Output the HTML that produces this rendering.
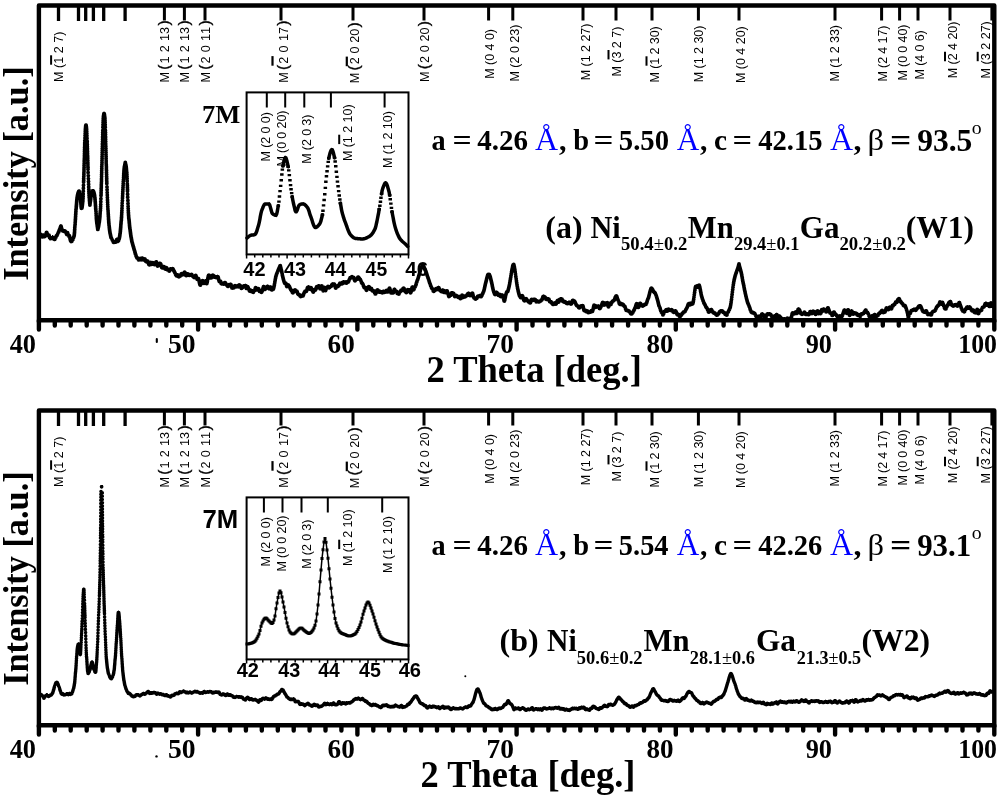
<!DOCTYPE html>
<html><head><meta charset="utf-8"><title>XRD</title>
<style>html,body{margin:0;padding:0;background:#fff}svg{display:block;will-change:transform}svg{font-family:"Liberation Sans",sans-serif;fill:#000}.s{font-family:"Liberation Serif",serif;font-weight:bold}.sr{font-family:"Liberation Serif",serif;font-weight:normal}.b{font-family:"Liberation Sans",sans-serif;font-weight:bold}.bp{font-size:15.5px;stroke:#000;stroke-width:.35}.bl{fill:#0000fa}</style></head><body>
<svg width="1000" height="799" viewBox="0 0 1000 799">
<rect width="1000" height="799" fill="#fff"/>
<defs>
<g id="frame">
<path d="M54.8,320.3V325.5M70.7,320.3V325.5M86.7,320.3V325.5M102.6,320.3V325.5M118.5,320.3V325.5M134.4,320.3V325.5M150.4,320.3V325.5M166.3,320.3V325.5M182.2,320.3V325.5M214.1,320.3V325.5M230.0,320.3V325.5M245.9,320.3V325.5M261.8,320.3V325.5M277.8,320.3V325.5M293.7,320.3V325.5M309.6,320.3V325.5M325.5,320.3V325.5M341.4,320.3V325.5M373.3,320.3V325.5M389.2,320.3V325.5M405.1,320.3V325.5M421.1,320.3V325.5M437.0,320.3V325.5M452.9,320.3V325.5M468.8,320.3V325.5M484.8,320.3V325.5M500.7,320.3V325.5M532.5,320.3V325.5M548.4,320.3V325.5M564.4,320.3V325.5M580.3,320.3V325.5M596.2,320.3V325.5M612.1,320.3V325.5M628.1,320.3V325.5M644.0,320.3V325.5M659.9,320.3V325.5M691.8,320.3V325.5M707.7,320.3V325.5M723.6,320.3V325.5M739.5,320.3V325.5M755.5,320.3V325.5M771.4,320.3V325.5M787.3,320.3V325.5M803.2,320.3V325.5M819.1,320.3V325.5M851.0,320.3V325.5M866.9,320.3V325.5M882.8,320.3V325.5M898.8,320.3V325.5M914.7,320.3V325.5M930.6,320.3V325.5M946.5,320.3V325.5M962.5,320.3V325.5M978.4,320.3V325.5M38.9,320.3V329.5M198.1,320.3V329.5M357.4,320.3V329.5M516.6,320.3V329.5M675.8,320.3V329.5M835.1,320.3V329.5M994.3,320.3V329.5" stroke="#000" stroke-width="4.4" stroke-linecap="round" fill="none"/>
<path d="M38.9,322.3V5.55H994.3V322.3M38.9,320.3H994.3" stroke="#000" stroke-width="4.4" fill="none" stroke-linejoin="round"/>
<path d="M58.5,5.55V21M78.5,5.55V21M85.7,5.55V21M93.4,5.55V21M103.7,5.55V21M125.1,5.55V21" stroke="#000" stroke-width="3.3" fill="none"/>
<path d="M164.4,5.55V20.6M184.4,5.55V20.6M205.0,5.55V20.6M281.0,5.55V20.6M353.0,5.55V20.6M424.0,5.55V20.6M488.6,5.55V20.6M512.8,5.55V20.6M583.0,5.55V20.6M616.0,5.55V20.6M652.0,5.55V20.6M698.4,5.55V20.6M739.0,5.55V20.6M835.0,5.55V20.6M881.6,5.55V20.6M899.6,5.55V20.6M918.0,5.55V20.6M950.0,5.55V20.6M991.9,5.55V20.6" stroke="#000" stroke-width="3.0" fill="none"/>
<text transform="translate(63.4,82.0) rotate(-90)" textLength="50.4" lengthAdjust="spacing" font-size="12.5">M (1 2 7)</text><path d="M51.1,64.7v-9.4" stroke="#000" stroke-width="2.0"/>
<text transform="translate(168.9,81.6) rotate(-90)" x="-0.9 11.8 18.1 29.4 40.7 47.7 56.0" font-size="12.6">M<tspan class="bp">(</tspan>1213<tspan class="bp">)</tspan></text>
<text transform="translate(189.3,81.6) rotate(-90)" x="-0.9 11.8 18.1 29.4 40.7 47.7 56.0" font-size="12.6">M<tspan class="bp">(</tspan>1213<tspan class="bp">)</tspan></text>
<text transform="translate(209.7,81.6) rotate(-90)" x="-0.9 11.8 18.1 29.4 40.7 47.7 56.0" font-size="12.6">M<tspan class="bp">(</tspan>2011<tspan class="bp">)</tspan></text>
<text transform="translate(287.8,81.8) rotate(-90)" x="-0.9 11.8 18.1 29.4 40.7 47.7 56.0" font-size="12.6">M<tspan class="bp">(</tspan>2017<tspan class="bp">)</tspan></text><path d="M272.5,65.7v-9.6" stroke="#000" stroke-width="2.2"/>
<text transform="translate(359.4,82.3) rotate(-90)" x="-0.9 11.8 18.1 28.8 39.6 46.6 54.9" font-size="12.6">M<tspan class="bp">(</tspan>2020<tspan class="bp">)</tspan></text><path d="M346.8,66.2v-9.6" stroke="#000" stroke-width="2.2"/>
<text transform="translate(428.5,81.0) rotate(-90)" x="-0.9 11.8 18.1 28.8 39.5 46.5 54.8" font-size="12.6">M<tspan class="bp">(</tspan>2020<tspan class="bp">)</tspan></text>
<text transform="translate(494.4,78.8) rotate(-90)" textLength="49.8" lengthAdjust="spacing" font-size="12.5">M (0 4 0)</text>
<text transform="translate(519.2,81.6) rotate(-90)" textLength="57.0" lengthAdjust="spacing" font-size="12.5">M (2 0 23)</text>
<text transform="translate(589.5,80.2) rotate(-90)" textLength="56.6" lengthAdjust="spacing" font-size="12.5">M (1 2 27)</text>
<text transform="translate(620.8,76.6) rotate(-90)" textLength="50.0" lengthAdjust="spacing" font-size="12.5">M (3 2 7)</text><path d="M608.5,59.4v-9.4" stroke="#000" stroke-width="2.0"/>
<text transform="translate(658.8,82.6) rotate(-90)" textLength="56.4" lengthAdjust="spacing" font-size="12.5">M (1 2 30)</text><path d="M646.5,65.7v-9.4" stroke="#000" stroke-width="2.0"/>
<text transform="translate(703.3,82.2) rotate(-90)" textLength="56.6" lengthAdjust="spacing" font-size="12.5">M (1 2 30)</text>
<text transform="translate(744.7,83.0) rotate(-90)" textLength="56.8" lengthAdjust="spacing" font-size="12.5">M (0 4 20)</text>
<text transform="translate(839.2,81.6) rotate(-90)" textLength="56.6" lengthAdjust="spacing" font-size="12.5">M (1 2 33)</text>
<text transform="translate(886.8,81.6) rotate(-90)" textLength="56.0" lengthAdjust="spacing" font-size="12.5">M (2 4 17)</text>
<text transform="translate(907.0,80.6) rotate(-90)" textLength="56.0" lengthAdjust="spacing" font-size="12.5">M (0 0 40)</text>
<text transform="translate(923.7,79.6) rotate(-90)" textLength="49.4" lengthAdjust="spacing" font-size="12.5">M (4 0 6)</text>
<text transform="translate(957.3,78.2) rotate(-90)" textLength="56.6" lengthAdjust="spacing" font-size="12.5">M (2 4 20)</text><path d="M945.0,61.2v-9.4" stroke="#000" stroke-width="2.0"/>
<text transform="translate(990.0,78.4) rotate(-90)" textLength="57.2" lengthAdjust="spacing" font-size="12.5">M (3 2 27)</text><path d="M977.7,61.2v-9.4" stroke="#000" stroke-width="2.0"/>
</g>
<g id="nums">
<text class="s" font-size="26.6" transform="translate(9.67,353.00) scale(0.9893,1)">40</text>
<text class="s" font-size="26.6" transform="translate(167.99,353.00) scale(1.0392,1)">50</text>
<text class="s" font-size="26.6" transform="translate(327.55,353.00) scale(1.0214,1)">60</text>
<text class="s" font-size="26.6" transform="translate(486.62,353.00) scale(1.0302,1)">70</text>
<text class="s" font-size="26.6" transform="translate(646.42,353.00) scale(1.0187,1)">80</text>
<text class="s" font-size="26.6" transform="translate(805.68,353.00) scale(0.9891,1)">90</text>
<text class="s" font-size="26.6" transform="translate(958.23,353.00) scale(0.9708,1)">100</text>
</g>
<g id="xt"><text class="s" font-size="38" transform="translate(426.45,381.60) scale(0.9612,1)">2 Theta [deg.]</text></g>
<text id="yt" class="s" font-size="35.5" transform="translate(27.6,280.82) rotate(-90) scale(0.9668,1)">Intensity [a.u.]</text>
<g id="inset">
<rect x="246.6" y="92.4" width="161.9" height="162" fill="#fff" stroke="#000" stroke-width="2"/>
<path d="M246.6,254.4v4.2M254.7,254.4v3.0M262.8,254.4v3.0M270.9,254.4v3.0M279.0,254.4v3.0M287.1,254.4v4.2M295.2,254.4v3.0M303.3,254.4v3.0M311.4,254.4v3.0M319.5,254.4v3.0M327.6,254.4v4.2M335.6,254.4v3.0M343.7,254.4v3.0M351.8,254.4v3.0M359.9,254.4v3.0M368.0,254.4v4.2M376.1,254.4v3.0M384.2,254.4v3.0M392.3,254.4v3.0M400.4,254.4v3.0M408.5,254.4v4.2" stroke="#000" stroke-width="1.5" fill="none"/>
<text transform="translate(270.2,161.6) rotate(-90)" textLength="49.5" lengthAdjust="spacing" font-size="12.5">M (2 0 0)</text>
<text transform="translate(286.0,166.6) rotate(-90)" textLength="56.0" lengthAdjust="spacing" font-size="12.5">M (0 0 20)</text>
<text transform="translate(310.7,163.8) rotate(-90)" textLength="49.2" lengthAdjust="spacing" font-size="12.5">M (2 0 3)</text>
<text transform="translate(351.5,161.1) rotate(-90)" textLength="56.7" lengthAdjust="spacing" font-size="12.5">M (1 2 10)</text><path d="M339.2,144.1v-9.4" stroke="#000" stroke-width="2.0"/>
<text transform="translate(391.5,168.1) rotate(-90)" textLength="57.0" lengthAdjust="spacing" font-size="12.5">M (1 2 10)</text>
</g>
</defs>
<use href="#frame" y="0.0"/>
<use href="#nums" y="0.0"/>
<use href="#xt"/>
<use href="#yt" y="0.0"/>
<use href="#inset" y="0.0"/>
<path d="M266.8,92.4v15.2M285.2,92.4v15.2M304.3,92.4v15.2M330.9,92.4v15.2M384.6,92.4v15.2" stroke="#000" stroke-width="2.0" fill="none"/>
<use href="#frame" y="405.0"/>
<use href="#nums" y="405.0"/>
<text class="s" font-size="38" transform="translate(420.55,787.30) scale(0.9593,1)">2 Theta [deg.]</text>
<use href="#yt" y="405.0"/>
<use href="#inset" y="405.0"/>
<path d="M263.9,497.4v15.2M282.5,497.4v15.2M301.5,497.4v15.2M327.8,497.4v15.2M382.2,497.4v15.2" stroke="#000" stroke-width="2.0" fill="none"/>
<text class="b" font-size="20.3" transform="translate(243.30,275.80) scale(0.9852,1)">42</text>
<text class="b" font-size="20.3" transform="translate(284.10,275.80) scale(0.9759,1)">43</text>
<text class="b" font-size="20.3" transform="translate(324.71,275.80) scale(0.9491,1)">44</text>
<text class="b" font-size="20.3" transform="translate(365.61,275.80) scale(0.9552,1)">45</text>
<text class="b" font-size="20.3" transform="translate(405.29,275.80) scale(1.0131,1)">46</text>
<text class="b" font-size="19.6" transform="translate(236.70,677.40) scale(1.0156,1)">42</text>
<text class="b" font-size="19.6" transform="translate(278.30,677.40) scale(1.0108,1)">43</text>
<text class="b" font-size="19.6" transform="translate(318.31,677.40) scale(0.9830,1)">44</text>
<text class="b" font-size="19.6" x="359.00" y="677.40">45</text>
<text class="b" font-size="19.6" transform="translate(398.70,677.40) scale(1.0252,1)">46</text>
<text class="s" font-size="26.2" transform="translate(201.98,122.80) scale(1.0122,1)">7M</text>
<text class="b" font-size="25.0" transform="translate(202.41,527.50) scale(1.0301,1)">7M</text>
<text class="s" font-size="29" transform="translate(431.58,150.40) scale(0.9754,1)">a</text>
<text class="s" font-size="29" transform="translate(452.61,150.40) scale(1.1643,1)">=</text>
<text class="s" font-size="29" x="477.14" y="150.40">4.26</text>
<text class="sr" font-size="32" x="534.98" y="150.40" fill="#0000ff">Å</text>
<text class="s" font-size="29" transform="translate(559.02,150.40) scale(1.0345,1)">,</text>
<text class="s" font-size="29" transform="translate(573.14,150.40) scale(0.9813,1)">b</text>
<text class="s" font-size="29" transform="translate(593.55,150.40) scale(1.2088,1)">=</text>
<text class="s" font-size="29" transform="translate(618.85,150.40) scale(0.9896,1)">5.50</text>
<text class="sr" font-size="32" transform="translate(676.69,150.40) scale(0.9752,1)" fill="#0000ff">Å</text>
<text class="s" font-size="29" transform="translate(700.03,150.40) scale(1.0172,1)">,</text>
<text class="s" font-size="29" transform="translate(713.97,150.40) scale(1.0121,1)">c</text>
<text class="s" font-size="29" transform="translate(732.58,150.40) scale(1.1865,1)">=</text>
<text class="s" font-size="29" transform="translate(758.14,150.40) scale(0.9875,1)">42.15</text>
<text class="sr" font-size="32" x="829.98" y="150.40" fill="#0000ff">Å</text>
<text class="s" font-size="29" transform="translate(853.40,150.40) scale(1.1034,1)">,</text>
<text class="sr" font-size="30.5" transform="translate(867.58,150.40) scale(1.0671,1)">β</text>
<text class="s" font-size="31.5" transform="translate(889.93,150.80) scale(1.1879,1)">=</text>
<text class="s" font-size="31.5" x="917.13" y="150.80">93.5</text>
<text class="sr" font-size="18.5" transform="translate(971.66,133.50) scale(1.0684,1)">o</text>
<text class="s" font-size="29" transform="translate(431.58,555.40) scale(0.9754,1)">a</text>
<text class="s" font-size="29" transform="translate(452.61,555.40) scale(1.1643,1)">=</text>
<text class="s" font-size="29" x="477.14" y="555.40">4.26</text>
<text class="sr" font-size="32" x="534.98" y="555.40" fill="#0000ff">Å</text>
<text class="s" font-size="29" transform="translate(559.02,555.40) scale(1.0345,1)">,</text>
<text class="s" font-size="29" transform="translate(573.14,555.40) scale(0.9813,1)">b</text>
<text class="s" font-size="29" transform="translate(593.55,555.40) scale(1.2088,1)">=</text>
<text class="s" font-size="29" transform="translate(618.87,555.40) scale(0.9779,1)">5.54</text>
<text class="sr" font-size="32" transform="translate(676.69,555.40) scale(0.9752,1)" fill="#0000ff">Å</text>
<text class="s" font-size="29" transform="translate(700.03,555.40) scale(1.0172,1)">,</text>
<text class="s" font-size="29" transform="translate(713.97,555.40) scale(1.0121,1)">c</text>
<text class="s" font-size="29" transform="translate(732.58,555.40) scale(1.1865,1)">=</text>
<text class="s" font-size="29" transform="translate(758.14,555.40) scale(0.9841,1)">42.26</text>
<text class="sr" font-size="32" x="829.98" y="555.40" fill="#0000ff">Å</text>
<text class="s" font-size="29" transform="translate(853.40,555.40) scale(1.1034,1)">,</text>
<text class="sr" font-size="30.5" transform="translate(867.58,555.40) scale(1.0671,1)">β</text>
<text class="s" font-size="31.5" transform="translate(889.93,555.80) scale(1.1879,1)">=</text>
<text class="s" font-size="31.5" transform="translate(917.15,555.80) scale(0.9809,1)">93.1</text>
<text class="sr" font-size="18.5" transform="translate(971.66,538.50) scale(1.0684,1)">o</text>
<text class="s" font-size="31.5" transform="translate(545.36,237.70) scale(1.0135,1)">(a)</text>
<text class="s" font-size="31.5" transform="translate(590.39,237.70) scale(0.9606,1)">Ni</text>
<text class="s" font-size="18.4" transform="translate(620.95,250.20) scale(1.0160,1)">50.4<tspan class="sr">±</tspan>0.2</text>
<text class="s" font-size="31.5" transform="translate(687.76,237.70) scale(0.9713,1)">Mn</text>
<text class="s" font-size="18.4" transform="translate(734.02,250.20) scale(1.0024,1)">29.4<tspan class="sr">±</tspan>0.1</text>
<text class="s" font-size="31.5" transform="translate(799.85,237.70) scale(0.9871,1)">Ga</text>
<text class="s" font-size="18.4" transform="translate(839.40,250.20) scale(1.0199,1)">20.2<tspan class="sr">±</tspan>0.2</text>
<text class="s" font-size="31.5" x="905.68" y="237.70">(W1)</text>
<text class="s" font-size="31.5" transform="translate(499.56,651.40) scale(1.0153,1)">(b)</text>
<text class="s" font-size="31.5" transform="translate(547.01,651.40) scale(0.9409,1)">Ni</text>
<text class="s" font-size="18.4" transform="translate(576.86,663.90) scale(1.0066,1)">50.6<tspan class="sr">±</tspan>0.2</text>
<text class="s" font-size="31.5" transform="translate(643.56,651.40) scale(0.9756,1)">Mn</text>
<text class="s" font-size="18.4" transform="translate(689.82,663.90) scale(0.9990,1)">28.1<tspan class="sr">±</tspan>0.6</text>
<text class="s" font-size="31.5" transform="translate(755.93,651.40) scale(0.9949,1)">Ga</text>
<text class="s" font-size="18.4" transform="translate(796.73,663.90) scale(0.9871,1)">21.3<tspan class="sr">±</tspan>0.5</text>
<text class="s" font-size="31.5" transform="translate(861.57,651.40) scale(1.0055,1)">(W2)</text>
<path d="M40.3,234.5h0M40.4,234.6h0M40.5,234.6h0M40.6,234.6h0M40.7,234.5h0M40.8,234.5h0M41.0,234.6h0M41.1,234.6h0M41.2,234.7h0M41.3,234.9h0M41.4,235.2h0M41.5,235.5h0M41.6,235.8h0M41.7,236.1h0M41.8,236.4h0M41.9,236.7h0M42.1,236.8h0M42.2,236.9h0M42.3,236.9h0M42.4,236.8h0M42.5,236.7h0M42.6,236.5h0M42.7,236.3h0M42.8,236.0h0M42.9,235.8h0M43.0,235.7h0M43.2,235.6h0M43.3,235.5h0M43.4,235.5h0M43.5,235.5h0M43.6,235.6h0M43.7,235.8h0M43.8,236.0h0M43.9,236.1h0M44.0,236.3h0M44.1,236.4h0M44.3,236.5h0M44.4,236.6h0M44.5,236.6h0M44.6,236.6h0M44.7,236.5h0M44.8,236.5h0M44.9,236.4h0M45.0,236.3h0M45.1,236.1h0M45.2,236.0h0M45.4,235.8h0M45.5,235.6h0M45.6,235.3h0M45.7,235.0h0M45.8,234.7h0M45.9,234.3h0M46.0,233.9h0M46.1,233.6h0M46.2,233.2h0M46.3,232.9h0M46.5,232.7h0M46.6,232.5h0M46.7,232.6h0M46.8,232.7h0M46.9,232.9h0M47.0,233.1h0M47.1,233.4h0M47.2,233.6h0M47.3,233.9h0M47.4,234.2h0M47.6,234.5h0M47.7,234.7h0M47.8,235.0h0M47.9,235.2h0M48.0,235.4h0M48.1,235.5h0M48.2,235.5h0M48.3,235.5h0M48.4,235.4h0M48.5,235.3h0M48.7,235.2h0M48.8,235.2h0M48.9,235.2h0M49.0,235.3h0M49.1,235.5h0M49.2,235.8h0M49.3,236.1h0M49.4,236.5h0M49.5,237.0h0M49.6,237.4h0M49.8,237.7h0M49.9,238.1h0M50.0,238.3h0M50.1,238.5h0M50.2,238.6h0M50.3,238.6h0M50.4,238.5h0M50.5,238.4h0M50.6,238.4h0M50.7,238.3h0M50.9,238.2h0M51.0,238.2h0M51.1,238.2h0M51.2,238.1h0M51.3,238.1h0M51.4,238.1h0M51.5,238.2h0M51.6,238.1h0M51.7,238.1h0M51.8,238.1h0M52.0,238.1h0M52.1,238.0h0M52.2,238.0h0M52.3,237.9h0M52.4,237.8h0M52.5,237.7h0M52.6,237.6h0M52.7,237.6h0M52.8,237.6h0M52.9,237.6h0M53.1,237.7h0M53.2,237.9h0M53.3,238.1h0M53.4,238.3h0M53.5,238.5h0M53.6,238.7h0M53.7,238.8h0M53.8,238.9h0M53.9,239.0h0M54.0,239.1h0M54.2,239.2h0M54.3,239.3h0M54.4,239.3h0M54.5,239.3h0M54.6,239.3h0M54.7,239.3h0M54.8,239.3h0M54.9,239.2h0M55.0,239.1h0M55.1,239.0h0M55.3,238.8h0M55.4,238.6h0M55.5,238.3h0M55.6,238.1h0M55.7,237.8h0M55.8,237.5h0M55.9,237.1h0M56.0,236.9h0M56.1,236.6h0M56.2,236.3h0M56.4,236.1h0M56.5,236.0h0M56.6,235.8h0M56.7,235.7h0M56.8,235.6h0M56.9,235.6h0M57.0,235.5h0M57.1,235.4h0M57.2,235.2h0M57.3,235.0h0M57.5,234.8h0M57.6,234.6h0M57.7,234.3h0M57.8,234.1h0M57.9,233.8h0M58.0,233.6h0M58.1,233.3h0M58.2,233.1h0M58.3,232.8h0M58.4,232.5h0M58.6,232.2h0M58.7,231.9h0M58.8,231.6h0M58.9,231.3h0M59.0,231.1h0M59.1,230.8h0M59.2,230.6h0M59.3,230.3h0M59.4,230.1h0M59.5,229.8h0M59.7,229.5h0M59.8,229.2h0M59.9,229.0h0M60.0,228.6h0M60.1,228.3h0M60.2,228.0h0M60.3,227.6h0M60.4,227.3h0M60.5,226.9h0M60.6,226.6h0M60.8,226.3h0M60.9,226.1h0M61.0,226.1h0M61.1,226.4h0M61.2,226.8h0M61.3,227.2h0M61.4,227.7h0M61.5,228.1h0M61.6,228.5h0M61.7,228.8h0M61.9,229.2h0M62.0,229.5h0M62.1,229.8h0M62.2,230.0h0M62.3,230.3h0M62.4,230.5h0M62.5,230.6h0M62.6,230.8h0M62.7,230.9h0M62.8,230.9h0M63.0,230.9h0M63.1,230.8h0M63.2,230.8h0M63.3,230.8h0M63.4,230.8h0M63.5,230.9h0M63.6,231.0h0M63.7,231.1h0M63.8,231.2h0M63.9,231.3h0M64.1,231.4h0M64.2,231.4h0M64.3,231.3h0M64.4,231.3h0M64.5,231.2h0M64.6,231.1h0M64.7,231.0h0M64.8,231.0h0M64.9,231.1h0M65.0,231.2h0M65.2,231.4h0M65.3,231.6h0M65.4,231.8h0M65.5,232.1h0M65.6,232.3h0M65.7,232.6h0M65.8,232.8h0M65.9,233.1h0M66.0,233.3h0M66.1,233.6h0M66.3,233.8h0M66.4,234.0h0M66.5,234.2h0M66.6,234.3h0M66.7,234.4h0M66.8,234.4h0M66.9,234.3h0M67.0,234.0h0M67.1,233.7h0M67.2,233.3h0M67.4,232.9h0M67.5,232.8h0M67.6,233.0h0M67.7,233.3h0M67.8,233.6h0M67.9,234.1h0M68.0,234.5h0M68.1,234.9h0M68.2,235.3h0M68.3,235.6h0M68.5,235.8h0M68.6,236.0h0M68.7,236.0h0M68.8,236.1h0M68.9,236.0h0M69.0,235.9h0M69.1,235.8h0M69.2,235.7h0M69.3,235.8h0M69.4,236.1h0M69.6,236.5h0M69.7,236.9h0M69.8,237.3h0M69.9,237.8h0M70.0,238.2h0M70.1,238.7h0M70.2,239.2h0M70.3,239.7h0M70.4,240.1h0M70.5,240.5h0M70.7,240.9h0M70.8,241.2h0M70.9,241.4h0M71.0,241.5h0M71.1,241.4h0M71.2,241.3h0M71.3,241.3h0M71.4,241.3h0M71.5,241.3h0M71.6,241.3h0M71.8,241.3h0M71.9,241.3h0M72.0,241.2h0M72.1,241.1h0M72.2,240.9h0M72.3,240.7h0M72.4,240.5h0M72.5,240.3h0M72.6,240.0h0M72.7,239.7h0M72.9,239.4h0M73.0,239.1h0M73.1,238.8h0M73.2,238.5h0M73.3,238.2h0M73.4,238.0h0M73.5,237.7h0M73.6,237.4h0M73.7,237.1h0M73.8,236.7h0M74.0,236.3h0M74.1,235.9h0M74.2,235.5h0M74.3,234.7h0M74.4,233.6h0M74.5,232.4h0M74.6,231.0h0M74.7,229.4h0M74.8,227.8h0M74.9,226.1h0M75.1,224.4h0M75.2,222.7h0M75.3,221.1h0M75.4,219.5h0M75.5,218.0h0M75.6,216.3h0M75.7,214.6h0M75.8,212.9h0M75.9,211.2h0M76.0,209.5h0M76.2,208.0h0M76.3,206.6h0M76.4,205.4h0M76.5,204.2h0M76.6,203.0h0M76.7,201.8h0M76.8,200.7h0M76.9,199.6h0M77.0,198.6h0M77.1,197.7h0M77.3,196.8h0M77.4,196.1h0M77.5,195.4h0M77.6,194.9h0M77.7,194.5h0M77.8,194.1h0M77.9,193.7h0M78.0,193.3h0M78.1,192.9h0M78.2,192.6h0M78.4,192.3h0M78.5,192.0h0M78.6,191.8h0M78.7,191.6h0M78.8,191.5h0M78.9,191.5h0M79.0,191.3h0M79.1,191.2h0M79.2,191.4h0M79.3,191.7h0M79.5,192.2h0M79.6,192.7h0M79.7,193.4h0M79.8,194.1h0M79.9,194.8h0M80.0,195.5h0M80.1,196.2h0M80.2,197.0h0M80.3,197.7h0M80.4,198.6h0M80.6,199.7h0M80.7,200.9h0M80.8,202.2h0M80.9,203.5h0M81.0,204.7h0M81.1,205.9h0M81.2,206.9h0M81.3,207.8h0M81.4,208.2h0M81.5,207.3h0M81.7,206.8h0M81.8,208.0h0M81.9,208.0h0M82.0,207.6h0M82.1,207.0h0M82.2,206.3h0M82.3,205.5h0M82.4,204.8h0M82.5,203.8h0M82.6,202.7h0M82.8,201.4h0M82.9,200.0h0M83.0,198.3h0M83.1,196.4h0M83.2,194.0h0M83.3,191.2h0M83.4,188.2h0M83.5,185.2h0M83.6,181.9h0M83.7,180.2h0M83.7,178.4h0M83.8,176.6h0M83.9,174.7h0M83.9,172.9h0M84.0,171.0h0M84.0,169.1h0M84.1,167.2h0M84.1,165.2h0M84.2,163.2h0M84.2,161.1h0M84.3,159.1h0M84.4,157.1h0M84.4,155.1h0M84.5,153.2h0M84.5,151.3h0M84.6,149.5h0M84.6,147.7h0M84.7,145.9h0M84.7,144.1h0M84.8,142.5h0M84.8,140.8h0M85.0,137.9h0M85.1,135.5h0M85.2,133.3h0M85.3,131.3h0M85.4,129.7h0M85.5,128.4h0M85.6,127.3h0M85.7,126.3h0M85.8,125.5h0M85.9,125.2h0M86.1,125.3h0M86.2,125.6h0M86.3,126.4h0M86.4,127.5h0M86.5,128.6h0M86.6,129.8h0M86.7,131.5h0M86.8,133.5h0M86.9,135.7h0M87.0,138.2h0M87.2,141.2h0M87.2,142.9h0M87.3,144.6h0M87.3,146.4h0M87.4,148.2h0M87.4,149.9h0M87.5,151.7h0M87.5,153.4h0M87.6,155.2h0M87.7,157.0h0M87.7,158.8h0M87.8,160.6h0M87.8,162.4h0M87.9,164.1h0M87.9,165.9h0M88.0,167.5h0M88.0,169.2h0M88.1,172.4h0M88.3,175.6h0M88.4,178.6h0M88.5,181.5h0M88.6,184.2h0M88.7,186.9h0M88.8,189.5h0M88.9,191.7h0M89.0,193.6h0M89.1,195.4h0M89.2,197.2h0M89.4,198.9h0M89.5,200.5h0M89.6,201.8h0M89.7,202.9h0M89.8,203.7h0M89.9,205.1h0M90.0,203.9h0M90.1,203.2h0M90.2,202.5h0M90.3,201.7h0M90.5,200.8h0M90.6,199.8h0M90.7,198.8h0M90.8,197.8h0M90.9,196.8h0M91.0,196.0h0M91.1,195.4h0M91.2,195.0h0M91.3,194.6h0M91.4,194.1h0M91.6,193.7h0M91.7,193.3h0M91.8,192.9h0M91.9,192.5h0M92.0,192.2h0M92.1,191.9h0M92.2,191.6h0M92.3,191.3h0M92.4,191.0h0M92.5,190.9h0M92.7,190.9h0M92.8,190.9h0M92.9,190.9h0M93.0,191.0h0M93.1,191.0h0M93.2,191.1h0M93.3,191.2h0M93.4,191.3h0M93.5,191.5h0M93.6,191.8h0M93.8,192.1h0M93.9,192.4h0M94.0,192.8h0M94.1,193.2h0M94.2,193.6h0M94.3,194.0h0M94.4,194.4h0M94.5,195.1h0M94.6,195.8h0M94.7,196.7h0M94.9,197.8h0M95.0,198.9h0M95.1,200.1h0M95.2,201.4h0M95.3,202.7h0M95.4,204.1h0M95.5,205.4h0M95.6,206.7h0M95.7,208.2h0M95.8,209.8h0M96.0,211.6h0M96.1,213.5h0M96.2,215.3h0M96.3,216.9h0M96.4,218.4h0M96.5,219.5h0M96.6,220.6h0M96.7,221.6h0M96.8,222.6h0M96.9,223.5h0M97.1,224.5h0M97.2,225.3h0M97.3,226.1h0M97.4,226.8h0M97.5,227.3h0M97.6,227.9h0M97.7,228.7h0M97.8,229.4h0M97.9,228.9h0M98.0,228.4h0M98.2,227.9h0M98.3,227.5h0M98.4,227.0h0M98.5,226.5h0M98.6,226.0h0M98.7,225.4h0M98.8,224.8h0M98.9,224.1h0M99.0,223.4h0M99.1,222.7h0M99.3,221.9h0M99.4,221.1h0M99.5,220.3h0M99.6,219.5h0M99.7,218.6h0M99.8,217.6h0M99.9,216.5h0M100.0,215.1h0M100.1,213.7h0M100.2,212.1h0M100.4,210.4h0M100.5,208.6h0M100.6,206.7h0M100.7,204.5h0M100.8,201.8h0M100.9,198.8h0M101.0,195.6h0M101.1,193.9h0M101.1,192.2h0M101.2,190.5h0M101.2,188.7h0M101.3,186.9h0M101.3,185.0h0M101.4,183.0h0M101.5,181.0h0M101.5,178.9h0M101.6,176.8h0M101.6,174.8h0M101.7,172.7h0M101.7,170.7h0M101.8,168.7h0M101.8,166.7h0M101.9,164.7h0M102.0,162.7h0M102.0,160.7h0M102.1,158.7h0M102.1,156.7h0M102.2,154.6h0M102.2,152.6h0M102.3,150.5h0M102.3,148.5h0M102.4,146.2h0M102.4,143.9h0M102.5,141.6h0M102.6,139.2h0M102.6,136.9h0M102.7,134.6h0M102.7,132.6h0M102.8,130.5h0M102.9,127.3h0M103.0,124.7h0M103.1,122.3h0M103.2,120.3h0M103.3,118.5h0M103.4,117.1h0M103.5,116.1h0M103.7,115.2h0M103.8,114.4h0M103.9,113.8h0M104.0,113.7h0M104.1,115.5h0M104.2,113.8h0M104.3,113.9h0M104.4,114.5h0M104.5,115.3h0M104.6,116.2h0M104.8,117.2h0M104.9,118.5h0M105.0,120.3h0M105.1,122.3h0M105.2,124.7h0M105.3,127.3h0M105.4,130.5h0M105.5,132.6h0M105.5,134.6h0M105.6,136.9h0M105.6,139.2h0M105.7,141.6h0M105.7,143.9h0M105.8,146.2h0M105.9,148.5h0M105.9,150.5h0M106.0,152.6h0M106.0,154.7h0M106.1,156.8h0M106.1,158.8h0M106.2,160.9h0M106.2,162.9h0M106.3,164.9h0M106.4,166.9h0M106.4,168.9h0M106.5,170.8h0M106.5,172.7h0M106.6,174.6h0M106.6,176.4h0M106.7,178.3h0M106.7,180.1h0M106.8,181.9h0M106.8,183.6h0M107.0,186.9h0M107.1,189.8h0M107.2,192.6h0M107.3,195.1h0M107.4,197.5h0M107.5,199.9h0M107.6,202.2h0M107.7,204.6h0M107.8,206.8h0M107.9,209.0h0M108.1,211.0h0M108.2,213.0h0M108.3,214.7h0M108.4,216.3h0M108.5,217.9h0M108.6,219.4h0M108.7,220.9h0M108.8,222.3h0M108.9,223.6h0M109.0,224.9h0M109.2,226.1h0M109.3,227.2h0M109.4,228.2h0M109.5,229.2h0M109.6,230.0h0M109.7,230.7h0M109.8,231.4h0M109.9,232.1h0M110.0,232.8h0M110.1,233.4h0M110.3,234.0h0M110.4,234.6h0M110.5,235.1h0M110.6,235.6h0M110.7,236.1h0M110.8,236.6h0M110.9,237.0h0M111.0,237.4h0M111.1,237.7h0M111.2,238.0h0M111.4,238.3h0M111.5,238.5h0M111.6,238.8h0M111.7,239.0h0M111.8,239.2h0M111.9,239.5h0M112.0,239.7h0M112.1,239.9h0M112.2,240.1h0M112.3,240.3h0M112.5,240.6h0M112.6,240.8h0M112.7,241.1h0M112.8,241.3h0M112.9,241.5h0M113.0,241.7h0M113.1,241.9h0M113.2,242.1h0M113.3,242.2h0M113.4,242.3h0M113.6,242.3h0M113.7,242.3h0M113.8,242.4h0M113.9,242.3h0M114.0,242.3h0M114.1,242.2h0M114.2,242.1h0M114.3,242.1h0M114.4,242.0h0M114.5,241.9h0M114.7,241.9h0M114.8,241.9h0M114.9,241.9h0M115.0,241.9h0M115.1,241.9h0M115.2,242.0h0M115.3,242.1h0M115.4,242.1h0M115.5,242.1h0M115.6,242.1h0M115.8,242.1h0M115.9,242.0h0M116.0,241.8h0M116.1,241.6h0M116.2,241.3h0M116.3,241.0h0M116.4,240.6h0M116.5,240.2h0M116.6,239.9h0M116.7,239.7h0M116.9,239.6h0M117.0,239.6h0M117.1,239.8h0M117.2,240.0h0M117.3,240.3h0M117.4,240.6h0M117.5,240.9h0M117.6,241.1h0M117.7,241.2h0M117.8,241.3h0M118.0,241.3h0M118.1,241.3h0M118.2,241.2h0M118.3,241.1h0M118.4,240.9h0M118.5,240.7h0M118.6,240.4h0M118.7,240.1h0M118.8,239.8h0M118.9,239.5h0M119.1,239.1h0M119.2,238.7h0M119.3,238.3h0M119.4,237.8h0M119.5,237.3h0M119.6,236.8h0M119.7,236.2h0M119.8,235.5h0M119.9,234.7h0M120.0,233.8h0M120.2,232.9h0M120.3,231.8h0M120.4,230.7h0M120.5,229.6h0M120.6,228.4h0M120.7,227.2h0M120.8,225.9h0M120.9,224.6h0M121.0,223.3h0M121.1,222.0h0M121.3,220.6h0M121.4,219.1h0M121.5,217.5h0M121.6,215.9h0M121.7,214.1h0M121.8,212.3h0M121.9,210.4h0M122.0,208.2h0M122.1,205.7h0M122.2,203.1h0M122.4,200.6h0M122.5,198.1h0M122.6,195.9h0M122.7,193.8h0M122.8,191.7h0M122.9,189.7h0M123.0,187.7h0M123.1,185.7h0M123.2,183.7h0M123.3,181.5h0M123.5,179.4h0M123.6,177.2h0M123.7,175.2h0M123.8,173.5h0M123.9,172.0h0M124.0,170.8h0M124.1,169.6h0M124.2,168.6h0M124.3,167.6h0M124.4,166.8h0M124.6,166.1h0M124.7,165.6h0M124.8,165.0h0M124.9,164.5h0M125.0,164.0h0M125.1,163.5h0M125.2,162.9h0M125.3,162.4h0M125.4,163.2h0M125.5,163.8h0M125.7,164.2h0M125.8,164.8h0M125.9,165.3h0M126.0,165.9h0M126.1,166.5h0M126.2,167.3h0M126.3,168.1h0M126.4,169.1h0M126.5,170.2h0M126.6,171.4h0M126.8,172.8h0M126.9,174.4h0M127.0,176.4h0M127.1,178.6h0M127.2,181.0h0M127.3,184.0h0M127.4,185.7h0M127.4,187.5h0M127.5,189.2h0M127.5,191.0h0M127.6,194.2h0M127.7,197.3h0M127.9,200.4h0M128.0,203.4h0M128.1,206.2h0M128.2,208.6h0M128.3,210.7h0M128.4,212.5h0M128.5,214.1h0M128.6,215.6h0M128.7,216.9h0M128.8,218.2h0M129.0,219.4h0M129.1,220.6h0M129.2,221.7h0M129.3,222.8h0M129.4,223.8h0M129.5,224.9h0M129.6,225.9h0M129.7,226.9h0M129.8,227.8h0M129.9,228.7h0M130.1,229.7h0M130.2,230.5h0M130.3,231.4h0M130.4,232.2h0M130.5,233.0h0M130.6,233.8h0M130.7,234.6h0M130.8,235.3h0M130.9,236.0h0M131.0,236.7h0M131.2,237.4h0M131.3,238.0h0M131.4,238.7h0M131.5,239.3h0M131.6,239.8h0M131.7,240.4h0M131.8,240.9h0M131.9,241.4h0M132.0,241.9h0M132.1,242.3h0M132.3,242.8h0M132.4,243.2h0M132.5,243.6h0M132.6,243.9h0M132.7,244.3h0M132.8,244.7h0M132.9,245.1h0M133.0,245.5h0M133.1,245.8h0M133.2,246.2h0M133.4,246.6h0M133.5,247.0h0M133.6,247.4h0M133.7,247.8h0M133.8,248.2h0M133.9,248.5h0M134.0,248.9h0M134.1,249.3h0M134.2,249.6h0M134.3,250.0h0M134.5,250.4h0M134.6,250.8h0M134.7,251.1h0M134.8,251.5h0M134.9,251.9h0M135.0,252.3h0M135.1,252.7h0M135.2,253.1h0M135.3,253.5h0M135.4,253.9h0M135.6,254.2h0M135.7,254.6h0M135.8,255.0h0M135.9,255.3h0M136.0,255.7h0M136.3,256.6h0M136.6,257.3h0M136.9,257.8h0M137.2,257.9h0M137.5,258.0h0M137.8,258.4h0M138.1,259.0h0M138.4,259.5h0M138.7,259.9h0M139.0,259.8h0M139.3,259.5h0M139.6,259.1h0M139.9,258.7h0M140.2,258.5h0M140.5,258.8h0M140.8,259.5h0M141.1,259.8h0M141.4,259.5h0M141.7,258.7h0M142.0,258.2h0M142.3,258.3h0M142.6,258.9h0M142.9,259.5h0M143.2,259.8h0M143.5,259.7h0M143.8,259.4h0M144.1,259.2h0M144.4,259.1h0M144.7,258.9h0M145.0,259.2h0M145.3,260.0h0M145.6,260.9h0M145.9,261.4h0M146.2,261.6h0M146.5,261.7h0M146.8,261.7h0M147.1,261.6h0M147.4,261.3h0M147.7,261.3h0M148.0,261.9h0M148.3,262.8h0M148.6,263.8h0M148.9,264.4h0M149.2,264.8h0M149.5,264.8h0M149.8,264.4h0M150.1,263.5h0M150.4,262.7h0M150.7,262.5h0M151.0,263.0h0M151.3,263.7h0M151.6,264.2h0M151.9,264.0h0M152.2,263.5h0M152.5,263.0h0M152.8,262.8h0M153.1,263.0h0M153.4,263.4h0M153.7,264.0h0M154.0,264.4h0M154.3,264.6h0M154.6,264.5h0M154.9,264.2h0M155.2,263.6h0M155.5,263.0h0M155.8,262.4h0M156.1,261.9h0M156.4,262.0h0M156.7,262.8h0M157.0,264.3h0M157.3,265.6h0M157.6,266.1h0M157.9,265.9h0M158.2,265.2h0M158.5,264.6h0M158.8,264.1h0M159.1,263.8h0M159.4,263.6h0M159.7,263.5h0M160.0,263.5h0M160.3,263.6h0M160.6,263.9h0M160.9,264.5h0M161.2,265.4h0M161.5,266.5h0M161.8,267.4h0M162.1,267.8h0M162.4,267.9h0M162.7,267.7h0M163.0,267.3h0M163.3,266.9h0M163.6,266.6h0M163.9,266.6h0M164.2,266.9h0M164.5,267.4h0M164.8,268.1h0M165.1,268.7h0M165.4,269.0h0M165.7,268.8h0M166.0,268.2h0M166.3,267.8h0M166.6,267.9h0M166.9,268.5h0M167.2,269.2h0M167.5,269.8h0M167.8,269.9h0M168.1,269.8h0M168.4,269.9h0M168.7,270.3h0M169.0,270.7h0M169.3,271.0h0M169.6,270.7h0M169.9,270.0h0M170.2,269.3h0M170.5,268.9h0M170.8,268.9h0M171.1,269.1h0M171.4,269.2h0M171.7,269.2h0M172.0,269.1h0M172.3,268.9h0M172.6,268.8h0M172.9,269.0h0M173.2,269.5h0M173.5,270.2h0M173.8,270.8h0M174.1,271.3h0M174.4,271.8h0M174.7,272.4h0M175.0,273.0h0M175.3,273.7h0M175.6,274.4h0M175.9,275.0h0M176.2,275.5h0M176.5,275.7h0M176.8,275.6h0M177.1,275.3h0M177.4,275.0h0M177.7,274.9h0M178.0,275.1h0M178.3,275.8h0M178.6,276.5h0M178.9,276.8h0M179.2,276.6h0M179.5,276.3h0M179.8,276.1h0M180.1,276.0h0M180.4,275.8h0M180.7,275.2h0M181.0,274.5h0M181.3,273.9h0M181.6,273.8h0M181.9,274.3h0M182.2,274.7h0M182.5,274.7h0M182.8,274.4h0M183.1,274.2h0M183.4,273.9h0M183.7,273.6h0M184.0,273.1h0M184.3,272.5h0M184.6,272.2h0M184.9,272.5h0M185.2,273.3h0M185.5,274.4h0M185.8,275.2h0M186.1,275.6h0M186.4,275.5h0M186.7,275.1h0M187.0,274.6h0M187.3,274.2h0M187.6,274.0h0M187.9,274.0h0M188.2,274.2h0M188.5,274.6h0M188.8,275.0h0M189.1,275.3h0M189.4,275.3h0M189.7,275.1h0M190.0,274.9h0M190.3,274.9h0M190.6,274.9h0M190.9,274.8h0M191.2,274.7h0M191.5,274.5h0M191.8,274.8h0M192.1,275.4h0M192.4,275.9h0M192.7,276.2h0M193.0,276.2h0M193.3,276.4h0M193.6,276.9h0M193.9,277.4h0M194.2,277.5h0M194.5,277.1h0M194.8,276.5h0M195.1,276.0h0M195.4,275.6h0M195.7,275.5h0M196.0,275.9h0M196.3,276.8h0M196.6,278.0h0M196.9,278.8h0M197.2,279.2h0M197.5,279.0h0M197.8,278.7h0M198.1,278.5h0M198.4,278.7h0M198.7,279.3h0M199.0,280.5h0M199.3,282.0h0M199.6,283.5h0M199.9,284.5h0M200.2,285.0h0M200.5,285.0h0M200.8,284.2h0M201.1,282.9h0M201.4,281.8h0M201.7,281.1h0M202.0,280.9h0M202.3,280.9h0M202.6,280.8h0M202.9,280.9h0M203.2,281.5h0M203.5,282.5h0M203.8,283.3h0M204.1,283.3h0M204.4,282.5h0M204.7,281.7h0M205.0,281.3h0M205.3,281.2h0M205.6,281.3h0M205.9,281.8h0M206.2,282.7h0M206.5,283.5h0M206.8,283.5h0M207.1,282.5h0M207.4,281.0h0M207.7,279.2h0M208.0,277.4h0M208.3,276.1h0M208.6,275.4h0M208.9,275.3h0M209.2,275.4h0M209.5,275.7h0M209.8,276.2h0M210.1,276.7h0M210.4,277.2h0M210.7,277.6h0M211.0,277.9h0M211.3,277.7h0M211.6,277.1h0M211.9,276.4h0M212.2,275.8h0M212.5,275.4h0M212.8,275.3h0M213.1,275.5h0M213.4,276.2h0M213.7,276.9h0M214.0,277.1h0M214.3,276.9h0M214.6,276.7h0M214.9,276.7h0M215.2,276.8h0M215.5,277.0h0M215.8,277.3h0M216.1,277.5h0M216.4,277.4h0M216.7,277.1h0M217.0,276.9h0M217.3,276.8h0M217.6,276.8h0M217.9,276.9h0M218.2,277.3h0M218.5,278.4h0M218.8,279.9h0M219.1,281.1h0M219.4,281.6h0M219.7,281.4h0M220.0,281.2h0M220.3,281.1h0M220.6,281.5h0M220.9,282.4h0M221.2,283.4h0M221.5,283.8h0M221.8,283.7h0M222.1,283.3h0M222.4,283.2h0M222.7,283.4h0M223.0,283.5h0M223.3,283.8h0M223.6,284.0h0M223.9,284.0h0M224.2,283.7h0M224.5,283.2h0M224.8,282.8h0M225.1,282.7h0M225.4,282.9h0M225.7,283.5h0M226.0,284.1h0M226.3,284.6h0M226.6,284.9h0M226.9,285.2h0M227.2,285.6h0M227.5,286.0h0M227.8,286.3h0M228.1,286.4h0M228.4,285.9h0M228.7,285.2h0M229.0,284.8h0M229.3,285.0h0M229.6,285.3h0M229.9,285.2h0M230.2,284.7h0M230.5,284.4h0M230.8,284.4h0M231.1,284.9h0M231.4,285.9h0M231.7,287.0h0M232.0,287.9h0M232.3,288.0h0M232.6,287.6h0M232.9,287.2h0M233.2,287.1h0M233.5,287.4h0M233.8,287.7h0M234.1,287.3h0M234.4,286.6h0M234.7,286.0h0M235.0,285.7h0M235.3,285.9h0M235.6,286.2h0M235.9,286.6h0M236.2,286.7h0M236.5,286.5h0M236.8,286.2h0M237.1,285.9h0M237.4,285.9h0M237.7,286.2h0M238.0,286.6h0M238.3,286.7h0M238.6,286.3h0M238.9,285.5h0M239.2,285.0h0M239.5,285.1h0M239.8,285.5h0M240.1,285.7h0M240.4,285.9h0M240.7,286.5h0M241.0,287.5h0M241.3,288.2h0M241.6,288.3h0M241.9,288.1h0M242.2,287.8h0M242.5,287.5h0M242.8,287.1h0M243.1,286.6h0M243.4,286.3h0M243.7,286.2h0M244.0,286.2h0M244.3,286.2h0M244.6,286.1h0M244.9,285.9h0M245.2,285.6h0M245.5,285.7h0M245.8,286.6h0M246.1,287.8h0M246.4,288.4h0M246.7,288.0h0M247.0,287.3h0M247.3,286.8h0M247.6,286.8h0M247.9,287.1h0M248.2,287.6h0M248.5,288.4h0M248.8,289.2h0M249.1,290.1h0M249.4,290.7h0M249.7,291.0h0M250.0,290.9h0M250.3,290.5h0M250.6,290.2h0M250.9,290.5h0M251.2,291.0h0M251.5,291.5h0M251.8,291.4h0M252.1,291.0h0M252.4,291.0h0M252.7,291.5h0M253.0,292.1h0M253.3,292.2h0M253.6,291.7h0M253.9,291.1h0M254.2,290.8h0M254.5,290.6h0M254.8,290.1h0M255.1,289.0h0M255.4,288.0h0M255.7,287.7h0M256.0,288.0h0M256.3,288.8h0M256.6,289.4h0M256.9,289.7h0M257.2,289.7h0M257.5,289.6h0M257.8,289.4h0M258.1,289.1h0M258.4,288.8h0M258.7,289.0h0M259.0,289.8h0M259.3,290.8h0M259.6,291.4h0M259.9,291.3h0M260.2,291.1h0M260.5,290.9h0M260.8,291.1h0M261.1,291.7h0M261.4,292.2h0M261.7,292.1h0M262.0,291.5h0M262.3,290.7h0M262.6,289.7h0M262.9,288.7h0M263.2,287.6h0M263.5,286.8h0M263.8,286.7h0M264.1,287.4h0M264.4,288.4h0M264.7,289.1h0M265.0,289.4h0M265.3,289.0h0M265.6,288.4h0M265.9,288.0h0M266.2,287.8h0M266.5,287.6h0M266.8,287.2h0M267.1,286.7h0M267.4,286.4h0M267.7,286.4h0M268.0,286.7h0M268.3,287.3h0M268.6,288.0h0M268.9,288.5h0M269.2,288.7h0M269.5,288.5h0M269.8,288.1h0M270.1,287.6h0M270.4,287.3h0M270.7,287.2h0M271.0,287.7h0M271.3,288.7h0M271.6,289.6h0M271.9,289.9h0M272.2,289.6h0M272.5,289.1h0M272.8,289.0h0M273.1,289.1h0M273.4,289.0h0M273.7,288.1h0M274.0,286.8h0M274.3,285.3h0M274.6,283.6h0M274.9,281.8h0M275.2,279.9h0M275.5,278.2h0M275.8,276.8h0M276.1,275.7h0M276.4,274.7h0M276.7,274.0h0M277.0,273.3h0M277.3,272.6h0M277.6,271.7h0M277.9,270.9h0M278.2,270.1h0M278.5,269.4h0M278.8,268.7h0M279.1,268.1h0M279.4,267.4h0M279.7,266.7h0M280.0,265.9h0M280.3,265.7h0M280.6,266.9h0M280.9,268.1h0M281.2,269.4h0M281.5,270.5h0M281.8,271.9h0M282.1,273.6h0M282.4,275.2h0M282.7,276.5h0M283.0,277.7h0M283.3,278.9h0M283.6,280.1h0M283.9,281.1h0M284.2,282.0h0M284.5,282.7h0M284.8,283.2h0M285.1,283.3h0M285.4,283.2h0M285.7,283.3h0M286.0,283.8h0M286.3,284.8h0M286.6,286.0h0M286.9,286.5h0M287.2,286.3h0M287.5,285.7h0M287.8,285.1h0M288.1,285.0h0M288.4,285.3h0M288.7,285.7h0M289.0,286.1h0M289.3,286.5h0M289.6,287.0h0M289.9,287.7h0M290.2,288.5h0M290.5,289.2h0M290.8,289.6h0M291.1,290.0h0M291.4,290.4h0M291.7,291.0h0M292.0,291.6h0M292.3,292.2h0M292.6,292.6h0M292.9,292.7h0M293.2,292.5h0M293.5,291.9h0M293.8,291.3h0M294.1,290.7h0M294.4,290.4h0M294.7,290.1h0M295.0,290.0h0M295.3,290.3h0M295.6,290.8h0M295.9,291.4h0M296.2,291.6h0M296.5,291.4h0M296.8,291.3h0M297.1,291.6h0M297.4,292.4h0M297.7,293.4h0M298.0,294.1h0M298.3,294.4h0M298.6,294.4h0M298.9,294.5h0M299.2,294.8h0M299.5,295.1h0M299.8,295.4h0M300.1,295.9h0M300.4,296.4h0M300.7,296.6h0M301.0,296.4h0M301.3,296.0h0M301.6,295.6h0M301.9,295.4h0M302.2,295.4h0M302.5,295.6h0M302.8,295.9h0M303.1,295.8h0M303.4,295.0h0M303.7,294.0h0M304.0,293.3h0M304.3,292.8h0M304.6,292.3h0M304.9,291.7h0M305.2,291.2h0M305.5,291.1h0M305.8,291.3h0M306.1,291.4h0M306.4,291.2h0M306.7,290.5h0M307.0,289.4h0M307.3,288.3h0M307.6,287.6h0M307.9,287.4h0M308.2,287.3h0M308.5,287.2h0M308.8,287.3h0M309.1,287.8h0M309.4,288.6h0M309.7,289.1h0M310.0,289.1h0M310.3,288.6h0M310.6,288.0h0M310.9,287.7h0M311.2,287.9h0M311.5,288.6h0M311.8,289.6h0M312.1,290.3h0M312.4,290.7h0M312.7,291.1h0M313.0,291.7h0M313.3,292.1h0M313.6,291.6h0M313.9,290.7h0M314.2,289.8h0M314.5,289.6h0M314.8,289.7h0M315.1,289.9h0M315.4,290.0h0M315.7,289.6h0M316.0,288.8h0M316.3,287.8h0M316.6,287.0h0M316.9,286.8h0M317.2,287.1h0M317.5,287.5h0M317.8,287.5h0M318.1,287.0h0M318.4,286.4h0M318.7,285.9h0M319.0,285.9h0M319.3,286.4h0M319.6,287.3h0M319.9,288.3h0M320.2,288.7h0M320.5,288.6h0M320.8,287.9h0M321.1,286.9h0M321.4,286.2h0M321.7,286.0h0M322.0,286.3h0M322.3,287.1h0M322.6,288.4h0M322.9,289.9h0M323.2,290.8h0M323.5,290.5h0M323.8,289.2h0M324.1,287.9h0M324.4,287.4h0M324.7,287.9h0M325.0,289.1h0M325.3,290.2h0M325.6,290.5h0M325.9,289.7h0M326.2,288.5h0M326.5,287.7h0M326.8,287.6h0M327.1,287.6h0M327.4,287.4h0M327.7,286.9h0M328.0,286.5h0M328.3,286.7h0M328.6,287.2h0M328.9,287.8h0M329.2,287.8h0M329.5,287.4h0M329.8,287.0h0M330.1,286.7h0M330.4,286.6h0M330.7,286.5h0M331.0,286.4h0M331.3,286.1h0M331.6,285.5h0M331.9,285.0h0M332.2,284.5h0M332.5,284.2h0M332.8,284.2h0M333.1,284.3h0M333.4,284.4h0M333.7,284.4h0M334.0,284.3h0M334.3,284.3h0M334.6,284.7h0M334.9,285.5h0M335.2,286.8h0M335.5,287.8h0M335.8,288.0h0M336.1,287.3h0M336.4,286.7h0M336.7,286.5h0M337.0,286.7h0M337.3,286.8h0M337.6,286.4h0M337.9,285.9h0M338.2,285.5h0M338.5,285.6h0M338.8,285.7h0M339.1,285.3h0M339.4,284.4h0M339.7,283.6h0M340.0,283.3h0M340.3,283.4h0M340.6,283.7h0M340.9,283.6h0M341.2,283.3h0M341.5,283.4h0M341.8,283.7h0M342.1,283.8h0M342.4,283.5h0M342.7,282.8h0M343.0,282.3h0M343.3,282.1h0M343.6,282.0h0M343.9,282.0h0M344.2,282.1h0M344.5,282.5h0M344.8,282.7h0M345.1,282.6h0M345.4,282.2h0M345.7,282.2h0M346.0,282.7h0M346.3,283.1h0M346.6,283.0h0M346.9,282.5h0M347.2,282.0h0M347.5,281.7h0M347.8,281.8h0M348.1,282.0h0M348.4,281.8h0M348.7,281.2h0M349.0,280.5h0M349.3,279.8h0M349.6,279.2h0M349.9,278.4h0M350.2,277.8h0M350.5,277.6h0M350.8,277.7h0M351.1,277.7h0M351.4,277.4h0M351.7,277.0h0M352.0,276.8h0M352.3,277.1h0M352.6,277.6h0M352.9,277.8h0M353.2,277.6h0M353.5,277.4h0M353.8,277.7h0M354.1,278.6h0M354.4,279.8h0M354.7,280.5h0M355.0,280.8h0M355.3,280.6h0M355.6,280.1h0M355.9,279.7h0M356.2,279.4h0M356.5,279.3h0M356.8,279.3h0M357.1,279.1h0M357.4,278.6h0M357.7,277.8h0M358.0,277.1h0M358.3,277.1h0M358.6,277.5h0M358.9,278.0h0M359.2,278.5h0M359.5,278.8h0M359.8,279.1h0M360.1,279.4h0M360.4,279.8h0M360.7,280.4h0M361.0,281.2h0M361.3,282.0h0M361.6,282.7h0M361.9,283.1h0M362.2,283.3h0M362.5,283.6h0M362.8,284.1h0M363.1,284.8h0M363.4,285.7h0M363.7,286.5h0M364.0,287.2h0M364.3,287.6h0M364.6,287.8h0M364.9,287.6h0M365.2,287.4h0M365.5,287.6h0M365.8,288.3h0M366.1,289.4h0M366.4,290.2h0M366.7,290.1h0M367.0,289.3h0M367.3,288.2h0M367.6,287.8h0M367.9,287.7h0M368.2,287.5h0M368.5,286.9h0M368.8,286.6h0M369.1,286.9h0M369.4,287.5h0M369.7,288.2h0M370.0,288.8h0M370.3,289.3h0M370.6,289.2h0M370.9,288.8h0M371.2,288.5h0M371.5,288.7h0M371.8,289.5h0M372.1,290.3h0M372.4,290.7h0M372.7,290.7h0M373.0,290.7h0M373.3,290.7h0M373.6,290.9h0M373.9,291.1h0M374.2,291.7h0M374.5,292.4h0M374.8,293.1h0M375.1,293.7h0M375.4,293.9h0M375.7,293.8h0M376.0,293.0h0M376.3,292.0h0M376.6,291.1h0M376.9,290.5h0M377.2,290.2h0M377.5,290.0h0M377.8,290.2h0M378.1,290.6h0M378.4,291.2h0M378.7,291.7h0M379.0,292.1h0M379.3,292.0h0M379.6,291.9h0M379.9,291.8h0M380.2,291.7h0M380.5,291.8h0M380.8,292.0h0M381.1,292.3h0M381.4,292.4h0M381.7,292.5h0M382.0,292.6h0M382.3,292.7h0M382.6,292.5h0M382.9,292.0h0M383.2,291.5h0M383.5,291.4h0M383.8,291.7h0M384.1,292.0h0M384.4,292.2h0M384.7,292.1h0M385.0,292.1h0M385.3,292.1h0M385.6,291.9h0M385.9,291.5h0M386.2,290.8h0M386.5,290.4h0M386.8,290.6h0M387.1,291.1h0M387.4,291.7h0M387.7,291.9h0M388.0,291.6h0M388.3,291.2h0M388.6,290.5h0M388.9,289.6h0M389.2,288.8h0M389.5,288.3h0M389.8,288.6h0M390.1,289.6h0M390.4,290.9h0M390.7,292.0h0M391.0,292.7h0M391.3,292.9h0M391.6,292.7h0M391.9,292.3h0M392.2,292.1h0M392.5,292.3h0M392.8,292.7h0M393.1,292.9h0M393.4,292.4h0M393.7,291.3h0M394.0,290.1h0M394.3,289.5h0M394.6,289.5h0M394.9,290.1h0M395.2,290.7h0M395.5,291.1h0M395.8,291.2h0M396.1,291.2h0M396.4,291.4h0M396.7,292.0h0M397.0,292.7h0M397.3,293.4h0M397.6,293.6h0M397.9,293.5h0M398.2,293.5h0M398.5,293.9h0M398.8,294.1h0M399.1,293.7h0M399.4,292.9h0M399.7,292.2h0M400.0,291.8h0M400.3,291.6h0M400.6,291.2h0M400.9,290.7h0M401.2,290.2h0M401.5,290.1h0M401.8,290.3h0M402.1,290.4h0M402.4,290.1h0M402.7,289.4h0M403.0,288.8h0M403.3,288.4h0M403.6,288.3h0M403.9,288.4h0M404.2,289.0h0M404.5,289.9h0M404.8,290.8h0M405.1,291.3h0M405.4,291.5h0M405.7,291.7h0M406.0,292.2h0M406.3,292.5h0M406.6,292.3h0M406.9,291.6h0M407.2,290.6h0M407.5,289.9h0M407.8,289.7h0M408.1,289.9h0M408.4,290.2h0M408.7,290.3h0M409.0,290.0h0M409.3,289.9h0M409.6,290.3h0M409.9,291.3h0M410.2,292.3h0M410.5,292.8h0M410.8,292.6h0M411.1,291.8h0M411.4,290.5h0M411.7,289.0h0M412.0,287.8h0M412.3,287.2h0M412.6,287.3h0M412.9,288.2h0M413.2,289.2h0M413.5,289.8h0M413.8,289.6h0M414.1,288.9h0M414.4,288.1h0M414.7,287.5h0M415.0,286.9h0M415.3,286.4h0M415.6,285.8h0M415.9,284.9h0M416.2,283.9h0M416.5,282.8h0M416.8,281.9h0M417.1,281.0h0M417.4,280.3h0M417.7,279.5h0M418.0,278.6h0M418.3,277.6h0M418.6,276.5h0M418.9,275.5h0M419.2,274.5h0M419.5,273.4h0M419.8,272.4h0M420.1,271.4h0M420.4,270.3h0M420.7,269.3h0M421.0,268.5h0M421.3,267.9h0M421.6,267.4h0M421.9,266.9h0M422.2,266.2h0M422.5,265.5h0M422.8,265.0h0M423.1,265.2h0M423.4,266.1h0M423.7,266.8h0M424.0,267.3h0M424.3,267.8h0M424.6,268.5h0M424.9,269.4h0M425.2,270.3h0M425.5,271.0h0M425.8,271.6h0M426.1,272.2h0M426.4,272.9h0M426.7,273.8h0M427.0,274.7h0M427.3,275.7h0M427.6,276.6h0M427.9,277.5h0M428.2,278.3h0M428.5,279.2h0M428.8,280.1h0M429.1,281.0h0M429.4,282.0h0M429.7,282.9h0M430.0,283.7h0M430.3,284.5h0M430.6,285.4h0M430.9,286.2h0M431.2,287.0h0M431.5,287.6h0M431.8,288.2h0M432.1,288.6h0M432.4,288.9h0M432.7,289.3h0M433.0,290.1h0M433.3,290.9h0M433.6,291.3h0M433.9,291.2h0M434.2,290.8h0M434.5,290.4h0M434.8,290.4h0M435.1,290.3h0M435.4,289.9h0M435.7,289.3h0M436.0,288.8h0M436.3,289.0h0M436.6,289.5h0M436.9,289.6h0M437.2,289.3h0M437.5,288.8h0M437.8,288.3h0M438.1,287.9h0M438.4,287.6h0M438.7,287.7h0M439.0,288.1h0M439.3,288.9h0M439.6,289.7h0M439.9,290.3h0M440.2,290.6h0M440.5,290.8h0M440.8,291.0h0M441.1,291.3h0M441.4,291.6h0M441.7,291.5h0M442.0,291.1h0M442.3,290.5h0M442.6,290.1h0M442.9,290.2h0M443.2,290.9h0M443.5,291.8h0M443.8,292.2h0M444.1,291.9h0M444.4,291.1h0M444.7,290.9h0M445.0,291.3h0M445.3,292.0h0M445.6,292.5h0M445.9,292.6h0M446.2,292.3h0M446.5,291.6h0M446.8,291.0h0M447.1,291.0h0M447.4,291.6h0M447.7,292.5h0M448.0,293.4h0M448.3,294.5h0M448.6,295.7h0M448.9,296.5h0M449.2,296.4h0M449.5,295.7h0M449.8,294.9h0M450.1,294.8h0M450.4,295.1h0M450.7,295.2h0M451.0,294.6h0M451.3,293.6h0M451.6,292.9h0M451.9,292.9h0M452.2,293.1h0M452.5,293.3h0M452.8,293.3h0M453.1,293.3h0M453.4,293.4h0M453.7,293.7h0M454.0,294.5h0M454.3,295.5h0M454.6,296.3h0M454.9,296.6h0M455.2,296.4h0M455.5,296.0h0M455.8,295.6h0M456.1,295.4h0M456.4,295.6h0M456.7,295.9h0M457.0,296.1h0M457.3,296.2h0M457.6,296.4h0M457.9,296.8h0M458.2,297.3h0M458.5,297.4h0M458.8,297.0h0M459.1,296.6h0M459.4,296.6h0M459.7,297.2h0M460.0,298.0h0M460.3,298.5h0M460.6,298.6h0M460.9,298.4h0M461.2,297.9h0M461.5,296.8h0M461.8,295.7h0M462.1,295.3h0M462.4,295.8h0M462.7,296.7h0M463.0,297.2h0M463.3,297.2h0M463.6,297.1h0M463.9,296.8h0M464.2,296.5h0M464.5,296.4h0M464.8,296.5h0M465.1,296.7h0M465.4,296.6h0M465.7,296.3h0M466.0,296.1h0M466.3,295.9h0M466.6,295.8h0M466.9,295.4h0M467.2,294.8h0M467.5,294.2h0M467.8,293.9h0M468.1,293.7h0M468.4,293.5h0M468.7,293.4h0M469.0,293.7h0M469.3,294.3h0M469.6,295.1h0M469.9,295.6h0M470.2,295.5h0M470.5,295.1h0M470.8,294.7h0M471.1,294.5h0M471.4,294.5h0M471.7,294.2h0M472.0,293.7h0M472.3,293.2h0M472.6,293.4h0M472.9,294.5h0M473.2,295.9h0M473.5,296.9h0M473.8,297.5h0M474.1,297.9h0M474.4,298.1h0M474.7,298.2h0M475.0,298.5h0M475.3,298.9h0M475.6,299.0h0M475.9,298.6h0M476.2,298.1h0M476.5,298.2h0M476.8,298.2h0M477.1,297.8h0M477.4,297.1h0M477.7,296.5h0M478.0,296.3h0M478.3,296.4h0M478.6,296.5h0M478.9,296.5h0M479.2,296.4h0M479.5,296.0h0M479.8,295.8h0M480.1,295.8h0M480.4,296.1h0M480.7,296.5h0M481.0,296.6h0M481.3,296.5h0M481.6,296.1h0M481.9,295.4h0M482.2,294.7h0M482.5,294.0h0M482.8,293.5h0M483.1,292.8h0M483.4,292.1h0M483.7,291.2h0M484.0,290.3h0M484.3,289.1h0M484.6,287.8h0M484.9,286.3h0M485.2,284.9h0M485.5,283.6h0M485.8,282.4h0M486.1,281.3h0M486.4,280.1h0M486.7,278.8h0M487.0,277.6h0M487.3,276.4h0M487.6,275.5h0M487.9,274.9h0M488.2,274.5h0M488.5,274.6h0M488.8,274.9h0M489.1,274.5h0M489.4,274.8h0M489.7,275.4h0M490.0,276.1h0M490.3,277.0h0M490.6,278.2h0M490.9,279.5h0M491.2,280.7h0M491.5,282.0h0M491.8,283.3h0M492.1,284.7h0M492.4,286.2h0M492.7,287.7h0M493.0,289.1h0M493.3,290.3h0M493.6,291.3h0M493.9,292.2h0M494.2,293.0h0M494.5,293.7h0M494.8,294.3h0M495.1,294.6h0M495.4,294.3h0M495.7,293.6h0M496.0,292.9h0M496.3,292.4h0M496.6,292.4h0M496.9,292.7h0M497.2,293.1h0M497.5,293.6h0M497.8,294.2h0M498.1,294.8h0M498.4,295.2h0M498.7,295.3h0M499.0,295.0h0M499.3,294.7h0M499.6,294.5h0M499.9,294.9h0M500.2,295.6h0M500.5,296.3h0M500.8,296.6h0M501.1,296.3h0M501.4,295.8h0M501.7,295.3h0M502.0,295.1h0M502.3,295.3h0M502.6,296.0h0M502.9,296.9h0M503.2,297.7h0M503.5,298.5h0M503.8,299.6h0M504.1,300.7h0M504.4,301.0h0M504.7,300.3h0M505.0,298.8h0M505.3,297.2h0M505.6,295.7h0M505.9,294.4h0M506.2,293.4h0M506.5,292.6h0M506.8,292.1h0M507.1,291.8h0M507.4,291.8h0M507.7,291.4h0M508.0,290.7h0M508.3,289.6h0M508.6,288.5h0M508.9,287.2h0M509.2,285.9h0M509.5,284.5h0M509.8,282.8h0M510.1,281.0h0M510.4,279.3h0M510.7,277.5h0M511.0,275.5h0M511.3,273.6h0M511.6,271.8h0M511.9,270.1h0M512.2,268.6h0M512.5,267.1h0M512.8,265.7h0M513.1,265.0h0M513.4,265.1h0M513.7,264.4h0M514.0,265.3h0M514.3,266.7h0M514.6,268.3h0M514.9,269.9h0M515.2,271.9h0M515.5,274.1h0M515.8,276.5h0M516.1,278.6h0M516.4,280.7h0M516.7,282.8h0M517.0,284.8h0M517.3,286.6h0M517.6,288.2h0M517.9,289.6h0M518.2,291.0h0M518.5,292.2h0M518.8,293.4h0M519.1,294.5h0M519.4,295.5h0M519.7,296.1h0M520.0,296.6h0M520.3,297.1h0M520.6,297.6h0M520.9,297.6h0M521.2,297.2h0M521.5,296.6h0M521.8,296.0h0M522.1,295.8h0M522.4,295.9h0M522.7,296.4h0M523.0,297.3h0M523.3,298.5h0M523.6,299.5h0M523.9,300.2h0M524.2,300.6h0M524.5,300.7h0M524.8,300.4h0M525.1,300.0h0M525.4,299.5h0M525.7,299.1h0M526.0,298.8h0M526.3,298.9h0M526.6,299.3h0M526.9,299.9h0M527.2,300.4h0M527.5,300.7h0M527.8,300.8h0M528.1,301.1h0M528.4,301.6h0M528.7,301.9h0M529.0,301.9h0M529.3,301.8h0M529.6,302.1h0M529.9,302.7h0M530.2,302.9h0M530.5,302.4h0M530.8,301.5h0M531.1,300.5h0M531.4,299.7h0M531.7,299.4h0M532.0,299.7h0M532.3,300.2h0M532.6,300.4h0M532.9,300.3h0M533.2,300.1h0M533.5,299.7h0M533.8,299.4h0M534.1,299.5h0M534.4,299.8h0M534.7,299.9h0M535.0,299.7h0M535.3,299.8h0M535.6,300.4h0M535.9,301.3h0M536.2,301.7h0M536.5,301.5h0M536.8,301.2h0M537.1,301.0h0M537.4,301.2h0M537.7,301.5h0M538.0,301.8h0M538.3,301.8h0M538.6,301.9h0M538.9,301.9h0M539.2,301.8h0M539.5,301.6h0M539.8,301.2h0M540.1,301.1h0M540.4,301.0h0M540.7,300.9h0M541.0,300.6h0M541.3,300.3h0M541.6,300.0h0M541.9,299.8h0M542.2,299.2h0M542.5,298.3h0M542.8,297.3h0M543.1,296.6h0M543.4,296.4h0M543.7,296.4h0M544.0,296.6h0M544.3,296.8h0M544.6,297.0h0M544.9,297.3h0M545.2,297.6h0M545.5,298.2h0M545.8,298.9h0M546.1,299.2h0M546.4,298.9h0M546.7,298.6h0M547.0,298.6h0M547.3,299.1h0M547.6,299.6h0M547.9,299.6h0M548.2,299.4h0M548.5,299.2h0M548.8,299.2h0M549.1,299.8h0M549.4,300.6h0M549.7,301.5h0M550.0,301.8h0M550.3,301.7h0M550.6,301.6h0M550.9,301.7h0M551.2,302.1h0M551.5,302.6h0M551.8,303.0h0M552.1,303.4h0M552.4,303.8h0M552.7,304.2h0M553.0,304.4h0M553.3,304.4h0M553.6,304.0h0M553.9,303.6h0M554.2,303.4h0M554.5,303.1h0M554.8,302.9h0M555.1,303.2h0M555.4,303.7h0M555.7,304.1h0M556.0,304.1h0M556.3,303.5h0M556.6,302.6h0M556.9,301.8h0M557.2,301.2h0M557.5,300.7h0M557.8,300.5h0M558.1,300.9h0M558.4,301.6h0M558.7,302.1h0M559.0,301.6h0M559.3,300.6h0M559.6,299.7h0M559.9,299.4h0M560.2,299.3h0M560.5,299.2h0M560.8,299.2h0M561.1,299.3h0M561.4,299.2h0M561.7,299.1h0M562.0,299.2h0M562.3,299.9h0M562.6,300.9h0M562.9,301.4h0M563.2,301.4h0M563.5,301.3h0M563.8,301.6h0M564.1,302.0h0M564.4,302.1h0M564.7,301.9h0M565.0,301.7h0M565.3,302.0h0M565.6,302.4h0M565.9,302.8h0M566.2,303.0h0M566.5,303.2h0M566.8,303.4h0M567.1,303.6h0M567.4,303.6h0M567.7,303.4h0M568.0,303.0h0M568.3,302.8h0M568.6,302.7h0M568.9,302.6h0M569.2,302.6h0M569.5,302.5h0M569.8,302.5h0M570.1,302.8h0M570.4,303.4h0M570.7,303.8h0M571.0,304.0h0M571.3,303.9h0M571.6,303.4h0M571.9,302.6h0M572.2,301.5h0M572.5,300.7h0M572.8,300.4h0M573.1,300.5h0M573.4,300.6h0M573.7,300.7h0M574.0,300.9h0M574.3,301.1h0M574.6,301.4h0M574.9,301.9h0M575.2,302.5h0M575.5,303.2h0M575.8,304.0h0M576.1,304.6h0M576.4,305.0h0M576.7,305.4h0M577.0,305.6h0M577.3,305.9h0M577.6,306.0h0M577.9,306.2h0M578.2,306.6h0M578.5,307.2h0M578.8,307.6h0M579.1,307.7h0M579.4,307.7h0M579.7,307.5h0M580.0,307.0h0M580.3,306.5h0M580.6,306.1h0M580.9,306.1h0M581.2,306.2h0M581.5,306.4h0M581.8,306.5h0M582.1,306.4h0M582.4,306.1h0M582.7,305.8h0M583.0,306.1h0M583.3,307.3h0M583.6,308.8h0M583.9,310.0h0M584.2,310.5h0M584.5,310.4h0M584.8,310.1h0M585.1,310.1h0M585.4,310.5h0M585.7,311.1h0M586.0,311.5h0M586.3,311.6h0M586.6,311.4h0M586.9,311.1h0M587.2,311.0h0M587.5,311.3h0M587.8,312.0h0M588.1,312.5h0M588.4,312.6h0M588.7,312.4h0M589.0,312.3h0M589.3,312.3h0M589.6,312.2h0M589.9,312.1h0M590.2,312.1h0M590.5,312.1h0M590.8,311.9h0M591.1,311.4h0M591.4,310.8h0M591.7,310.7h0M592.0,311.1h0M592.3,311.4h0M592.6,311.1h0M592.9,310.1h0M593.2,308.7h0M593.5,307.2h0M593.8,305.9h0M594.1,305.2h0M594.4,305.5h0M594.7,306.4h0M595.0,307.1h0M595.3,307.4h0M595.6,307.2h0M595.9,306.7h0M596.2,306.2h0M596.5,306.1h0M596.8,306.4h0M597.1,306.7h0M597.4,306.9h0M597.7,306.9h0M598.0,306.7h0M598.3,306.3h0M598.6,306.1h0M598.9,306.6h0M599.2,307.6h0M599.5,308.4h0M599.8,308.5h0M600.1,308.2h0M600.4,307.7h0M600.7,307.2h0M601.0,306.6h0M601.3,306.1h0M601.6,305.3h0M601.9,304.3h0M602.2,303.4h0M602.5,302.8h0M602.8,302.5h0M603.1,302.8h0M603.4,303.7h0M603.7,304.7h0M604.0,305.1h0M604.3,304.7h0M604.6,303.8h0M604.9,303.3h0M605.2,303.3h0M605.5,303.7h0M605.8,304.2h0M606.1,304.6h0M606.4,304.6h0M606.7,304.0h0M607.0,303.2h0M607.3,302.7h0M607.6,303.1h0M607.9,304.6h0M608.2,306.2h0M608.5,306.8h0M608.8,306.3h0M609.1,305.1h0M609.4,304.0h0M609.7,303.4h0M610.0,303.4h0M610.3,304.0h0M610.6,304.6h0M610.9,304.4h0M611.2,303.8h0M611.5,303.1h0M611.8,302.5h0M612.1,302.0h0M612.4,301.6h0M612.7,301.2h0M613.0,301.0h0M613.3,300.9h0M613.6,300.7h0M613.9,300.4h0M614.2,300.1h0M614.5,299.6h0M614.8,298.8h0M615.1,297.8h0M615.4,297.1h0M615.7,296.7h0M616.0,296.3h0M616.3,295.9h0M616.6,296.1h0M616.9,296.8h0M617.2,297.7h0M617.5,298.6h0M617.8,299.4h0M618.1,300.2h0M618.4,300.9h0M618.7,301.6h0M619.0,302.4h0M619.3,303.4h0M619.6,304.1h0M619.9,304.2h0M620.2,303.8h0M620.5,303.5h0M620.8,303.5h0M621.1,303.9h0M621.4,304.3h0M621.7,304.5h0M622.0,304.5h0M622.3,304.3h0M622.6,304.2h0M622.9,304.4h0M623.2,304.8h0M623.5,305.2h0M623.8,305.6h0M624.1,306.0h0M624.4,306.2h0M624.7,306.4h0M625.0,306.8h0M625.3,307.7h0M625.6,308.9h0M625.9,309.8h0M626.2,310.2h0M626.5,310.3h0M626.8,310.3h0M627.1,310.3h0M627.4,310.4h0M627.7,310.6h0M628.0,310.8h0M628.3,310.9h0M628.6,310.9h0M628.9,311.0h0M629.2,311.4h0M629.5,311.9h0M629.8,312.3h0M630.1,312.6h0M630.4,313.1h0M630.7,313.5h0M631.0,313.8h0M631.3,313.9h0M631.6,313.9h0M631.9,313.8h0M632.2,313.4h0M632.5,312.9h0M632.8,312.4h0M633.1,311.9h0M633.4,311.3h0M633.7,310.7h0M634.0,310.2h0M634.3,309.7h0M634.6,309.0h0M634.9,308.3h0M635.2,307.6h0M635.5,306.9h0M635.8,305.8h0M636.1,304.7h0M636.4,304.1h0M636.7,303.8h0M637.0,304.0h0M637.3,304.8h0M637.6,305.9h0M637.9,306.9h0M638.2,307.4h0M638.5,307.3h0M638.8,306.7h0M639.1,305.7h0M639.4,304.7h0M639.7,303.9h0M640.0,303.5h0M640.3,303.5h0M640.6,303.8h0M640.9,304.2h0M641.2,304.6h0M641.5,305.1h0M641.8,305.5h0M642.1,305.8h0M642.4,305.9h0M642.7,306.0h0M643.0,305.8h0M643.3,305.5h0M643.6,305.2h0M643.9,305.2h0M644.2,305.1h0M644.5,304.8h0M644.8,304.5h0M645.1,304.3h0M645.4,304.3h0M645.7,304.3h0M646.0,304.2h0M646.3,303.7h0M646.6,302.9h0M646.9,302.0h0M647.2,301.0h0M647.5,300.1h0M647.8,299.3h0M648.1,298.7h0M648.4,297.9h0M648.7,297.0h0M649.0,295.8h0M649.3,294.6h0M649.6,293.3h0M649.9,292.1h0M650.2,291.0h0M650.5,290.0h0M650.8,289.1h0M651.1,288.4h0M651.4,288.1h0M651.7,288.5h0M652.0,289.0h0M652.3,289.3h0M652.6,289.7h0M652.9,290.3h0M653.2,291.0h0M653.5,291.5h0M653.8,291.8h0M654.1,292.1h0M654.4,292.4h0M654.7,292.7h0M655.0,293.0h0M655.3,293.5h0M655.6,294.2h0M655.9,294.9h0M656.2,295.6h0M656.5,296.5h0M656.8,297.4h0M657.1,298.4h0M657.4,299.5h0M657.7,300.6h0M658.0,301.8h0M658.3,303.0h0M658.6,304.2h0M658.9,305.4h0M659.2,306.3h0M659.5,307.0h0M659.8,307.6h0M660.1,308.3h0M660.4,309.4h0M660.7,310.4h0M661.0,311.2h0M661.3,311.9h0M661.6,312.4h0M661.9,312.8h0M662.2,313.3h0M662.5,314.0h0M662.8,314.7h0M663.1,314.8h0M663.4,314.3h0M663.7,313.4h0M664.0,312.5h0M664.3,311.9h0M664.6,311.5h0M664.9,311.3h0M665.2,311.2h0M665.5,311.0h0M665.8,310.5h0M666.1,310.0h0M666.4,309.8h0M666.7,310.2h0M667.0,310.7h0M667.3,311.0h0M667.6,310.8h0M667.9,310.1h0M668.2,309.4h0M668.5,309.3h0M668.8,309.7h0M669.1,310.1h0M669.4,310.1h0M669.7,310.0h0M670.0,310.1h0M670.3,310.2h0M670.6,310.4h0M670.9,310.3h0M671.2,310.0h0M671.5,309.8h0M671.8,309.9h0M672.1,310.3h0M672.4,310.8h0M672.7,311.3h0M673.0,311.7h0M673.3,311.9h0M673.6,312.2h0M673.9,312.3h0M674.2,312.2h0M674.5,311.9h0M674.8,311.4h0M675.1,311.0h0M675.4,310.9h0M675.7,311.2h0M676.0,311.6h0M676.3,312.2h0M676.6,313.0h0M676.9,313.9h0M677.2,314.6h0M677.5,314.8h0M677.8,314.6h0M678.1,314.4h0M678.4,314.4h0M678.7,314.7h0M679.0,315.2h0M679.3,315.9h0M679.6,316.7h0M679.9,317.1h0M680.2,316.7h0M680.5,316.0h0M680.8,315.4h0M681.1,315.1h0M681.4,314.9h0M681.7,314.6h0M682.0,314.0h0M682.3,313.5h0M682.6,313.3h0M682.9,313.1h0M683.2,312.8h0M683.5,312.3h0M683.8,312.0h0M684.1,312.0h0M684.4,311.9h0M684.7,311.8h0M685.0,311.4h0M685.3,310.9h0M685.6,310.2h0M685.9,309.6h0M686.2,309.1h0M686.5,308.7h0M686.8,308.1h0M687.1,307.5h0M687.4,306.7h0M687.7,305.7h0M688.0,304.9h0M688.3,304.3h0M688.6,304.0h0M688.9,303.8h0M689.2,303.8h0M689.5,304.2h0M689.8,304.7h0M690.1,304.8h0M690.4,304.3h0M690.7,303.6h0M691.0,303.3h0M691.3,303.5h0M691.6,303.9h0M691.9,304.1h0M692.2,304.1h0M692.5,303.9h0M692.8,303.4h0M693.1,302.4h0M693.4,300.9h0M693.7,299.2h0M694.0,297.1h0M694.3,294.8h0M694.6,292.5h0M694.9,290.2h0M695.2,288.3h0M695.5,286.9h0M695.8,286.5h0M696.1,287.4h0M696.4,287.0h0M696.7,286.4h0M697.0,285.9h0M697.3,285.9h0M697.6,286.4h0M697.9,286.9h0M698.2,287.0h0M698.5,286.7h0M698.8,286.0h0M699.1,285.2h0M699.4,285.7h0M699.7,286.7h0M700.0,288.1h0M700.3,289.6h0M700.6,291.2h0M700.9,292.8h0M701.2,294.4h0M701.5,295.7h0M701.8,296.8h0M702.1,297.7h0M702.4,298.7h0M702.7,299.6h0M703.0,300.5h0M703.3,301.3h0M703.6,302.1h0M703.9,302.9h0M704.2,303.5h0M704.5,304.0h0M704.8,304.5h0M705.1,305.1h0M705.4,305.8h0M705.7,306.5h0M706.0,307.1h0M706.3,307.4h0M706.6,307.8h0M706.9,308.2h0M707.2,308.7h0M707.5,309.4h0M707.8,310.2h0M708.1,311.1h0M708.4,311.8h0M708.7,312.1h0M709.0,312.0h0M709.3,311.5h0M709.6,310.8h0M709.9,310.2h0M710.2,310.0h0M710.5,310.0h0M710.8,309.9h0M711.1,309.8h0M711.4,309.8h0M711.7,310.1h0M712.0,310.8h0M712.3,311.5h0M712.6,311.9h0M712.9,311.9h0M713.2,312.1h0M713.5,312.6h0M713.8,313.0h0M714.1,313.1h0M714.4,312.9h0M714.7,313.0h0M715.0,313.4h0M715.3,313.7h0M715.6,314.1h0M715.9,314.4h0M716.2,314.8h0M716.5,315.0h0M716.8,315.1h0M717.1,315.0h0M717.4,314.9h0M717.7,314.6h0M718.0,314.2h0M718.3,313.9h0M718.6,313.6h0M718.9,313.2h0M719.2,312.6h0M719.5,312.1h0M719.8,311.7h0M720.1,311.5h0M720.4,311.2h0M720.7,311.1h0M721.0,311.3h0M721.3,311.4h0M721.6,311.3h0M721.9,311.2h0M722.2,311.1h0M722.5,311.2h0M722.8,311.6h0M723.1,312.1h0M723.4,312.4h0M723.7,312.5h0M724.0,312.5h0M724.3,312.7h0M724.6,313.2h0M724.9,313.8h0M725.2,314.2h0M725.5,314.2h0M725.8,314.3h0M726.1,314.5h0M726.4,314.9h0M726.7,315.1h0M727.0,314.7h0M727.3,313.8h0M727.6,313.0h0M727.9,312.4h0M728.2,311.9h0M728.5,311.4h0M728.8,310.8h0M729.1,310.1h0M729.4,309.4h0M729.7,308.6h0M730.0,307.9h0M730.3,306.9h0M730.6,305.5h0M730.9,303.7h0M731.2,301.7h0M731.5,299.5h0M731.8,297.0h0M732.1,294.5h0M732.4,292.0h0M732.7,289.6h0M733.0,287.2h0M733.3,285.0h0M733.6,283.0h0M733.9,281.3h0M734.2,279.8h0M734.5,278.4h0M734.8,277.2h0M735.1,276.1h0M735.4,275.1h0M735.7,274.2h0M736.0,273.3h0M736.3,272.5h0M736.6,271.6h0M736.9,270.7h0M737.2,269.9h0M737.5,269.1h0M737.8,268.2h0M738.1,267.2h0M738.4,266.2h0M738.7,264.9h0M739.0,264.0h0M739.3,265.3h0M739.6,266.6h0M739.9,267.6h0M740.2,268.7h0M740.5,269.8h0M740.8,271.0h0M741.1,272.0h0M741.4,273.3h0M741.7,274.7h0M742.0,276.4h0M742.3,278.1h0M742.6,279.9h0M742.9,281.5h0M743.2,282.9h0M743.5,284.3h0M743.8,285.8h0M744.1,287.4h0M744.4,288.9h0M744.7,290.4h0M745.0,291.8h0M745.3,293.2h0M745.6,294.6h0M745.9,295.9h0M746.2,297.1h0M746.5,298.4h0M746.8,299.6h0M747.1,300.7h0M747.4,301.8h0M747.7,302.8h0M748.0,303.5h0M748.3,304.2h0M748.6,304.9h0M748.9,305.7h0M749.2,306.5h0M749.5,307.2h0M749.8,308.0h0M750.1,308.9h0M750.4,309.9h0M750.7,310.7h0M751.0,311.5h0M751.3,312.0h0M751.6,312.3h0M751.9,312.5h0M752.2,312.6h0M752.5,312.7h0M752.8,312.7h0M753.1,312.7h0M753.4,312.8h0M753.7,312.9h0M754.0,313.1h0M754.3,313.2h0M754.6,313.4h0M754.9,313.9h0M755.2,314.6h0M755.5,315.2h0M755.8,315.7h0M756.1,316.2h0M756.4,316.6h0M756.7,316.7h0M757.0,316.6h0M757.3,316.5h0M757.6,316.9h0M757.9,317.4h0M758.2,317.5h0M758.5,317.1h0M758.8,316.5h0M759.1,316.2h0M759.4,316.4h0M759.7,316.9h0M760.0,317.4h0M760.3,317.5h0M760.6,317.2h0M760.9,316.6h0M761.2,315.8h0M761.5,314.9h0M761.8,314.2h0M762.1,314.1h0M762.4,314.2h0M762.7,314.4h0M763.0,314.6h0M763.3,314.9h0M763.6,315.2h0M763.9,315.7h0M764.2,316.4h0M764.5,317.2h0M764.8,317.8h0M765.1,318.1h0M765.4,318.1h0M765.7,317.8h0M766.0,317.0h0M766.3,316.1h0M766.6,315.2h0M766.9,314.6h0M767.2,314.1h0M767.5,313.9h0M767.8,314.0h0M768.1,314.3h0M768.4,314.4h0M768.7,314.3h0M769.0,314.0h0M769.3,313.9h0M769.6,314.0h0M769.9,314.1h0M770.2,314.2h0M770.5,314.4h0M770.8,314.8h0M771.1,315.3h0M771.4,315.9h0M771.7,316.5h0M772.0,317.1h0M772.3,317.6h0M772.6,318.0h0M772.9,318.4h0M773.2,318.4h0M773.5,317.8h0M773.8,316.8h0M774.1,316.2h0M774.4,316.3h0M774.7,317.0h0M775.0,317.9h0M775.3,318.2h0M775.6,317.8h0M775.9,316.7h0M776.2,315.4h0M776.5,314.7h0M776.8,314.8h0M777.1,315.3h0M777.4,315.8h0M777.7,316.4h0M778.0,317.0h0M778.3,317.4h0M778.6,317.3h0M778.9,316.7h0M779.2,316.2h0M779.5,316.2h0M779.8,316.6h0M780.1,317.0h0M780.4,317.4h0M780.7,318.0h0M781.0,318.8h0M781.3,319.5h0M781.6,319.6h0M781.9,319.3h0M782.2,318.9h0M782.5,318.8h0M782.8,319.2h0M783.1,319.6h0M783.4,319.7h0M783.7,319.5h0M784.0,319.2h0M784.3,319.0h0M784.6,319.0h0M784.9,319.3h0M785.2,319.6h0M785.5,319.6h0M785.8,319.4h0M786.1,319.3h0M786.4,319.2h0M786.7,318.8h0M787.0,318.4h0M787.3,318.2h0M787.6,318.5h0M787.9,319.1h0M788.2,319.7h0M788.5,320.1h0M788.8,320.2h0M789.1,319.7h0M789.4,319.0h0M789.7,318.4h0M790.0,318.2h0M790.3,318.3h0M790.6,318.7h0M790.9,318.7h0M791.2,318.3h0M791.5,317.1h0M791.8,315.4h0M792.1,314.0h0M792.4,313.2h0M792.7,313.0h0M793.0,313.2h0M793.3,313.5h0M793.6,313.8h0M793.9,313.9h0M794.2,313.8h0M794.5,313.5h0M794.8,313.3h0M795.1,312.8h0M795.4,312.3h0M795.7,312.1h0M796.0,312.4h0M796.3,312.9h0M796.6,313.4h0M796.9,313.4h0M797.2,312.9h0M797.5,311.9h0M797.8,310.6h0M798.1,309.5h0M798.4,309.1h0M798.7,309.2h0M799.0,309.6h0M799.3,309.9h0M799.6,310.2h0M799.9,310.9h0M800.2,312.0h0M800.5,312.9h0M800.8,313.4h0M801.1,313.7h0M801.4,313.9h0M801.7,314.1h0M802.0,314.2h0M802.3,314.1h0M802.6,313.8h0M802.9,313.5h0M803.2,313.4h0M803.5,313.4h0M803.8,313.2h0M804.1,312.7h0M804.4,312.3h0M804.7,312.4h0M805.0,313.2h0M805.3,314.0h0M805.6,314.3h0M805.9,314.2h0M806.2,314.1h0M806.5,314.2h0M806.8,314.3h0M807.1,314.2h0M807.4,314.1h0M807.7,314.0h0M808.0,314.2h0M808.3,314.5h0M808.6,314.6h0M808.9,314.5h0M809.2,314.1h0M809.5,313.4h0M809.8,312.4h0M810.1,311.8h0M810.4,311.7h0M810.7,312.1h0M811.0,312.6h0M811.3,313.1h0M811.6,313.4h0M811.9,313.5h0M812.2,312.9h0M812.5,312.1h0M812.8,311.5h0M813.1,311.3h0M813.4,311.4h0M813.7,311.5h0M814.0,311.7h0M814.3,312.2h0M814.6,312.7h0M814.9,313.1h0M815.2,313.7h0M815.5,314.2h0M815.8,314.2h0M816.1,313.7h0M816.4,312.8h0M816.7,312.0h0M817.0,311.4h0M817.3,311.1h0M817.6,311.0h0M817.9,311.6h0M818.2,312.7h0M818.5,313.6h0M818.8,313.5h0M819.1,312.7h0M819.4,312.1h0M819.7,312.2h0M820.0,312.8h0M820.3,313.5h0M820.6,313.6h0M820.9,312.9h0M821.2,311.5h0M821.5,310.2h0M821.8,309.7h0M822.1,310.0h0M822.4,310.7h0M822.7,311.0h0M823.0,310.5h0M823.3,309.6h0M823.6,309.1h0M823.9,309.3h0M824.2,309.7h0M824.5,310.0h0M824.8,310.1h0M825.1,310.2h0M825.4,310.5h0M825.7,311.1h0M826.0,311.7h0M826.3,311.8h0M826.6,311.4h0M826.9,310.5h0M827.2,309.5h0M827.5,308.5h0M827.8,308.0h0M828.1,308.0h0M828.4,308.6h0M828.7,309.4h0M829.0,310.2h0M829.3,311.1h0M829.6,312.0h0M829.9,312.7h0M830.2,313.0h0M830.5,312.9h0M830.8,313.0h0M831.1,313.4h0M831.4,314.0h0M831.7,314.7h0M832.0,315.2h0M832.3,315.4h0M832.6,315.2h0M832.9,314.5h0M833.2,313.6h0M833.5,312.7h0M833.8,312.2h0M834.1,312.3h0M834.4,312.8h0M834.7,313.5h0M835.0,313.9h0M835.3,314.0h0M835.6,314.1h0M835.9,314.5h0M836.2,315.1h0M836.5,315.5h0M836.8,315.7h0M837.1,315.8h0M837.4,316.7h0M837.7,318.0h0M838.0,319.1h0M838.3,319.0h0M838.6,318.1h0M838.9,317.0h0M839.2,316.4h0M839.5,316.1h0M839.8,315.9h0M840.1,316.1h0M840.4,316.4h0M840.7,316.6h0M841.0,316.4h0M841.3,316.3h0M841.6,316.2h0M841.9,316.2h0M842.2,315.8h0M842.5,315.2h0M842.8,314.3h0M843.1,313.4h0M843.4,312.5h0M843.7,311.6h0M844.0,310.8h0M844.3,310.3h0M844.6,310.3h0M844.9,310.8h0M845.2,311.7h0M845.5,312.3h0M845.8,312.5h0M846.1,312.6h0M846.4,312.9h0M846.7,313.2h0M847.0,313.1h0M847.3,312.3h0M847.6,310.9h0M847.9,310.0h0M848.2,309.9h0M848.5,310.7h0M848.8,312.3h0M849.1,313.9h0M849.4,315.1h0M849.7,315.3h0M850.0,314.5h0M850.3,313.2h0M850.6,312.1h0M850.9,311.5h0M851.2,311.3h0M851.5,311.1h0M851.8,311.1h0M852.1,311.7h0M852.4,312.7h0M852.7,313.7h0M853.0,314.1h0M853.3,314.0h0M853.6,313.5h0M853.9,313.2h0M854.2,313.2h0M854.5,313.3h0M854.8,313.3h0M855.1,313.3h0M855.4,313.4h0M855.7,313.4h0M856.0,313.4h0M856.3,313.5h0M856.6,313.8h0M856.9,314.4h0M857.2,314.9h0M857.5,315.1h0M857.8,315.2h0M858.1,315.1h0M858.4,314.9h0M858.7,314.8h0M859.0,314.9h0M859.3,315.2h0M859.6,315.6h0M859.9,316.1h0M860.2,316.3h0M860.5,316.0h0M860.8,315.2h0M861.1,314.4h0M861.4,314.0h0M861.7,314.0h0M862.0,314.1h0M862.3,314.1h0M862.6,313.9h0M862.9,313.7h0M863.2,313.6h0M863.5,313.4h0M863.8,313.0h0M864.1,312.5h0M864.4,312.0h0M864.7,311.7h0M865.0,311.2h0M865.3,310.6h0M865.6,310.2h0M865.9,310.3h0M866.2,311.1h0M866.5,311.9h0M866.8,312.2h0M867.1,312.2h0M867.4,312.5h0M867.7,312.9h0M868.0,313.4h0M868.3,313.9h0M868.6,314.7h0M868.9,315.5h0M869.2,316.2h0M869.5,316.8h0M869.8,317.4h0M870.1,318.0h0M870.4,318.3h0M870.7,318.3h0M871.0,318.0h0M871.3,317.7h0M871.6,317.3h0M871.9,316.7h0M872.2,316.0h0M872.5,315.8h0M872.8,316.1h0M873.1,316.7h0M873.4,316.8h0M873.7,316.4h0M874.0,315.7h0M874.3,315.1h0M874.6,314.8h0M874.9,314.8h0M875.2,315.2h0M875.5,315.6h0M875.8,316.0h0M876.1,316.3h0M876.4,316.4h0M876.7,316.2h0M877.0,315.9h0M877.3,315.7h0M877.6,315.6h0M877.9,315.4h0M878.2,314.9h0M878.5,314.3h0M878.8,313.7h0M879.1,313.6h0M879.4,313.5h0M879.7,313.2h0M880.0,312.7h0M880.3,312.3h0M880.6,312.2h0M880.9,312.0h0M881.2,311.7h0M881.5,311.1h0M881.8,310.6h0M882.1,310.5h0M882.4,311.0h0M882.7,311.7h0M883.0,312.2h0M883.3,312.5h0M883.6,312.4h0M883.9,312.2h0M884.2,311.9h0M884.5,311.9h0M884.8,312.0h0M885.1,311.8h0M885.4,311.0h0M885.7,310.0h0M886.0,309.0h0M886.3,308.2h0M886.6,308.0h0M886.9,308.1h0M887.2,308.3h0M887.5,308.7h0M887.8,309.2h0M888.1,309.6h0M888.4,309.6h0M888.7,309.2h0M889.0,308.6h0M889.3,307.9h0M889.6,307.5h0M889.9,307.3h0M890.2,307.5h0M890.5,307.8h0M890.8,308.3h0M891.1,308.7h0M891.4,308.8h0M891.7,308.2h0M892.0,307.0h0M892.3,305.9h0M892.6,305.5h0M892.9,305.7h0M893.2,305.8h0M893.5,305.5h0M893.8,304.9h0M894.1,304.4h0M894.4,304.3h0M894.7,304.2h0M895.0,303.8h0M895.3,303.1h0M895.6,302.4h0M895.9,302.0h0M896.2,302.1h0M896.5,302.4h0M896.8,302.3h0M897.1,301.7h0M897.4,300.7h0M897.7,299.9h0M898.0,299.6h0M898.3,299.4h0M898.6,299.1h0M898.9,298.8h0M899.2,298.9h0M899.5,299.5h0M899.8,300.3h0M900.1,301.0h0M900.4,301.5h0M900.7,301.8h0M901.0,302.0h0M901.3,302.4h0M901.6,302.9h0M901.9,303.3h0M902.2,303.6h0M902.5,303.8h0M902.8,304.1h0M903.1,304.7h0M903.4,305.2h0M903.7,305.6h0M904.0,305.7h0M904.3,305.6h0M904.6,305.5h0M904.9,305.6h0M905.2,305.9h0M905.5,306.6h0M905.8,307.4h0M906.1,308.3h0M906.4,309.2h0M906.7,310.2h0M907.0,311.1h0M907.3,312.2h0M907.6,313.5h0M907.9,315.3h0M908.2,317.1h0M908.5,317.0h0M908.8,315.9h0M909.1,314.6h0M909.4,313.7h0M909.7,313.4h0M910.0,313.4h0M910.3,313.2h0M910.6,312.5h0M910.9,311.7h0M911.2,311.0h0M911.5,310.6h0M911.8,310.5h0M912.1,310.5h0M912.4,310.4h0M912.7,310.2h0M913.0,310.0h0M913.3,309.8h0M913.6,309.7h0M913.9,309.7h0M914.2,309.7h0M914.5,309.5h0M914.8,309.5h0M915.1,309.6h0M915.4,310.0h0M915.7,310.2h0M916.0,310.0h0M916.3,309.5h0M916.6,309.0h0M916.9,308.7h0M917.2,308.5h0M917.5,308.3h0M917.8,307.9h0M918.1,307.4h0M918.4,306.9h0M918.7,306.5h0M919.0,306.2h0M919.3,306.0h0M919.6,306.0h0M919.9,306.0h0M920.2,306.0h0M920.5,306.1h0M920.8,306.6h0M921.1,307.2h0M921.4,307.9h0M921.7,308.7h0M922.0,309.5h0M922.3,310.2h0M922.6,310.8h0M922.9,311.2h0M923.2,311.5h0M923.5,311.6h0M923.8,311.7h0M924.1,312.0h0M924.4,312.0h0M924.7,312.0h0M925.0,312.0h0M925.3,311.9h0M925.6,311.5h0M925.9,311.0h0M926.2,310.9h0M926.5,311.3h0M926.8,312.0h0M927.1,312.9h0M927.4,313.7h0M927.7,314.3h0M928.0,314.5h0M928.3,314.2h0M928.6,313.9h0M928.9,313.9h0M929.2,314.1h0M929.5,314.2h0M929.8,314.1h0M930.1,313.9h0M930.4,314.0h0M930.7,314.4h0M931.0,314.9h0M931.3,314.8h0M931.6,314.2h0M931.9,313.3h0M932.2,312.5h0M932.5,312.1h0M932.8,311.8h0M933.1,311.6h0M933.4,311.4h0M933.7,311.2h0M934.0,311.1h0M934.3,311.1h0M934.6,311.0h0M934.9,310.7h0M935.2,310.4h0M935.5,309.8h0M935.8,309.2h0M936.1,308.4h0M936.4,307.7h0M936.7,307.1h0M937.0,306.8h0M937.3,306.6h0M937.6,306.2h0M937.9,305.7h0M938.2,305.4h0M938.5,305.2h0M938.8,305.1h0M939.1,304.6h0M939.4,303.6h0M939.7,302.6h0M940.0,302.0h0M940.3,302.1h0M940.6,302.7h0M940.9,303.4h0M941.2,303.9h0M941.5,304.0h0M941.8,303.6h0M942.1,302.7h0M942.4,302.5h0M942.7,303.0h0M943.0,303.8h0M943.3,304.5h0M943.6,305.4h0M943.9,306.2h0M944.2,307.1h0M944.5,307.9h0M944.8,308.5h0M945.1,308.8h0M945.4,308.6h0M945.7,308.8h0M946.0,308.7h0M946.3,308.1h0M946.6,307.3h0M946.9,306.4h0M947.2,305.6h0M947.5,305.1h0M947.8,305.0h0M948.1,304.7h0M948.4,303.9h0M948.7,303.2h0M949.0,302.8h0M949.3,302.5h0M949.6,302.2h0M949.9,301.9h0M950.2,301.6h0M950.5,301.8h0M950.8,302.5h0M951.1,303.6h0M951.4,304.4h0M951.7,305.0h0M952.0,305.2h0M952.3,305.4h0M952.6,305.6h0M952.9,305.8h0M953.2,306.0h0M953.5,305.9h0M953.8,305.5h0M954.1,305.1h0M954.4,304.9h0M954.7,305.0h0M955.0,305.1h0M955.3,305.1h0M955.6,304.9h0M955.9,304.8h0M956.2,304.8h0M956.5,305.1h0M956.8,305.5h0M957.1,305.9h0M957.4,306.0h0M957.7,305.5h0M958.0,304.9h0M958.3,304.4h0M958.6,303.9h0M958.9,303.2h0M959.2,302.6h0M959.5,302.7h0M959.8,303.7h0M960.1,304.6h0M960.4,305.4h0M960.7,306.2h0M961.0,307.0h0M961.3,307.9h0M961.6,308.7h0M961.9,309.4h0M962.2,310.1h0M962.5,310.7h0M962.8,310.8h0M963.1,310.5h0M963.4,310.4h0M963.7,310.9h0M964.0,311.5h0M964.3,311.7h0M964.6,311.4h0M964.9,310.7h0M965.2,310.0h0M965.5,309.4h0M965.8,309.0h0M966.1,308.7h0M966.4,308.2h0M966.7,307.6h0M967.0,307.1h0M967.3,307.1h0M967.6,307.3h0M967.9,307.6h0M968.2,307.9h0M968.5,308.0h0M968.8,307.8h0M969.1,307.4h0M969.4,307.0h0M969.7,307.1h0M970.0,307.5h0M970.3,307.9h0M970.6,308.4h0M970.9,309.0h0M971.2,309.7h0M971.5,310.1h0M971.8,310.5h0M972.1,310.8h0M972.4,310.9h0M972.7,310.7h0M973.0,310.3h0M973.3,310.2h0M973.6,310.5h0M973.9,311.1h0M974.2,311.9h0M974.5,312.4h0M974.8,312.5h0M975.1,312.2h0M975.4,312.1h0M975.7,312.3h0M976.0,312.7h0M976.3,312.6h0M976.6,311.7h0M976.9,310.3h0M977.2,309.5h0M977.5,309.9h0M977.8,311.4h0M978.1,312.8h0M978.4,313.5h0M978.7,313.3h0M979.0,312.7h0M979.3,312.0h0M979.6,311.4h0M979.9,310.9h0M980.2,310.6h0M980.5,310.4h0M980.8,310.3h0M981.1,310.3h0M981.4,310.2h0M981.7,309.7h0M982.0,308.8h0M982.3,307.9h0M982.6,307.4h0M982.9,307.1h0M983.2,307.1h0M983.5,307.0h0M983.8,306.9h0M984.1,306.6h0M984.4,306.0h0M984.7,305.1h0M985.0,304.2h0M985.3,303.7h0M985.6,303.6h0M985.9,303.7h0M986.2,303.7h0M986.5,303.8h0M986.8,304.3h0M987.1,305.0h0M987.4,305.3h0M987.7,305.0h0M988.0,304.4h0M988.3,304.0h0M988.6,304.2h0M988.9,304.9h0M989.2,305.8h0M989.5,306.4h0M989.8,306.4h0M990.1,305.8h0M990.4,304.7h0M990.7,303.6h0M991.0,303.0h0M991.3,303.1h0M991.6,303.6h0M991.9,304.5h0M992.2,305.4h0M992.5,306.3h0" stroke="#000" stroke-width="3.9" stroke-linecap="round" fill="none"/>
<path d="M40.9,694.6h0M41.0,694.6h0M41.1,694.7h0M41.2,694.7h0M41.3,694.8h0M41.4,694.9h0M41.6,695.0h0M41.7,695.1h0M41.8,695.2h0M41.9,695.3h0M42.0,695.4h0M42.1,695.5h0M42.2,695.7h0M42.3,695.8h0M42.4,695.9h0M42.5,696.0h0M42.7,696.2h0M42.8,696.4h0M42.9,696.6h0M43.0,696.8h0M43.1,697.0h0M43.2,697.3h0M43.3,697.5h0M43.4,697.8h0M43.5,698.0h0M43.6,698.1h0M43.8,698.2h0M43.9,698.3h0M44.0,698.2h0M44.1,698.2h0M44.2,698.1h0M44.3,697.9h0M44.4,697.8h0M44.5,697.6h0M44.6,697.4h0M44.7,697.2h0M44.9,697.0h0M45.0,696.9h0M45.1,696.7h0M45.2,696.5h0M45.3,696.3h0M45.4,696.1h0M45.5,696.0h0M45.6,695.9h0M45.7,695.8h0M45.8,695.7h0M46.0,695.6h0M46.1,695.6h0M46.2,695.6h0M46.3,695.6h0M46.4,695.6h0M46.5,695.6h0M46.6,695.6h0M46.7,695.6h0M46.8,695.6h0M46.9,695.6h0M47.1,695.6h0M47.2,695.6h0M47.3,695.6h0M47.4,695.6h0M47.5,695.6h0M47.6,695.7h0M47.7,695.7h0M47.8,695.8h0M47.9,696.0h0M48.0,696.1h0M48.2,696.2h0M48.3,696.3h0M48.4,696.4h0M48.5,696.4h0M48.6,696.4h0M48.7,696.4h0M48.8,696.3h0M48.9,696.2h0M49.0,696.1h0M49.1,696.1h0M49.3,696.0h0M49.4,695.9h0M49.5,695.8h0M49.6,695.8h0M49.7,695.7h0M49.8,695.6h0M49.9,695.5h0M50.0,695.4h0M50.1,695.3h0M50.2,695.2h0M50.4,695.1h0M50.5,695.1h0M50.6,695.1h0M50.7,695.1h0M50.8,695.1h0M50.9,695.1h0M51.0,695.1h0M51.1,695.1h0M51.2,695.0h0M51.3,694.9h0M51.5,694.8h0M51.6,694.7h0M51.7,694.6h0M51.8,694.4h0M51.9,694.3h0M52.0,694.1h0M52.1,694.0h0M52.2,693.8h0M52.3,693.6h0M52.4,693.4h0M52.6,693.1h0M52.7,692.9h0M52.8,692.6h0M52.9,692.3h0M53.0,692.0h0M53.1,691.6h0M53.2,691.3h0M53.3,690.9h0M53.4,690.5h0M53.5,690.1h0M53.7,689.7h0M53.8,689.3h0M53.9,688.9h0M54.0,688.5h0M54.1,688.0h0M54.2,687.6h0M54.3,687.2h0M54.4,686.9h0M54.5,686.5h0M54.6,686.2h0M54.8,685.8h0M54.9,685.5h0M55.0,685.3h0M55.1,685.0h0M55.2,684.7h0M55.3,684.4h0M55.4,684.1h0M55.5,683.9h0M55.6,683.6h0M55.7,683.3h0M55.9,683.1h0M56.0,682.9h0M56.1,682.7h0M56.2,682.6h0M56.3,682.5h0M56.4,682.5h0M56.5,682.5h0M56.6,682.5h0M56.7,682.5h0M56.8,682.4h0M57.0,682.5h0M57.1,682.5h0M57.2,682.6h0M57.3,682.7h0M57.4,682.9h0M57.5,683.1h0M57.6,683.3h0M57.7,683.5h0M57.8,683.8h0M57.9,684.0h0M58.1,684.3h0M58.2,684.6h0M58.3,685.0h0M58.4,685.3h0M58.5,685.6h0M58.6,685.9h0M58.7,686.3h0M58.8,686.6h0M58.9,686.8h0M59.0,687.1h0M59.2,687.4h0M59.3,687.7h0M59.4,688.0h0M59.5,688.3h0M59.6,688.6h0M59.7,689.0h0M59.8,689.3h0M59.9,689.7h0M60.0,690.0h0M60.1,690.4h0M60.3,690.7h0M60.4,691.1h0M60.5,691.4h0M60.6,691.7h0M60.7,692.0h0M60.8,692.3h0M60.9,692.6h0M61.0,692.9h0M61.1,693.1h0M61.2,693.4h0M61.4,693.6h0M61.5,693.8h0M61.6,694.0h0M61.7,694.1h0M61.8,694.2h0M61.9,694.2h0M62.0,694.2h0M62.1,694.2h0M62.2,694.1h0M62.3,694.1h0M62.5,694.0h0M62.6,693.9h0M62.7,693.9h0M62.8,693.9h0M62.9,693.9h0M63.0,694.0h0M63.1,694.1h0M63.2,694.3h0M63.3,694.4h0M63.4,694.6h0M63.6,694.7h0M63.7,694.8h0M63.8,694.9h0M63.9,694.9h0M64.0,694.9h0M64.1,694.9h0M64.2,694.8h0M64.3,694.8h0M64.4,694.7h0M64.5,694.7h0M64.7,694.7h0M64.8,694.7h0M64.9,694.7h0M65.0,694.7h0M65.1,694.7h0M65.2,694.7h0M65.3,694.7h0M65.4,694.7h0M65.5,694.6h0M65.6,694.6h0M65.8,694.5h0M65.9,694.4h0M66.0,694.4h0M66.1,694.3h0M66.2,694.3h0M66.3,694.2h0M66.4,694.2h0M66.5,694.1h0M66.6,694.1h0M66.7,694.1h0M66.9,694.1h0M67.0,694.1h0M67.1,694.1h0M67.2,694.1h0M67.3,694.1h0M67.4,694.1h0M67.5,694.2h0M67.6,694.2h0M67.7,694.3h0M67.8,694.4h0M68.0,694.4h0M68.1,694.5h0M68.2,694.6h0M68.3,694.6h0M68.4,694.6h0M68.5,694.5h0M68.6,694.5h0M68.7,694.3h0M68.8,694.2h0M68.9,694.0h0M69.1,693.9h0M69.2,693.7h0M69.3,693.6h0M69.4,693.6h0M69.5,693.7h0M69.6,693.8h0M69.7,693.9h0M69.8,694.1h0M69.9,694.2h0M70.0,694.3h0M70.2,694.4h0M70.3,694.4h0M70.4,694.3h0M70.5,694.2h0M70.6,694.1h0M70.7,694.0h0M70.8,693.9h0M70.9,693.9h0M71.0,693.9h0M71.1,693.9h0M71.3,693.9h0M71.4,694.0h0M71.5,694.0h0M71.6,694.0h0M71.7,693.8h0M71.8,693.6h0M71.9,693.4h0M72.0,693.1h0M72.1,692.8h0M72.2,692.5h0M72.4,692.2h0M72.5,691.9h0M72.6,691.6h0M72.7,691.3h0M72.8,690.9h0M72.9,690.6h0M73.0,690.3h0M73.1,689.9h0M73.2,689.6h0M73.3,689.2h0M73.5,688.8h0M73.6,688.4h0M73.7,687.9h0M73.8,687.5h0M73.9,687.0h0M74.0,686.5h0M74.1,686.0h0M74.2,685.4h0M74.3,684.8h0M74.4,684.1h0M74.6,683.2h0M74.7,682.2h0M74.8,681.2h0M74.9,680.1h0M75.0,678.9h0M75.1,677.6h0M75.2,676.3h0M75.3,675.0h0M75.4,673.6h0M75.5,672.3h0M75.7,670.9h0M75.8,669.6h0M75.9,668.3h0M76.0,666.9h0M76.1,665.4h0M76.2,663.7h0M76.3,662.0h0M76.4,660.2h0M76.5,658.4h0M76.6,656.7h0M76.8,655.0h0M76.9,653.4h0M77.0,651.9h0M77.1,650.7h0M77.2,649.6h0M77.3,648.8h0M77.4,648.1h0M77.5,647.4h0M77.6,646.7h0M77.7,646.1h0M77.9,645.5h0M78.0,645.0h0M78.1,644.6h0M78.2,644.4h0M78.3,644.3h0M78.4,644.7h0M78.5,645.0h0M78.6,644.2h0M78.7,644.3h0M78.8,644.7h0M79.0,645.4h0M79.1,646.1h0M79.2,647.0h0M79.3,647.9h0M79.4,648.8h0M79.5,649.8h0M79.6,650.7h0M79.7,651.6h0M79.8,652.4h0M79.9,653.0h0M80.1,653.6h0M80.2,654.1h0M80.3,654.6h0M80.4,653.9h0M80.5,653.2h0M80.6,652.1h0M80.7,650.7h0M80.8,648.9h0M80.9,646.9h0M81.0,644.8h0M81.2,642.5h0M81.3,640.1h0M81.4,637.7h0M81.5,635.4h0M81.6,633.2h0M81.7,631.1h0M81.8,629.0h0M81.9,626.6h0M82.0,624.1h0M82.1,621.4h0M82.3,618.5h0M82.4,615.6h0M82.5,612.6h0M82.6,609.7h0M82.7,606.8h0M82.8,603.9h0M82.9,601.2h0M83.0,598.7h0M83.1,596.4h0M83.2,594.3h0M83.4,592.5h0M83.5,591.0h0M83.6,590.0h0M83.7,589.3h0M83.8,589.7h0M83.9,589.4h0M84.0,590.5h0M84.1,592.2h0M84.2,594.5h0M84.3,597.2h0M84.5,600.2h0M84.6,603.5h0M84.6,605.3h0M84.7,607.0h0M84.7,608.7h0M84.8,610.5h0M84.8,612.2h0M84.9,614.0h0M85.0,615.7h0M85.0,617.4h0M85.1,620.5h0M85.2,623.4h0M85.3,626.3h0M85.4,629.4h0M85.6,632.6h0M85.7,635.9h0M85.8,639.1h0M85.9,642.3h0M86.0,645.3h0M86.1,648.1h0M86.2,650.6h0M86.3,652.8h0M86.4,654.6h0M86.5,656.4h0M86.7,658.1h0M86.8,659.8h0M86.9,661.5h0M87.0,663.1h0M87.1,664.6h0M87.2,666.1h0M87.3,667.5h0M87.4,668.8h0M87.5,669.9h0M87.6,670.9h0M87.8,671.8h0M87.9,672.5h0M88.0,673.0h0M88.1,673.4h0M88.2,673.5h0M88.3,673.5h0M88.4,673.4h0M88.5,673.3h0M88.6,673.1h0M88.7,672.9h0M88.9,672.7h0M89.0,672.4h0M89.1,672.2h0M89.2,671.9h0M89.3,671.6h0M89.4,671.2h0M89.5,670.9h0M89.6,670.6h0M89.7,670.3h0M89.8,670.0h0M90.0,669.7h0M90.1,669.3h0M90.2,668.9h0M90.3,668.5h0M90.4,668.0h0M90.5,667.5h0M90.6,667.0h0M90.7,666.4h0M90.8,665.9h0M90.9,665.3h0M91.1,664.8h0M91.2,664.3h0M91.3,663.8h0M91.4,663.4h0M91.5,663.1h0M91.6,662.8h0M91.7,662.5h0M91.8,662.4h0M91.9,662.4h0M92.0,662.3h0M92.2,662.3h0M92.3,662.4h0M92.4,662.7h0M92.5,663.0h0M92.6,663.5h0M92.7,663.9h0M92.8,664.5h0M92.9,665.0h0M93.0,665.6h0M93.1,666.2h0M93.3,666.8h0M93.4,667.3h0M93.5,667.9h0M93.6,668.4h0M93.7,668.8h0M93.8,669.2h0M93.9,669.5h0M94.0,669.7h0M94.1,670.0h0M94.2,670.2h0M94.4,670.5h0M94.5,670.8h0M94.6,671.1h0M94.7,671.4h0M94.8,671.6h0M94.9,671.8h0M95.0,672.0h0M95.1,672.2h0M95.2,672.3h0M95.3,672.3h0M95.5,672.3h0M95.6,672.3h0M95.7,672.1h0M95.8,671.5h0M95.9,670.7h0M96.0,669.7h0M96.1,668.5h0M96.2,667.2h0M96.3,665.8h0M96.4,664.3h0M96.6,662.7h0M96.7,661.0h0M96.8,659.4h0M96.9,657.8h0M97.0,656.1h0M97.1,654.1h0M97.2,652.0h0M97.3,649.7h0M97.4,647.2h0M97.5,644.5h0M97.7,641.8h0M97.8,638.9h0M97.9,636.0h0M98.0,633.0h0M98.1,630.0h0M98.2,627.0h0M98.3,623.9h0M98.4,620.9h0M98.5,618.0h0M98.6,615.1h0M98.8,612.3h0M98.9,609.6h0M99.0,607.0h0M99.1,604.3h0M99.2,601.6h0M99.3,598.8h0M99.4,595.7h0M99.5,594.0h0M99.5,592.3h0M99.6,590.5h0M99.6,588.6h0M99.7,586.6h0M99.7,584.5h0M99.8,582.2h0M99.9,580.0h0M99.9,577.5h0M100.0,574.9h0M100.0,572.2h0M100.1,569.4h0M100.1,566.3h0M100.2,563.2h0M100.2,560.8h0M100.3,558.4h0M100.3,556.1h0M100.3,553.2h0M100.4,550.4h0M100.4,547.6h0M100.4,544.5h0M100.5,541.3h0M100.5,538.1h0M100.5,535.6h0M100.6,533.0h0M100.6,530.4h0M100.6,527.9h0M100.7,525.0h0M100.7,522.1h0M100.7,519.2h0M100.7,516.3h0M100.8,513.1h0M100.8,509.9h0M100.8,506.7h0M100.8,503.5h0M100.8,500.3h0M100.9,497.3h0M100.9,494.4h0M101.0,491.5h0M101.5,486.7h0M101.6,486.9h0M101.7,486.8h0M102.3,492.9h0M102.3,496.2h0M102.3,499.5h0M102.4,502.8h0M102.4,506.0h0M102.4,509.0h0M102.4,512.0h0M102.5,515.0h0M102.5,518.0h0M102.5,521.0h0M102.5,523.7h0M102.6,526.4h0M102.6,529.1h0M102.6,531.8h0M102.6,534.4h0M102.7,536.9h0M102.7,539.5h0M102.7,542.1h0M102.8,545.2h0M102.8,548.2h0M102.8,551.3h0M102.9,553.9h0M102.9,556.5h0M102.9,559.1h0M103.0,562.1h0M103.0,565.1h0M103.1,567.7h0M103.2,570.2h0M103.2,572.4h0M103.3,574.6h0M103.3,576.6h0M103.4,578.5h0M103.4,580.3h0M103.5,582.1h0M103.5,583.9h0M103.6,585.6h0M103.7,587.3h0M103.7,589.1h0M103.8,590.9h0M103.8,592.7h0M103.9,594.5h0M103.9,596.3h0M104.0,598.2h0M104.0,600.0h0M104.1,601.8h0M104.1,603.5h0M104.2,605.3h0M104.3,607.0h0M104.3,608.7h0M104.4,610.4h0M104.4,612.1h0M104.5,613.8h0M104.6,616.9h0M104.7,620.0h0M104.8,622.9h0M104.9,625.7h0M105.0,628.5h0M105.1,631.4h0M105.2,634.2h0M105.4,637.1h0M105.5,639.8h0M105.6,642.5h0M105.7,645.1h0M105.8,647.6h0M105.9,650.0h0M106.0,652.2h0M106.1,654.3h0M106.2,656.2h0M106.3,657.9h0M106.5,659.4h0M106.6,660.7h0M106.7,661.8h0M106.8,662.8h0M106.9,663.8h0M107.0,664.7h0M107.1,665.7h0M107.2,666.5h0M107.3,667.4h0M107.4,668.2h0M107.6,668.9h0M107.7,669.6h0M107.8,670.3h0M107.9,670.9h0M108.0,671.5h0M108.1,672.0h0M108.2,672.5h0M108.3,673.0h0M108.4,673.4h0M108.5,673.8h0M108.7,674.1h0M108.8,674.4h0M108.9,674.7h0M109.0,675.0h0M109.1,675.2h0M109.2,675.5h0M109.3,675.8h0M109.4,676.1h0M109.5,676.4h0M109.6,676.6h0M109.8,676.9h0M109.9,677.1h0M110.0,677.4h0M110.1,677.6h0M110.2,677.8h0M110.3,677.9h0M110.4,678.1h0M110.5,678.2h0M110.6,678.3h0M110.7,678.4h0M110.9,678.5h0M111.0,678.6h0M111.1,678.6h0M111.2,678.7h0M111.3,678.7h0M111.4,678.7h0M111.5,678.7h0M111.6,678.6h0M111.7,678.5h0M111.8,678.3h0M112.0,678.1h0M112.1,677.9h0M112.2,677.7h0M112.3,677.4h0M112.4,677.2h0M112.5,676.9h0M112.6,676.6h0M112.7,676.3h0M112.8,676.0h0M112.9,675.7h0M113.1,675.3h0M113.2,675.0h0M113.3,674.6h0M113.4,674.2h0M113.5,673.8h0M113.6,673.4h0M113.7,672.9h0M113.8,672.3h0M113.9,671.6h0M114.0,670.8h0M114.2,669.9h0M114.3,668.9h0M114.4,667.9h0M114.5,666.8h0M114.6,665.6h0M114.7,664.4h0M114.8,663.2h0M114.9,661.9h0M115.0,660.6h0M115.1,659.3h0M115.3,658.1h0M115.4,656.7h0M115.5,655.3h0M115.6,653.8h0M115.7,652.2h0M115.8,650.5h0M115.9,648.8h0M116.0,647.0h0M116.1,645.1h0M116.2,643.2h0M116.4,641.4h0M116.5,639.5h0M116.6,637.7h0M116.7,635.8h0M116.8,634.1h0M116.9,632.4h0M117.0,630.7h0M117.1,629.2h0M117.2,627.5h0M117.3,625.8h0M117.5,624.0h0M117.6,622.1h0M117.7,620.3h0M117.8,618.5h0M117.9,616.9h0M118.0,615.4h0M118.1,614.2h0M118.2,613.2h0M118.3,612.5h0M118.4,612.6h0M118.6,612.8h0M118.7,612.5h0M118.8,612.9h0M118.9,613.5h0M119.0,614.4h0M119.1,615.4h0M119.2,616.5h0M119.3,617.8h0M119.4,619.2h0M119.5,620.6h0M119.7,622.1h0M119.8,623.7h0M119.9,625.2h0M120.0,626.8h0M120.1,628.3h0M120.2,629.7h0M120.3,631.3h0M120.4,633.0h0M120.5,634.8h0M120.6,636.7h0M120.8,638.7h0M120.9,640.8h0M121.0,642.9h0M121.1,645.0h0M121.2,647.2h0M121.3,649.3h0M121.4,651.3h0M121.5,653.3h0M121.6,655.1h0M121.7,656.8h0M121.9,658.5h0M122.0,660.1h0M122.1,661.7h0M122.2,663.2h0M122.3,664.8h0M122.4,666.3h0M122.5,667.7h0M122.6,669.1h0M122.7,670.5h0M122.8,671.7h0M123.0,672.9h0M123.1,673.9h0M123.2,674.9h0M123.3,675.8h0M123.4,676.6h0M123.5,677.4h0M123.6,678.2h0M123.7,679.0h0M123.8,679.7h0M123.9,680.4h0M124.1,681.1h0M124.2,681.7h0M124.3,682.3h0M124.4,682.9h0M124.5,683.4h0M124.6,684.0h0M124.7,684.5h0M124.8,684.9h0M124.9,685.4h0M125.0,685.8h0M125.2,686.2h0M125.3,686.5h0M125.4,686.9h0M125.5,687.3h0M125.6,687.6h0M125.7,687.9h0M125.8,688.2h0M125.9,688.6h0M126.0,688.9h0M126.1,689.2h0M126.3,689.5h0M126.4,689.8h0M126.5,690.1h0M126.6,690.4h0M126.7,690.7h0M126.8,690.9h0M126.9,691.1h0M127.0,691.4h0M127.1,691.6h0M127.2,691.8h0M127.4,692.0h0M127.5,692.2h0M127.6,692.4h0M127.7,692.6h0M127.8,692.8h0M127.9,693.0h0M128.0,693.1h0M128.1,693.2h0M128.2,693.3h0M128.3,693.4h0M128.5,693.4h0M128.6,693.5h0M128.7,693.5h0M128.8,693.4h0M128.9,693.4h0M129.0,693.4h0M129.1,693.4h0M129.2,693.4h0M129.3,693.4h0M129.4,693.5h0M129.6,693.5h0M129.7,693.6h0M129.8,693.7h0M129.9,693.8h0M130.0,694.0h0M130.3,694.2h0M130.6,694.5h0M130.9,694.9h0M131.2,695.3h0M131.5,695.6h0M131.8,695.9h0M132.1,696.2h0M132.4,696.3h0M132.7,696.4h0M133.0,696.6h0M133.3,696.7h0M133.6,696.6h0M133.9,696.5h0M134.2,696.5h0M134.5,696.4h0M134.8,696.4h0M135.1,696.2h0M135.4,695.9h0M135.7,695.5h0M136.0,695.1h0M136.3,694.9h0M136.6,694.9h0M136.9,695.0h0M137.2,694.9h0M137.5,694.9h0M137.8,695.0h0M138.1,695.0h0M138.4,695.0h0M138.7,695.1h0M139.0,695.3h0M139.3,695.6h0M139.6,695.8h0M139.9,695.9h0M140.2,695.7h0M140.5,695.5h0M140.8,695.3h0M141.1,695.1h0M141.4,694.8h0M141.7,694.6h0M142.0,694.4h0M142.3,694.3h0M142.6,694.1h0M142.9,693.9h0M143.2,693.6h0M143.5,693.6h0M143.8,693.7h0M144.1,693.9h0M144.4,694.1h0M144.7,694.2h0M145.0,694.2h0M145.3,693.9h0M145.6,693.6h0M145.9,693.3h0M146.2,693.1h0M146.5,692.9h0M146.8,692.7h0M147.1,692.5h0M147.4,692.2h0M147.7,691.8h0M148.0,691.5h0M148.3,691.5h0M148.6,691.7h0M148.9,692.2h0M149.2,692.7h0M149.5,693.2h0M149.8,693.4h0M150.1,693.3h0M150.4,693.0h0M150.7,692.8h0M151.0,692.9h0M151.3,693.0h0M151.6,693.1h0M151.9,693.1h0M152.2,693.1h0M152.5,693.0h0M152.8,692.9h0M153.1,692.9h0M153.4,692.8h0M153.7,692.6h0M154.0,692.5h0M154.3,692.5h0M154.6,692.7h0M154.9,692.8h0M155.2,692.8h0M155.5,692.9h0M155.8,693.3h0M156.1,693.7h0M156.4,694.1h0M156.7,694.2h0M157.0,694.1h0M157.3,693.8h0M157.6,693.4h0M157.9,693.2h0M158.2,693.3h0M158.5,693.6h0M158.8,693.8h0M159.1,693.9h0M159.4,694.1h0M159.7,694.1h0M160.0,694.0h0M160.3,693.7h0M160.6,693.7h0M160.9,693.8h0M161.2,694.1h0M161.5,694.3h0M161.8,694.6h0M162.1,694.8h0M162.4,694.8h0M162.7,694.7h0M163.0,694.5h0M163.3,694.5h0M163.6,694.7h0M163.9,694.9h0M164.2,695.2h0M164.5,695.4h0M164.8,695.5h0M165.1,695.5h0M165.4,695.4h0M165.7,695.2h0M166.0,694.9h0M166.3,694.7h0M166.6,694.8h0M166.9,695.3h0M167.2,695.8h0M167.5,695.9h0M167.8,695.8h0M168.1,695.8h0M168.4,695.9h0M168.7,696.2h0M169.0,696.3h0M169.3,696.4h0M169.6,696.5h0M169.9,696.7h0M170.2,696.9h0M170.5,696.9h0M170.8,696.8h0M171.1,696.5h0M171.4,696.0h0M171.7,695.6h0M172.0,695.4h0M172.3,695.4h0M172.6,695.5h0M172.9,695.5h0M173.2,695.4h0M173.5,695.3h0M173.8,695.3h0M174.1,695.2h0M174.4,694.8h0M174.7,694.3h0M175.0,693.9h0M175.3,693.7h0M175.6,693.8h0M175.9,693.8h0M176.2,693.6h0M176.5,693.4h0M176.8,693.3h0M177.1,693.4h0M177.4,693.5h0M177.7,693.6h0M178.0,693.7h0M178.3,693.7h0M178.6,693.4h0M178.9,693.0h0M179.2,692.5h0M179.5,692.1h0M179.8,691.9h0M180.1,691.9h0M180.4,692.1h0M180.7,692.4h0M181.0,692.6h0M181.3,692.4h0M181.6,692.1h0M181.9,692.0h0M182.2,691.9h0M182.5,691.8h0M182.8,691.5h0M183.1,691.3h0M183.4,691.2h0M183.7,691.3h0M184.0,691.4h0M184.3,691.5h0M184.6,691.6h0M184.9,691.8h0M185.2,692.0h0M185.5,692.3h0M185.8,692.6h0M186.1,692.7h0M186.4,692.6h0M186.7,692.4h0M187.0,692.3h0M187.3,692.3h0M187.6,692.5h0M187.9,692.8h0M188.2,692.9h0M188.5,692.8h0M188.8,692.6h0M189.1,692.5h0M189.4,692.4h0M189.7,692.2h0M190.0,692.2h0M190.3,692.3h0M190.6,692.4h0M190.9,692.6h0M191.2,692.8h0M191.5,693.0h0M191.8,693.1h0M192.1,693.0h0M192.4,692.8h0M192.7,692.5h0M193.0,692.3h0M193.3,692.2h0M193.6,692.1h0M193.9,691.9h0M194.2,691.7h0M194.5,691.6h0M194.8,691.6h0M195.1,691.6h0M195.4,691.6h0M195.7,691.8h0M196.0,691.9h0M196.3,691.9h0M196.6,691.8h0M196.9,691.6h0M197.2,691.6h0M197.5,691.8h0M197.8,692.1h0M198.1,692.3h0M198.4,692.3h0M198.7,692.4h0M199.0,692.6h0M199.3,692.8h0M199.6,693.0h0M199.9,693.2h0M200.2,693.3h0M200.5,693.1h0M200.8,693.0h0M201.1,692.9h0M201.4,692.8h0M201.7,692.8h0M202.0,692.8h0M202.3,693.0h0M202.6,693.2h0M202.9,693.1h0M203.2,692.7h0M203.5,692.2h0M203.8,691.8h0M204.1,691.6h0M204.4,691.6h0M204.7,691.8h0M205.0,692.1h0M205.3,692.4h0M205.6,692.5h0M205.9,692.4h0M206.2,692.3h0M206.5,692.3h0M206.8,692.2h0M207.1,692.1h0M207.4,691.9h0M207.7,691.8h0M208.0,691.8h0M208.3,692.0h0M208.6,692.1h0M208.9,692.1h0M209.2,691.9h0M209.5,691.7h0M209.8,691.5h0M210.1,691.5h0M210.4,691.7h0M210.7,691.8h0M211.0,691.9h0M211.3,691.9h0M211.6,692.0h0M211.9,692.3h0M212.2,692.7h0M212.5,692.9h0M212.8,693.0h0M213.1,692.9h0M213.4,692.6h0M213.7,692.5h0M214.0,692.6h0M214.3,692.6h0M214.6,692.5h0M214.9,692.3h0M215.2,692.2h0M215.5,692.2h0M215.8,692.3h0M216.1,692.3h0M216.4,692.3h0M216.7,692.1h0M217.0,692.1h0M217.3,692.2h0M217.6,692.5h0M217.9,692.5h0M218.2,692.4h0M218.5,692.2h0M218.8,692.1h0M219.1,692.3h0M219.4,692.9h0M219.7,693.7h0M220.0,694.3h0M220.3,694.5h0M220.6,694.4h0M220.9,694.4h0M221.2,694.7h0M221.5,695.0h0M221.8,695.0h0M222.1,694.7h0M222.4,694.2h0M222.7,694.0h0M223.0,694.0h0M223.3,694.1h0M223.6,694.2h0M223.9,694.3h0M224.2,694.3h0M224.5,694.5h0M224.8,694.9h0M225.1,695.2h0M225.4,695.5h0M225.7,695.5h0M226.0,695.4h0M226.3,695.2h0M226.6,694.8h0M226.9,694.4h0M227.2,694.1h0M227.5,694.1h0M227.8,694.4h0M228.1,694.8h0M228.4,695.1h0M228.7,695.2h0M229.0,695.1h0M229.3,695.0h0M229.6,694.8h0M229.9,694.8h0M230.2,694.9h0M230.5,695.2h0M230.8,695.4h0M231.1,695.5h0M231.4,695.5h0M231.7,695.5h0M232.0,695.7h0M232.3,695.8h0M232.6,696.1h0M232.9,696.5h0M233.2,697.0h0M233.5,697.3h0M233.8,697.3h0M234.1,697.2h0M234.4,697.1h0M234.7,697.3h0M235.0,697.4h0M235.3,697.3h0M235.6,697.1h0M235.9,697.0h0M236.2,696.8h0M236.5,696.6h0M236.8,696.6h0M237.1,696.7h0M237.4,696.8h0M237.7,696.8h0M238.0,696.8h0M238.3,696.9h0M238.6,697.1h0M238.9,697.2h0M239.2,697.1h0M239.5,697.0h0M239.8,697.0h0M240.1,697.0h0M240.4,697.1h0M240.7,697.2h0M241.0,697.3h0M241.3,697.3h0M241.6,697.3h0M241.9,697.3h0M242.2,697.3h0M242.5,697.6h0M242.8,698.1h0M243.1,698.6h0M243.4,699.0h0M243.7,699.3h0M244.0,699.3h0M244.3,699.1h0M244.6,699.3h0M244.9,699.7h0M245.2,700.0h0M245.5,699.9h0M245.8,699.4h0M246.1,698.8h0M246.4,698.3h0M246.7,698.0h0M247.0,697.7h0M247.3,697.5h0M247.6,697.4h0M247.9,697.5h0M248.2,697.7h0M248.5,698.1h0M248.8,698.5h0M249.1,699.0h0M249.4,699.4h0M249.7,699.6h0M250.0,699.5h0M250.3,699.2h0M250.6,699.0h0M250.9,698.9h0M251.2,698.9h0M251.5,698.9h0M251.8,699.1h0M252.1,699.3h0M252.4,699.6h0M252.7,699.9h0M253.0,700.0h0M253.3,700.0h0M253.6,699.9h0M253.9,699.8h0M254.2,699.8h0M254.5,699.7h0M254.8,699.6h0M255.1,699.5h0M255.4,699.5h0M255.7,699.7h0M256.0,699.9h0M256.3,700.2h0M256.6,700.4h0M256.9,700.5h0M257.2,700.7h0M257.5,701.0h0M257.8,701.4h0M258.1,701.8h0M258.4,702.1h0M258.7,702.1h0M259.0,701.7h0M259.3,701.0h0M259.6,700.2h0M259.9,699.7h0M260.2,699.7h0M260.5,700.0h0M260.8,700.4h0M261.1,700.5h0M261.4,700.3h0M261.7,699.7h0M262.0,699.2h0M262.3,698.8h0M262.6,698.6h0M262.9,698.5h0M263.2,698.5h0M263.5,698.6h0M263.8,698.8h0M264.1,699.0h0M264.4,699.1h0M264.7,699.1h0M265.0,698.9h0M265.3,698.5h0M265.6,698.1h0M265.9,698.0h0M266.2,698.1h0M266.5,698.4h0M266.8,698.7h0M267.1,699.0h0M267.4,699.1h0M267.7,699.2h0M268.0,699.1h0M268.3,698.9h0M268.6,699.0h0M268.9,699.2h0M269.2,699.4h0M269.5,699.4h0M269.8,699.3h0M270.1,699.1h0M270.4,699.1h0M270.7,699.2h0M271.0,699.4h0M271.3,699.5h0M271.6,699.5h0M271.9,699.3h0M272.2,698.9h0M272.5,698.4h0M272.8,697.9h0M273.1,697.4h0M273.4,696.9h0M273.7,696.5h0M274.0,696.3h0M274.3,696.1h0M274.6,696.1h0M274.9,696.0h0M275.2,695.9h0M275.5,695.6h0M275.8,695.3h0M276.1,695.1h0M276.4,695.1h0M276.7,695.0h0M277.0,694.7h0M277.3,694.3h0M277.6,694.0h0M277.9,694.0h0M278.2,694.0h0M278.5,693.9h0M278.8,693.6h0M279.1,693.3h0M279.4,692.9h0M279.7,692.3h0M280.0,691.8h0M280.3,691.5h0M280.6,691.3h0M280.9,691.1h0M281.2,690.6h0M281.5,690.1h0M281.8,689.6h0M282.1,689.6h0M282.4,689.7h0M282.7,689.9h0M283.0,690.1h0M283.3,690.5h0M283.6,691.0h0M283.9,691.7h0M284.2,692.3h0M284.5,692.9h0M284.8,693.4h0M285.1,693.8h0M285.4,694.2h0M285.7,694.7h0M286.0,695.3h0M286.3,695.9h0M286.6,696.5h0M286.9,696.9h0M287.2,697.1h0M287.5,697.2h0M287.8,697.5h0M288.1,697.8h0M288.4,698.2h0M288.7,698.5h0M289.0,698.7h0M289.3,698.8h0M289.6,698.9h0M289.9,699.1h0M290.2,699.4h0M290.5,699.4h0M290.8,699.2h0M291.1,699.1h0M291.4,699.2h0M291.7,699.4h0M292.0,699.5h0M292.3,699.5h0M292.6,699.3h0M292.9,699.2h0M293.2,699.1h0M293.5,699.0h0M293.8,699.1h0M294.1,699.4h0M294.4,699.9h0M294.7,700.6h0M295.0,701.3h0M295.3,701.7h0M295.6,701.7h0M295.9,701.5h0M296.2,701.4h0M296.5,701.5h0M296.8,701.6h0M297.1,701.7h0M297.4,701.8h0M297.7,701.6h0M298.0,701.5h0M298.3,701.5h0M298.6,701.7h0M298.9,702.3h0M299.2,703.1h0M299.5,703.8h0M299.8,704.3h0M300.1,704.4h0M300.4,704.3h0M300.7,704.2h0M301.0,704.1h0M301.3,704.0h0M301.6,704.0h0M301.9,704.0h0M302.2,704.1h0M302.5,704.3h0M302.8,704.4h0M303.1,704.4h0M303.4,704.4h0M303.7,704.6h0M304.0,704.9h0M304.3,705.3h0M304.6,705.6h0M304.9,705.6h0M305.2,705.3h0M305.5,704.9h0M305.8,704.6h0M306.1,704.4h0M306.4,704.3h0M306.7,704.2h0M307.0,704.0h0M307.3,703.7h0M307.6,703.5h0M307.9,703.4h0M308.2,703.5h0M308.5,703.8h0M308.8,704.3h0M309.1,704.7h0M309.4,705.0h0M309.7,705.0h0M310.0,705.1h0M310.3,705.2h0M310.6,705.3h0M310.9,705.4h0M311.2,705.7h0M311.5,706.0h0M311.8,706.3h0M312.1,706.3h0M312.4,706.0h0M312.7,705.6h0M313.0,705.2h0M313.3,705.0h0M313.6,704.8h0M313.9,704.5h0M314.2,704.4h0M314.5,704.5h0M314.8,705.0h0M315.1,705.3h0M315.4,705.4h0M315.7,705.1h0M316.0,705.0h0M316.3,705.2h0M316.6,705.5h0M316.9,705.4h0M317.2,705.2h0M317.5,705.1h0M317.8,705.5h0M318.1,706.1h0M318.4,706.6h0M318.7,706.9h0M319.0,707.0h0M319.3,706.9h0M319.6,706.7h0M319.9,706.6h0M320.2,706.6h0M320.5,706.5h0M320.8,706.5h0M321.1,706.4h0M321.4,706.3h0M321.7,706.2h0M322.0,706.0h0M322.3,705.8h0M322.6,705.5h0M322.9,705.3h0M323.2,705.0h0M323.5,704.7h0M323.8,704.4h0M324.1,704.0h0M324.4,703.6h0M324.7,703.4h0M325.0,703.5h0M325.3,704.1h0M325.6,704.5h0M325.9,704.7h0M326.2,704.5h0M326.5,704.2h0M326.8,703.8h0M327.1,703.6h0M327.4,703.6h0M327.7,703.6h0M328.0,703.8h0M328.3,704.0h0M328.6,704.2h0M328.9,704.4h0M329.2,704.5h0M329.5,704.6h0M329.8,704.5h0M330.1,704.2h0M330.4,704.0h0M330.7,703.9h0M331.0,704.1h0M331.3,704.4h0M331.6,704.6h0M331.9,704.7h0M332.2,704.5h0M332.5,704.1h0M332.8,703.7h0M333.1,703.3h0M333.4,703.1h0M333.7,703.1h0M334.0,703.4h0M334.3,703.8h0M334.6,704.2h0M334.9,704.6h0M335.2,704.7h0M335.5,704.7h0M335.8,704.7h0M336.1,704.8h0M336.4,704.8h0M336.7,704.7h0M337.0,704.6h0M337.3,704.4h0M337.6,704.1h0M337.9,703.7h0M338.2,703.1h0M338.5,702.4h0M338.8,701.9h0M339.1,701.7h0M339.4,701.9h0M339.7,702.2h0M340.0,702.7h0M340.3,703.1h0M340.6,703.6h0M340.9,704.0h0M341.2,704.1h0M341.5,704.0h0M341.8,703.6h0M342.1,703.2h0M342.4,702.9h0M342.7,702.9h0M343.0,703.0h0M343.3,703.2h0M343.6,703.2h0M343.9,703.1h0M344.2,703.0h0M344.5,703.0h0M344.8,703.2h0M345.1,703.5h0M345.4,703.8h0M345.7,703.9h0M346.0,703.7h0M346.3,703.3h0M346.6,702.9h0M346.9,702.9h0M347.2,703.1h0M347.5,703.2h0M347.8,703.0h0M348.1,702.8h0M348.4,702.8h0M348.7,702.7h0M349.0,702.7h0M349.3,702.8h0M349.6,703.0h0M349.9,703.1h0M350.2,703.0h0M350.5,702.6h0M350.8,702.3h0M351.1,702.1h0M351.4,702.1h0M351.7,702.0h0M352.0,701.7h0M352.3,701.5h0M352.6,701.3h0M352.9,701.1h0M353.2,700.7h0M353.5,700.3h0M353.8,699.9h0M354.1,699.7h0M354.4,699.6h0M354.7,699.4h0M355.0,699.1h0M355.3,698.8h0M355.6,698.7h0M355.9,698.6h0M356.2,698.7h0M356.5,698.8h0M356.8,699.0h0M357.1,699.1h0M357.4,698.9h0M357.7,698.6h0M358.0,698.4h0M358.3,698.3h0M358.6,698.4h0M358.9,698.6h0M359.2,698.8h0M359.5,699.1h0M359.8,699.3h0M360.1,699.5h0M360.4,699.6h0M360.7,699.6h0M361.0,699.5h0M361.3,699.3h0M361.6,699.1h0M361.9,698.9h0M362.2,698.6h0M362.5,698.5h0M362.8,698.7h0M363.1,699.2h0M363.4,699.7h0M363.7,700.1h0M364.0,700.2h0M364.3,700.2h0M364.6,700.2h0M364.9,700.5h0M365.2,701.0h0M365.5,701.4h0M365.8,701.5h0M366.1,701.4h0M366.4,701.3h0M366.7,701.6h0M367.0,701.9h0M367.3,702.3h0M367.6,702.7h0M367.9,703.0h0M368.2,703.2h0M368.5,703.4h0M368.8,703.5h0M369.1,703.7h0M369.4,703.9h0M369.7,704.3h0M370.0,704.7h0M370.3,704.9h0M370.6,704.9h0M370.9,704.8h0M371.2,705.1h0M371.5,705.4h0M371.8,705.6h0M372.1,705.5h0M372.4,705.3h0M372.7,704.9h0M373.0,704.5h0M373.3,704.3h0M373.6,704.5h0M373.9,704.8h0M374.2,705.0h0M374.5,704.9h0M374.8,704.7h0M375.1,704.6h0M375.4,704.6h0M375.7,704.8h0M376.0,705.1h0M376.3,705.5h0M376.6,705.6h0M376.9,705.6h0M377.2,705.5h0M377.5,705.6h0M377.8,705.9h0M378.1,706.1h0M378.4,706.3h0M378.7,706.5h0M379.0,706.8h0M379.3,706.9h0M379.6,706.9h0M379.9,706.9h0M380.2,707.1h0M380.5,707.4h0M380.8,707.6h0M381.1,707.5h0M381.4,707.1h0M381.7,706.7h0M382.0,706.3h0M382.3,705.9h0M382.6,705.6h0M382.9,705.4h0M383.2,705.4h0M383.5,705.6h0M383.8,705.8h0M384.1,705.8h0M384.4,705.5h0M384.7,705.3h0M385.0,705.3h0M385.3,705.4h0M385.6,705.3h0M385.9,705.1h0M386.2,705.0h0M386.5,704.9h0M386.8,705.0h0M387.1,705.3h0M387.4,705.8h0M387.7,706.2h0M388.0,706.5h0M388.3,706.5h0M388.6,706.3h0M388.9,706.2h0M389.2,706.3h0M389.5,706.5h0M389.8,706.8h0M390.1,707.0h0M390.4,707.0h0M390.7,706.8h0M391.0,706.6h0M391.3,706.6h0M391.6,706.8h0M391.9,706.9h0M392.2,706.8h0M392.5,706.6h0M392.8,706.5h0M393.1,706.5h0M393.4,706.6h0M393.7,706.7h0M394.0,706.7h0M394.3,706.5h0M394.6,706.1h0M394.9,705.7h0M395.2,705.4h0M395.5,705.3h0M395.8,705.4h0M396.1,705.5h0M396.4,705.7h0M396.7,705.9h0M397.0,706.0h0M397.3,706.1h0M397.6,706.3h0M397.9,706.5h0M398.2,706.7h0M398.5,706.8h0M398.8,706.7h0M399.1,706.8h0M399.4,707.0h0M399.7,707.1h0M400.0,707.0h0M400.3,706.6h0M400.6,706.2h0M400.9,705.8h0M401.2,705.6h0M401.5,705.5h0M401.8,705.8h0M402.1,706.4h0M402.4,707.0h0M402.7,707.4h0M403.0,707.3h0M403.3,707.1h0M403.6,706.9h0M403.9,706.9h0M404.2,706.9h0M404.5,706.9h0M404.8,707.0h0M405.1,706.8h0M405.4,706.5h0M405.7,706.3h0M406.0,706.2h0M406.3,706.1h0M406.6,706.0h0M406.9,705.7h0M407.2,705.2h0M407.5,704.7h0M407.8,704.4h0M408.1,704.4h0M408.4,704.5h0M408.7,704.5h0M409.0,704.3h0M409.3,703.9h0M409.6,703.4h0M409.9,702.9h0M410.2,702.5h0M410.5,702.4h0M410.8,702.1h0M411.1,701.8h0M411.4,701.2h0M411.7,700.7h0M412.0,700.2h0M412.3,699.7h0M412.6,699.4h0M412.9,699.1h0M413.2,698.7h0M413.5,698.3h0M413.8,697.8h0M414.1,697.3h0M414.4,696.9h0M414.7,696.6h0M415.0,696.3h0M415.3,696.2h0M415.6,696.2h0M415.9,696.1h0M416.2,696.0h0M416.5,696.2h0M416.8,696.6h0M417.1,697.2h0M417.4,697.8h0M417.7,698.4h0M418.0,698.9h0M418.3,699.4h0M418.6,699.9h0M418.9,700.4h0M419.2,701.1h0M419.5,701.8h0M419.8,702.4h0M420.1,702.7h0M420.4,702.9h0M420.7,703.1h0M421.0,703.4h0M421.3,703.6h0M421.6,703.7h0M421.9,703.7h0M422.2,703.8h0M422.5,703.9h0M422.8,704.1h0M423.1,704.4h0M423.4,704.6h0M423.7,704.9h0M424.0,705.3h0M424.3,705.6h0M424.6,705.8h0M424.9,705.8h0M425.2,705.7h0M425.5,705.6h0M425.8,705.8h0M426.1,706.3h0M426.4,707.0h0M426.7,707.5h0M427.0,707.8h0M427.3,707.9h0M427.6,707.9h0M427.9,707.7h0M428.2,707.3h0M428.5,707.0h0M428.8,706.8h0M429.1,706.6h0M429.4,706.4h0M429.7,706.2h0M430.0,706.2h0M430.3,706.5h0M430.6,706.8h0M430.9,707.1h0M431.2,707.3h0M431.5,707.3h0M431.8,707.3h0M432.1,707.1h0M432.4,706.8h0M432.7,706.4h0M433.0,706.2h0M433.3,706.3h0M433.6,706.6h0M433.9,706.8h0M434.2,706.7h0M434.5,706.6h0M434.8,706.6h0M435.1,706.7h0M435.4,706.7h0M435.7,706.9h0M436.0,707.2h0M436.3,707.5h0M436.6,707.6h0M436.9,707.5h0M437.2,707.4h0M437.5,707.4h0M437.8,707.3h0M438.1,707.1h0M438.4,707.0h0M438.7,707.1h0M439.0,707.6h0M439.3,708.1h0M439.6,708.5h0M439.9,708.6h0M440.2,708.3h0M440.5,707.9h0M440.8,707.5h0M441.1,707.4h0M441.4,707.5h0M441.7,707.5h0M442.0,707.3h0M442.3,706.9h0M442.6,706.5h0M442.9,706.3h0M443.2,706.5h0M443.5,707.0h0M443.8,707.6h0M444.1,708.2h0M444.4,708.2h0M444.7,707.8h0M445.0,707.4h0M445.3,707.4h0M445.6,707.6h0M445.9,707.8h0M446.2,707.7h0M446.5,707.6h0M446.8,707.4h0M447.1,707.3h0M447.4,707.4h0M447.7,707.6h0M448.0,707.6h0M448.3,707.4h0M448.6,707.3h0M448.9,707.4h0M449.2,707.7h0M449.5,708.2h0M449.8,708.7h0M450.1,709.0h0M450.4,709.3h0M450.7,709.4h0M451.0,709.5h0M451.3,709.4h0M451.6,709.2h0M451.9,708.9h0M452.2,708.6h0M452.5,708.3h0M452.8,708.1h0M453.1,708.0h0M453.4,708.0h0M453.7,708.1h0M454.0,708.3h0M454.3,708.5h0M454.6,708.6h0M454.9,708.7h0M455.2,708.7h0M455.5,708.7h0M455.8,708.6h0M456.1,708.6h0M456.4,708.7h0M456.7,708.8h0M457.0,708.8h0M457.3,708.7h0M457.6,708.7h0M457.9,708.8h0M458.2,708.8h0M458.5,708.8h0M458.8,708.8h0M459.1,708.7h0M459.4,708.5h0M459.7,708.3h0M460.0,708.1h0M460.3,708.1h0M460.6,708.2h0M460.9,708.3h0M461.2,708.4h0M461.5,708.5h0M461.8,708.6h0M462.1,708.7h0M462.4,708.8h0M462.7,708.9h0M463.0,708.7h0M463.3,708.5h0M463.6,708.2h0M463.9,708.0h0M464.2,707.8h0M464.5,707.6h0M464.8,707.4h0M465.1,707.2h0M465.4,707.1h0M465.7,707.1h0M466.0,707.3h0M466.3,707.4h0M466.6,707.3h0M466.9,707.3h0M467.2,707.4h0M467.5,707.4h0M467.8,707.2h0M468.1,706.7h0M468.4,706.2h0M468.7,706.0h0M469.0,705.9h0M469.3,706.0h0M469.6,706.1h0M469.9,706.1h0M470.2,706.0h0M470.5,705.9h0M470.8,705.6h0M471.1,705.2h0M471.4,704.6h0M471.7,704.2h0M472.0,703.7h0M472.3,703.3h0M472.6,702.8h0M472.9,702.4h0M473.2,701.9h0M473.5,701.1h0M473.8,700.2h0M474.1,699.2h0M474.4,698.2h0M474.7,697.0h0M475.0,695.9h0M475.3,694.7h0M475.6,693.6h0M475.9,692.5h0M476.2,691.5h0M476.5,690.6h0M476.8,689.9h0M477.1,689.5h0M477.4,689.3h0M477.7,689.0h0M478.0,689.1h0M478.3,689.5h0M478.6,690.1h0M478.9,690.8h0M479.2,691.4h0M479.5,692.1h0M479.8,692.7h0M480.1,693.4h0M480.4,694.3h0M480.7,695.3h0M481.0,696.4h0M481.3,697.4h0M481.6,698.3h0M481.9,699.2h0M482.2,699.9h0M482.5,700.7h0M482.8,701.5h0M483.1,702.1h0M483.4,702.7h0M483.7,703.1h0M484.0,703.4h0M484.3,703.6h0M484.6,703.7h0M484.9,704.0h0M485.2,704.5h0M485.5,705.0h0M485.8,705.4h0M486.1,705.7h0M486.4,705.9h0M486.7,706.1h0M487.0,706.1h0M487.3,706.2h0M487.6,706.4h0M487.9,706.7h0M488.2,706.9h0M488.5,707.2h0M488.8,707.5h0M489.1,707.8h0M489.4,707.9h0M489.7,707.9h0M490.0,708.0h0M490.3,708.2h0M490.6,708.5h0M490.9,708.9h0M491.2,709.2h0M491.5,709.4h0M491.8,709.6h0M492.1,709.6h0M492.4,709.6h0M492.7,709.4h0M493.0,709.2h0M493.3,709.2h0M493.6,709.3h0M493.9,709.5h0M494.2,709.4h0M494.5,709.1h0M494.8,708.7h0M495.1,708.5h0M495.4,708.6h0M495.7,708.9h0M496.0,709.2h0M496.3,709.4h0M496.6,709.4h0M496.9,709.5h0M497.2,709.6h0M497.5,709.5h0M497.8,709.2h0M498.1,708.7h0M498.4,708.5h0M498.7,708.4h0M499.0,708.5h0M499.3,708.4h0M499.6,708.3h0M499.9,708.1h0M500.2,708.2h0M500.5,708.4h0M500.8,708.4h0M501.1,708.2h0M501.4,707.9h0M501.7,707.7h0M502.0,707.6h0M502.3,707.5h0M502.6,707.4h0M502.9,707.2h0M503.2,706.7h0M503.5,706.2h0M503.8,705.7h0M504.1,705.3h0M504.4,704.9h0M504.7,704.6h0M505.0,704.4h0M505.3,704.5h0M505.6,704.6h0M505.9,704.4h0M506.2,704.1h0M506.5,703.7h0M506.8,703.2h0M507.1,702.6h0M507.4,701.9h0M507.7,701.2h0M508.0,700.7h0M508.3,700.7h0M508.6,701.1h0M508.9,701.8h0M509.2,702.4h0M509.5,702.9h0M509.8,703.3h0M510.1,703.6h0M510.4,703.8h0M510.7,703.9h0M511.0,704.1h0M511.3,704.3h0M511.6,704.7h0M511.9,705.1h0M512.2,705.6h0M512.5,706.2h0M512.8,706.9h0M513.1,707.6h0M513.4,708.5h0M513.7,709.3h0M514.0,709.7h0M514.3,709.4h0M514.6,708.8h0M514.9,708.3h0M515.2,708.0h0M515.5,708.0h0M515.8,708.2h0M516.1,708.3h0M516.4,708.5h0M516.7,708.6h0M517.0,708.6h0M517.3,708.5h0M517.6,708.4h0M517.9,708.2h0M518.2,708.0h0M518.5,708.0h0M518.8,708.2h0M519.1,708.7h0M519.4,709.1h0M519.7,709.4h0M520.0,709.6h0M520.3,709.5h0M520.6,709.2h0M520.9,708.8h0M521.2,708.6h0M521.5,708.4h0M521.8,708.3h0M522.1,708.1h0M522.4,708.0h0M522.7,708.0h0M523.0,708.1h0M523.3,708.1h0M523.6,708.2h0M523.9,708.4h0M524.2,708.8h0M524.5,709.2h0M524.8,709.6h0M525.1,709.7h0M525.4,709.9h0M525.7,710.2h0M526.0,710.3h0M526.3,710.3h0M526.6,710.1h0M526.9,709.9h0M527.2,709.6h0M527.5,709.3h0M527.8,709.2h0M528.1,709.2h0M528.4,709.4h0M528.7,709.4h0M529.0,709.5h0M529.3,709.6h0M529.6,709.6h0M529.9,709.5h0M530.2,709.3h0M530.5,709.0h0M530.8,708.8h0M531.1,708.7h0M531.4,708.4h0M531.7,708.0h0M532.0,707.7h0M532.3,707.9h0M532.6,708.5h0M532.9,709.2h0M533.2,709.8h0M533.5,710.0h0M533.8,710.0h0M534.1,709.8h0M534.4,709.5h0M534.7,709.2h0M535.0,709.1h0M535.3,709.1h0M535.6,709.0h0M535.9,709.0h0M536.2,709.0h0M536.5,708.9h0M536.8,708.9h0M537.1,709.1h0M537.4,709.4h0M537.7,709.6h0M538.0,709.3h0M538.3,709.0h0M538.6,709.0h0M538.9,709.3h0M539.2,709.6h0M539.5,709.7h0M539.8,709.4h0M540.1,709.1h0M540.4,708.9h0M540.7,709.0h0M541.0,709.3h0M541.3,709.8h0M541.6,710.1h0M541.9,710.2h0M542.2,710.0h0M542.5,709.6h0M542.8,709.1h0M543.1,708.6h0M543.4,708.2h0M543.7,708.0h0M544.0,708.1h0M544.3,708.2h0M544.6,708.2h0M544.9,708.2h0M545.2,708.3h0M545.5,708.4h0M545.8,708.5h0M546.1,708.7h0M546.4,708.9h0M546.7,708.9h0M547.0,708.8h0M547.3,708.7h0M547.6,708.7h0M547.9,708.6h0M548.2,708.5h0M548.5,708.4h0M548.8,708.3h0M549.1,708.1h0M549.4,708.1h0M549.7,708.1h0M550.0,708.1h0M550.3,708.2h0M550.6,708.4h0M550.9,708.7h0M551.2,708.8h0M551.5,708.7h0M551.8,708.3h0M552.1,708.1h0M552.4,708.2h0M552.7,708.3h0M553.0,708.5h0M553.3,708.6h0M553.6,708.6h0M553.9,708.3h0M554.2,708.1h0M554.5,707.9h0M554.8,707.9h0M555.1,707.9h0M555.4,707.8h0M555.7,707.6h0M556.0,707.6h0M556.3,707.7h0M556.6,707.9h0M556.9,708.1h0M557.2,708.2h0M557.5,708.2h0M557.8,708.0h0M558.1,707.8h0M558.4,707.5h0M558.7,707.4h0M559.0,707.6h0M559.3,708.1h0M559.6,708.5h0M559.9,708.9h0M560.2,709.0h0M560.5,709.0h0M560.8,708.9h0M561.1,708.9h0M561.4,708.7h0M561.7,708.6h0M562.0,708.6h0M562.3,708.8h0M562.6,709.1h0M562.9,709.2h0M563.2,709.1h0M563.5,708.8h0M563.8,708.8h0M564.1,709.2h0M564.4,709.7h0M564.7,710.0h0M565.0,710.1h0M565.3,710.0h0M565.6,709.9h0M565.9,709.6h0M566.2,709.4h0M566.5,709.4h0M566.8,709.5h0M567.1,709.8h0M567.4,710.0h0M567.7,710.1h0M568.0,710.1h0M568.3,710.1h0M568.6,710.1h0M568.9,710.2h0M569.2,710.3h0M569.5,710.4h0M569.8,710.3h0M570.1,709.9h0M570.4,709.5h0M570.7,709.2h0M571.0,709.2h0M571.3,709.3h0M571.6,709.3h0M571.9,709.0h0M572.2,708.6h0M572.5,708.3h0M572.8,708.3h0M573.1,708.5h0M573.4,708.7h0M573.7,708.8h0M574.0,708.7h0M574.3,708.5h0M574.6,708.4h0M574.9,708.4h0M575.2,708.5h0M575.5,708.7h0M575.8,708.7h0M576.1,708.6h0M576.4,708.5h0M576.7,708.6h0M577.0,708.8h0M577.3,709.1h0M577.6,709.2h0M577.9,709.3h0M578.2,709.2h0M578.5,708.8h0M578.8,708.4h0M579.1,708.0h0M579.4,707.9h0M579.7,708.0h0M580.0,708.2h0M580.3,708.4h0M580.6,708.3h0M580.9,708.0h0M581.2,707.7h0M581.5,707.4h0M581.8,707.3h0M582.1,707.5h0M582.4,707.8h0M582.7,708.0h0M583.0,707.9h0M583.3,707.6h0M583.6,707.3h0M583.9,707.2h0M584.2,707.5h0M584.5,708.0h0M584.8,708.6h0M585.1,709.1h0M585.4,709.4h0M585.7,709.6h0M586.0,709.5h0M586.3,709.4h0M586.6,709.1h0M586.9,709.0h0M587.2,709.1h0M587.5,709.4h0M587.8,709.7h0M588.1,709.8h0M588.4,709.8h0M588.7,709.8h0M589.0,710.1h0M589.3,710.3h0M589.6,710.2h0M589.9,709.8h0M590.2,709.2h0M590.5,708.7h0M590.8,708.4h0M591.1,708.4h0M591.4,708.4h0M591.7,708.5h0M592.0,708.3h0M592.3,707.8h0M592.6,707.1h0M592.9,706.6h0M593.2,706.4h0M593.5,706.5h0M593.8,706.6h0M594.1,706.6h0M594.4,706.7h0M594.7,706.9h0M595.0,707.2h0M595.3,707.6h0M595.6,707.9h0M595.9,708.2h0M596.2,708.4h0M596.5,708.5h0M596.8,708.6h0M597.1,708.7h0M597.4,708.8h0M597.7,708.8h0M598.0,708.9h0M598.3,709.1h0M598.6,709.4h0M598.9,709.4h0M599.2,709.1h0M599.5,708.6h0M599.8,708.2h0M600.1,707.9h0M600.4,707.8h0M600.7,707.9h0M601.0,708.1h0M601.3,708.2h0M601.6,708.1h0M601.9,707.9h0M602.2,707.6h0M602.5,707.3h0M602.8,707.1h0M603.1,706.8h0M603.4,706.4h0M603.7,706.0h0M604.0,705.7h0M604.3,705.5h0M604.6,705.4h0M604.9,705.5h0M605.2,705.7h0M605.5,706.0h0M605.8,706.3h0M606.1,706.4h0M606.4,706.5h0M606.7,706.5h0M607.0,706.5h0M607.3,706.6h0M607.6,706.4h0M607.9,706.0h0M608.2,705.4h0M608.5,704.8h0M608.8,704.5h0M609.1,704.6h0M609.4,704.8h0M609.7,705.0h0M610.0,704.8h0M610.3,704.5h0M610.6,704.2h0M610.9,704.2h0M611.2,704.5h0M611.5,704.7h0M611.8,705.0h0M612.1,705.1h0M612.4,705.2h0M612.7,705.3h0M613.0,705.2h0M613.3,704.9h0M613.6,704.7h0M613.9,704.6h0M614.2,704.5h0M614.5,704.1h0M614.8,703.7h0M615.1,703.2h0M615.4,702.8h0M615.7,702.3h0M616.0,701.7h0M616.3,701.0h0M616.6,700.3h0M616.9,699.7h0M617.2,699.2h0M617.5,698.9h0M617.8,698.6h0M618.1,698.1h0M618.4,697.5h0M618.7,697.3h0M619.0,697.4h0M619.3,697.7h0M619.6,698.1h0M619.9,698.4h0M620.2,698.7h0M620.5,699.0h0M620.8,699.4h0M621.1,699.8h0M621.4,700.0h0M621.7,700.3h0M622.0,700.7h0M622.3,701.1h0M622.6,701.4h0M622.9,701.6h0M623.2,701.8h0M623.5,702.2h0M623.8,702.6h0M624.1,702.9h0M624.4,703.3h0M624.7,703.7h0M625.0,703.8h0M625.3,703.7h0M625.6,703.6h0M625.9,703.7h0M626.2,704.1h0M626.5,704.6h0M626.8,705.0h0M627.1,705.3h0M627.4,705.5h0M627.7,705.5h0M628.0,705.5h0M628.3,705.6h0M628.6,705.8h0M628.9,706.1h0M629.2,706.4h0M629.5,706.8h0M629.8,707.1h0M630.1,707.3h0M630.4,707.2h0M630.7,707.0h0M631.0,706.7h0M631.3,706.4h0M631.6,706.2h0M631.9,706.1h0M632.2,706.1h0M632.5,706.4h0M632.8,706.7h0M633.1,707.0h0M633.4,707.2h0M633.7,707.1h0M634.0,706.7h0M634.3,706.2h0M634.6,705.8h0M634.9,705.6h0M635.2,705.6h0M635.5,705.7h0M635.8,705.7h0M636.1,705.7h0M636.4,705.5h0M636.7,705.3h0M637.0,705.2h0M637.3,704.9h0M637.6,704.7h0M637.9,704.5h0M638.2,704.5h0M638.5,704.5h0M638.8,704.4h0M639.1,704.1h0M639.4,703.8h0M639.7,703.4h0M640.0,703.1h0M640.3,703.0h0M640.6,703.0h0M640.9,703.1h0M641.2,703.1h0M641.5,703.0h0M641.8,702.8h0M642.1,702.6h0M642.4,702.4h0M642.7,702.2h0M643.0,702.0h0M643.3,701.6h0M643.6,701.3h0M643.9,701.0h0M644.2,700.9h0M644.5,700.9h0M644.8,701.2h0M645.1,701.3h0M645.4,701.1h0M645.7,700.8h0M646.0,700.4h0M646.3,700.1h0M646.6,700.0h0M646.9,699.9h0M647.2,699.7h0M647.5,699.2h0M647.8,698.7h0M648.1,698.4h0M648.4,698.1h0M648.7,697.8h0M649.0,697.4h0M649.3,696.9h0M649.6,696.2h0M649.9,695.4h0M650.2,694.6h0M650.5,693.8h0M650.8,693.1h0M651.1,692.6h0M651.4,692.0h0M651.7,691.3h0M652.0,690.7h0M652.3,690.0h0M652.6,689.4h0M652.9,689.0h0M653.2,688.8h0M653.5,688.9h0M653.8,689.4h0M654.1,689.9h0M654.4,690.5h0M654.7,691.0h0M655.0,691.5h0M655.3,692.0h0M655.6,692.6h0M655.9,693.3h0M656.2,693.8h0M656.5,694.3h0M656.8,694.7h0M657.1,695.0h0M657.4,695.3h0M657.7,695.6h0M658.0,695.8h0M658.3,695.9h0M658.6,696.1h0M658.9,696.5h0M659.2,697.0h0M659.5,697.5h0M659.8,697.8h0M660.1,698.2h0M660.4,698.6h0M660.7,699.1h0M661.0,699.7h0M661.3,700.1h0M661.6,700.3h0M661.9,700.3h0M662.2,700.3h0M662.5,700.3h0M662.8,700.3h0M663.1,700.5h0M663.4,700.6h0M663.7,700.7h0M664.0,700.8h0M664.3,700.8h0M664.6,700.7h0M664.9,700.6h0M665.2,700.6h0M665.5,700.8h0M665.8,701.0h0M666.1,701.1h0M666.4,701.2h0M666.7,701.1h0M667.0,701.1h0M667.3,701.2h0M667.6,701.4h0M667.9,701.5h0M668.2,701.5h0M668.5,701.3h0M668.8,700.9h0M669.1,700.4h0M669.4,700.0h0M669.7,699.7h0M670.0,699.5h0M670.3,699.5h0M670.6,699.7h0M670.9,699.9h0M671.2,700.0h0M671.5,700.0h0M671.8,700.1h0M672.1,700.4h0M672.4,700.8h0M672.7,701.0h0M673.0,701.1h0M673.3,701.0h0M673.6,700.8h0M673.9,700.6h0M674.2,700.6h0M674.5,700.6h0M674.8,700.8h0M675.1,700.9h0M675.4,701.0h0M675.7,701.0h0M676.0,700.9h0M676.3,701.0h0M676.6,701.2h0M676.9,701.2h0M677.2,700.9h0M677.5,700.6h0M677.8,700.4h0M678.1,700.3h0M678.4,700.3h0M678.7,700.7h0M679.0,701.1h0M679.3,701.5h0M679.6,701.5h0M679.9,701.2h0M680.2,700.9h0M680.5,700.6h0M680.8,700.4h0M681.1,700.2h0M681.4,699.8h0M681.7,699.3h0M682.0,698.8h0M682.3,698.4h0M682.6,698.1h0M682.9,698.0h0M683.2,698.0h0M683.5,698.3h0M683.8,698.5h0M684.1,698.5h0M684.4,698.1h0M684.7,697.6h0M685.0,697.2h0M685.3,696.9h0M685.6,696.5h0M685.9,696.2h0M686.2,695.7h0M686.5,695.0h0M686.8,694.3h0M687.1,693.7h0M687.4,693.3h0M687.7,692.8h0M688.0,692.4h0M688.3,692.1h0M688.6,691.8h0M688.9,691.6h0M689.2,691.6h0M689.5,691.8h0M689.8,692.1h0M690.1,692.3h0M690.4,692.5h0M690.7,692.5h0M691.0,692.5h0M691.3,692.7h0M691.6,693.0h0M691.9,693.6h0M692.2,694.3h0M692.5,695.1h0M692.8,695.6h0M693.1,696.0h0M693.4,696.3h0M693.7,696.6h0M694.0,697.0h0M694.3,697.5h0M694.6,697.8h0M694.9,698.2h0M695.2,698.4h0M695.5,698.8h0M695.8,699.1h0M696.1,699.5h0M696.4,699.9h0M696.7,700.3h0M697.0,700.4h0M697.3,700.5h0M697.6,700.5h0M697.9,700.8h0M698.2,701.2h0M698.5,701.7h0M698.8,701.9h0M699.1,701.9h0M699.4,702.1h0M699.7,702.4h0M700.0,702.9h0M700.3,703.2h0M700.6,703.4h0M700.9,703.5h0M701.2,703.5h0M701.5,703.4h0M701.8,703.2h0M702.1,702.9h0M702.4,702.6h0M702.7,702.5h0M703.0,702.7h0M703.3,703.1h0M703.6,703.6h0M703.9,703.9h0M704.2,703.8h0M704.5,703.6h0M704.8,703.3h0M705.1,703.1h0M705.4,702.9h0M705.7,702.6h0M706.0,702.3h0M706.3,702.3h0M706.6,702.4h0M706.9,702.5h0M707.2,702.5h0M707.5,702.5h0M707.8,702.6h0M708.1,702.7h0M708.4,702.9h0M708.7,703.2h0M709.0,703.3h0M709.3,703.3h0M709.6,703.3h0M709.9,703.4h0M710.2,703.6h0M710.5,703.8h0M710.8,704.0h0M711.1,704.2h0M711.4,704.1h0M711.7,703.7h0M712.0,703.3h0M712.3,702.9h0M712.6,702.5h0M712.9,702.2h0M713.2,701.8h0M713.5,701.5h0M713.8,701.4h0M714.1,701.5h0M714.4,701.4h0M714.7,701.2h0M715.0,701.0h0M715.3,700.8h0M715.6,700.6h0M715.9,700.3h0M716.2,699.9h0M716.5,699.5h0M716.8,699.3h0M717.1,699.4h0M717.4,699.5h0M717.7,699.5h0M718.0,699.2h0M718.3,698.8h0M718.6,698.2h0M718.9,697.8h0M719.2,697.6h0M719.5,697.6h0M719.8,697.5h0M720.1,697.4h0M720.4,697.4h0M720.7,697.5h0M721.0,697.6h0M721.3,697.5h0M721.6,697.2h0M721.9,696.7h0M722.2,696.2h0M722.5,695.9h0M722.8,695.6h0M723.1,695.3h0M723.4,694.9h0M723.7,694.4h0M724.0,693.9h0M724.3,693.3h0M724.6,692.5h0M724.9,691.7h0M725.2,690.9h0M725.5,690.0h0M725.8,689.0h0M726.1,688.1h0M726.4,687.0h0M726.7,686.0h0M727.0,684.9h0M727.3,684.0h0M727.6,683.1h0M727.9,682.2h0M728.2,681.1h0M728.5,680.0h0M728.8,678.9h0M729.1,677.8h0M729.4,676.8h0M729.7,675.9h0M730.0,675.1h0M730.3,674.5h0M730.6,673.9h0M730.9,673.5h0M731.2,673.7h0M731.5,674.3h0M731.8,674.9h0M732.1,675.5h0M732.4,676.3h0M732.7,677.2h0M733.0,678.2h0M733.3,679.2h0M733.6,680.2h0M733.9,681.2h0M734.2,682.0h0M734.5,682.8h0M734.8,683.5h0M735.1,684.3h0M735.4,685.2h0M735.7,686.1h0M736.0,687.2h0M736.3,688.2h0M736.6,689.2h0M736.9,690.0h0M737.2,690.9h0M737.5,691.7h0M737.8,692.6h0M738.1,693.4h0M738.4,694.1h0M738.7,694.6h0M739.0,695.0h0M739.3,695.5h0M739.6,696.0h0M739.9,696.4h0M740.2,696.7h0M740.5,697.0h0M740.8,697.3h0M741.1,697.6h0M741.4,697.9h0M741.7,698.1h0M742.0,698.4h0M742.3,698.5h0M742.6,698.6h0M742.9,698.6h0M743.2,698.5h0M743.5,698.5h0M743.8,698.8h0M744.1,699.2h0M744.4,699.5h0M744.7,699.9h0M745.0,700.1h0M745.3,699.9h0M745.6,699.4h0M745.9,698.8h0M746.2,698.6h0M746.5,698.8h0M746.8,699.2h0M747.1,699.7h0M747.4,700.0h0M747.7,700.2h0M748.0,700.3h0M748.3,700.4h0M748.6,700.4h0M748.9,700.4h0M749.2,700.5h0M749.5,700.6h0M749.8,700.9h0M750.1,701.0h0M750.4,700.9h0M750.7,700.6h0M751.0,700.3h0M751.3,700.2h0M751.6,700.4h0M751.9,700.8h0M752.2,701.1h0M752.5,701.2h0M752.8,701.1h0M753.1,701.1h0M753.4,701.2h0M753.7,701.4h0M754.0,701.6h0M754.3,701.9h0M754.6,702.2h0M754.9,702.4h0M755.2,702.4h0M755.5,702.4h0M755.8,702.6h0M756.1,702.7h0M756.4,702.7h0M756.7,702.5h0M757.0,702.3h0M757.3,702.3h0M757.6,702.4h0M757.9,702.6h0M758.2,702.6h0M758.5,702.5h0M758.8,702.5h0M759.1,702.5h0M759.4,702.5h0M759.7,702.5h0M760.0,702.4h0M760.3,702.4h0M760.6,702.5h0M760.9,702.7h0M761.2,703.0h0M761.5,703.2h0M761.8,703.4h0M762.1,703.4h0M762.4,703.2h0M762.7,702.9h0M763.0,702.5h0M763.3,702.3h0M763.6,702.6h0M763.9,703.1h0M764.2,703.6h0M764.5,703.9h0M764.8,704.1h0M765.1,704.0h0M765.4,704.0h0M765.7,704.2h0M766.0,704.5h0M766.3,704.7h0M766.6,704.3h0M766.9,703.7h0M767.2,703.4h0M767.5,703.5h0M767.8,703.9h0M768.1,704.1h0M768.4,704.0h0M768.7,703.9h0M769.0,703.9h0M769.3,704.0h0M769.6,704.2h0M769.9,704.3h0M770.2,704.4h0M770.5,704.5h0M770.8,704.3h0M771.1,703.9h0M771.4,703.4h0M771.7,703.1h0M772.0,703.0h0M772.3,703.3h0M772.6,703.8h0M772.9,704.1h0M773.2,704.0h0M773.5,703.6h0M773.8,703.2h0M774.1,703.0h0M774.4,703.0h0M774.7,703.0h0M775.0,703.0h0M775.3,702.9h0M775.6,702.7h0M775.9,702.4h0M776.2,702.1h0M776.5,702.0h0M776.8,702.4h0M777.1,703.1h0M777.4,703.7h0M777.7,703.9h0M778.0,703.7h0M778.3,703.3h0M778.6,702.8h0M778.9,702.4h0M779.2,702.1h0M779.5,701.9h0M779.8,701.6h0M780.1,701.3h0M780.4,701.3h0M780.7,701.3h0M781.0,701.6h0M781.3,701.9h0M781.6,702.2h0M781.9,702.3h0M782.2,702.1h0M782.5,701.9h0M782.8,701.8h0M783.1,702.0h0M783.4,702.3h0M783.7,702.4h0M784.0,702.4h0M784.3,702.2h0M784.6,702.1h0M784.9,702.1h0M785.2,702.2h0M785.5,702.4h0M785.8,702.6h0M786.1,702.9h0M786.4,703.0h0M786.7,702.8h0M787.0,702.4h0M787.3,702.0h0M787.6,701.8h0M787.9,701.8h0M788.2,701.7h0M788.5,701.6h0M788.8,701.5h0M789.1,701.5h0M789.4,701.6h0M789.7,701.8h0M790.0,701.9h0M790.3,701.9h0M790.6,701.6h0M790.9,701.3h0M791.2,701.3h0M791.5,701.6h0M791.8,701.9h0M792.1,702.2h0M792.4,702.3h0M792.7,702.1h0M793.0,701.7h0M793.3,701.4h0M793.6,701.3h0M793.9,701.3h0M794.2,701.5h0M794.5,701.7h0M794.8,702.0h0M795.1,702.0h0M795.4,701.8h0M795.7,701.5h0M796.0,701.0h0M796.3,700.7h0M796.6,700.7h0M796.9,700.8h0M797.2,701.1h0M797.5,701.5h0M797.8,701.8h0M798.1,702.0h0M798.4,702.1h0M798.7,702.2h0M799.0,702.3h0M799.3,702.3h0M799.6,702.0h0M799.9,701.7h0M800.2,701.5h0M800.5,701.3h0M800.8,701.0h0M801.1,700.5h0M801.4,700.1h0M801.7,700.0h0M802.0,700.1h0M802.3,700.2h0M802.6,700.3h0M802.9,700.5h0M803.2,700.9h0M803.5,701.3h0M803.8,701.5h0M804.1,701.4h0M804.4,701.2h0M804.7,700.9h0M805.0,700.6h0M805.3,700.2h0M805.6,700.0h0M805.9,700.1h0M806.2,700.6h0M806.5,701.1h0M806.8,701.5h0M807.1,701.6h0M807.4,701.5h0M807.7,701.5h0M808.0,701.8h0M808.3,702.3h0M808.6,702.8h0M808.9,703.0h0M809.2,702.9h0M809.5,702.4h0M809.8,701.9h0M810.1,701.6h0M810.4,701.6h0M810.7,701.6h0M811.0,701.5h0M811.3,701.2h0M811.6,700.8h0M811.9,700.7h0M812.2,701.0h0M812.5,701.3h0M812.8,701.4h0M813.1,701.3h0M813.4,701.2h0M813.7,701.1h0M814.0,701.2h0M814.3,701.3h0M814.6,701.4h0M814.9,701.4h0M815.2,701.2h0M815.5,701.0h0M815.8,701.0h0M816.1,701.1h0M816.4,701.0h0M816.7,700.9h0M817.0,700.9h0M817.3,701.0h0M817.6,701.1h0M817.9,701.1h0M818.2,700.9h0M818.5,701.0h0M818.8,701.4h0M819.1,701.9h0M819.4,702.3h0M819.7,702.4h0M820.0,702.1h0M820.3,702.0h0M820.6,702.0h0M820.9,702.0h0M821.2,702.0h0M821.5,701.9h0M821.8,701.8h0M822.1,702.0h0M822.4,702.2h0M822.7,702.4h0M823.0,702.5h0M823.3,702.5h0M823.6,702.4h0M823.9,702.4h0M824.2,702.3h0M824.5,702.2h0M824.8,702.0h0M825.1,701.8h0M825.4,701.6h0M825.7,701.5h0M826.0,701.8h0M826.3,702.1h0M826.6,702.2h0M826.9,702.1h0M827.2,702.1h0M827.5,702.2h0M827.8,702.4h0M828.1,702.3h0M828.4,701.9h0M828.7,701.6h0M829.0,701.5h0M829.3,701.7h0M829.6,701.8h0M829.9,701.6h0M830.2,701.3h0M830.5,701.3h0M830.8,701.5h0M831.1,701.9h0M831.4,702.3h0M831.7,702.6h0M832.0,702.7h0M832.3,702.6h0M832.6,702.3h0M832.9,702.1h0M833.2,702.1h0M833.5,702.2h0M833.8,702.2h0M834.1,701.9h0M834.4,701.3h0M834.7,700.9h0M835.0,700.7h0M835.3,700.8h0M835.6,701.1h0M835.9,701.6h0M836.2,702.0h0M836.5,702.4h0M836.8,702.8h0M837.1,703.0h0M837.4,702.9h0M837.7,702.5h0M838.0,702.1h0M838.3,701.9h0M838.6,701.8h0M838.9,701.6h0M839.2,701.3h0M839.5,701.1h0M839.8,701.2h0M840.1,701.6h0M840.4,702.1h0M840.7,702.3h0M841.0,702.4h0M841.3,702.5h0M841.6,702.7h0M841.9,703.0h0M842.2,703.1h0M842.5,703.0h0M842.8,702.8h0M843.1,702.8h0M843.4,702.9h0M843.7,702.8h0M844.0,702.7h0M844.3,702.6h0M844.6,702.6h0M844.9,702.7h0M845.2,702.6h0M845.5,702.1h0M845.8,701.6h0M846.1,701.3h0M846.4,701.2h0M846.7,701.3h0M847.0,701.3h0M847.3,701.4h0M847.6,701.5h0M847.9,701.9h0M848.2,702.4h0M848.5,702.8h0M848.8,703.1h0M849.1,703.0h0M849.4,702.7h0M849.7,702.1h0M850.0,701.5h0M850.3,701.1h0M850.6,700.8h0M850.9,700.8h0M851.2,700.8h0M851.5,700.9h0M851.8,700.8h0M852.1,700.6h0M852.4,700.5h0M852.7,700.6h0M853.0,700.7h0M853.3,701.1h0M853.6,701.6h0M853.9,702.1h0M854.2,702.2h0M854.5,701.8h0M854.8,701.1h0M855.1,700.4h0M855.4,699.9h0M855.7,699.7h0M856.0,699.9h0M856.3,700.3h0M856.6,700.7h0M856.9,701.0h0M857.2,701.4h0M857.5,701.8h0M857.8,701.9h0M858.1,701.8h0M858.4,701.5h0M858.7,701.3h0M859.0,701.3h0M859.3,701.3h0M859.6,701.1h0M859.9,700.8h0M860.2,700.5h0M860.5,700.6h0M860.8,700.8h0M861.1,701.0h0M861.4,701.0h0M861.7,700.8h0M862.0,700.5h0M862.3,700.2h0M862.6,699.8h0M862.9,699.6h0M863.2,699.7h0M863.5,700.0h0M863.8,700.3h0M864.1,700.5h0M864.4,700.8h0M864.7,701.0h0M865.0,701.1h0M865.3,700.9h0M865.6,700.7h0M865.9,700.4h0M866.2,700.1h0M866.5,699.9h0M866.8,699.8h0M867.1,699.9h0M867.4,700.1h0M867.7,700.0h0M868.0,699.8h0M868.3,699.5h0M868.6,699.6h0M868.9,699.9h0M869.2,700.1h0M869.5,700.1h0M869.8,700.0h0M870.1,699.9h0M870.4,699.9h0M870.7,700.0h0M871.0,700.1h0M871.3,699.9h0M871.6,699.7h0M871.9,699.7h0M872.2,699.7h0M872.5,699.7h0M872.8,699.5h0M873.1,699.1h0M873.4,698.7h0M873.7,698.4h0M874.0,698.1h0M874.3,697.8h0M874.6,697.6h0M874.9,697.4h0M875.2,697.2h0M875.5,697.0h0M875.8,696.8h0M876.1,696.6h0M876.4,696.5h0M876.7,696.1h0M877.0,695.6h0M877.3,695.1h0M877.6,694.9h0M877.9,695.0h0M878.2,695.2h0M878.5,695.3h0M878.8,695.3h0M879.1,695.3h0M879.4,695.3h0M879.7,695.3h0M880.0,695.4h0M880.3,695.6h0M880.6,695.8h0M880.9,695.9h0M881.2,695.8h0M881.5,695.5h0M881.8,695.2h0M882.1,695.1h0M882.4,695.1h0M882.7,695.1h0M883.0,695.2h0M883.3,695.5h0M883.6,695.8h0M883.9,696.0h0M884.2,696.2h0M884.5,696.3h0M884.8,696.5h0M885.1,696.6h0M885.4,696.8h0M885.7,697.1h0M886.0,697.2h0M886.3,697.3h0M886.6,697.3h0M886.9,697.5h0M887.2,697.9h0M887.5,698.2h0M887.8,698.3h0M888.1,698.6h0M888.4,699.0h0M888.7,699.4h0M889.0,699.5h0M889.3,699.4h0M889.6,699.0h0M889.9,698.5h0M890.2,698.1h0M890.5,697.8h0M890.8,697.7h0M891.1,697.5h0M891.4,697.3h0M891.7,697.1h0M892.0,697.0h0M892.3,696.9h0M892.6,696.8h0M892.9,696.6h0M893.2,696.3h0M893.5,695.9h0M893.8,695.7h0M894.1,695.7h0M894.4,695.8h0M894.7,695.8h0M895.0,695.6h0M895.3,695.2h0M895.6,694.9h0M895.9,694.8h0M896.2,694.7h0M896.5,694.6h0M896.8,694.7h0M897.1,694.8h0M897.4,694.9h0M897.7,694.9h0M898.0,694.8h0M898.3,694.7h0M898.6,694.6h0M898.9,694.7h0M899.2,694.8h0M899.5,694.9h0M899.8,694.8h0M900.1,694.6h0M900.4,694.6h0M900.7,694.9h0M901.0,695.2h0M901.3,695.2h0M901.6,695.0h0M901.9,694.8h0M902.2,694.8h0M902.5,695.1h0M902.8,695.5h0M903.1,696.0h0M903.4,696.6h0M903.7,697.2h0M904.0,697.6h0M904.3,697.6h0M904.6,697.3h0M904.9,697.1h0M905.2,697.0h0M905.5,697.0h0M905.8,696.8h0M906.1,696.5h0M906.4,696.2h0M906.7,696.0h0M907.0,696.1h0M907.3,696.4h0M907.6,696.9h0M907.9,697.4h0M908.2,697.7h0M908.5,697.9h0M908.8,697.8h0M909.1,697.7h0M909.4,697.8h0M909.7,698.2h0M910.0,698.7h0M910.3,698.8h0M910.6,698.6h0M910.9,698.1h0M911.2,697.7h0M911.5,697.4h0M911.8,697.3h0M912.1,697.4h0M912.4,697.5h0M912.7,697.6h0M913.0,697.4h0M913.3,697.3h0M913.6,697.3h0M913.9,697.6h0M914.2,698.1h0M914.5,698.3h0M914.8,698.4h0M915.1,698.2h0M915.4,698.2h0M915.7,698.1h0M916.0,698.1h0M916.3,698.1h0M916.6,698.4h0M916.9,699.1h0M917.2,699.7h0M917.5,700.1h0M917.8,700.1h0M918.1,700.1h0M918.4,700.0h0M918.7,699.8h0M919.0,699.7h0M919.3,699.6h0M919.6,699.4h0M919.9,699.2h0M920.2,698.9h0M920.5,698.5h0M920.8,698.2h0M921.1,698.0h0M921.4,698.0h0M921.7,698.3h0M922.0,698.5h0M922.3,698.4h0M922.6,698.2h0M922.9,698.0h0M923.2,697.9h0M923.5,697.9h0M923.8,697.9h0M924.1,698.0h0M924.4,697.9h0M924.7,697.7h0M925.0,697.2h0M925.3,696.8h0M925.6,696.6h0M925.9,696.7h0M926.2,696.7h0M926.5,696.8h0M926.8,696.8h0M927.1,696.8h0M927.4,696.8h0M927.7,696.8h0M928.0,696.8h0M928.3,696.7h0M928.6,696.4h0M928.9,696.1h0M929.2,695.9h0M929.5,696.0h0M929.8,696.1h0M930.1,696.0h0M930.4,695.7h0M930.7,695.5h0M931.0,695.3h0M931.3,695.3h0M931.6,695.4h0M931.9,695.5h0M932.2,695.5h0M932.5,695.5h0M932.8,695.5h0M933.1,695.7h0M933.4,695.9h0M933.7,696.1h0M934.0,696.3h0M934.3,696.4h0M934.6,696.3h0M934.9,696.1h0M935.2,695.8h0M935.5,695.5h0M935.8,695.3h0M936.1,695.3h0M936.4,695.3h0M936.7,695.2h0M937.0,695.1h0M937.3,695.0h0M937.6,694.9h0M937.9,694.7h0M938.2,694.4h0M938.5,694.1h0M938.8,693.8h0M939.1,693.5h0M939.4,693.2h0M939.7,693.2h0M940.0,693.4h0M940.3,693.6h0M940.6,693.6h0M940.9,693.5h0M941.2,693.3h0M941.5,693.2h0M941.8,693.2h0M942.1,693.2h0M942.4,693.2h0M942.7,693.0h0M943.0,692.7h0M943.3,692.5h0M943.6,692.3h0M943.9,692.1h0M944.2,691.9h0M944.5,691.6h0M944.8,691.4h0M945.1,691.4h0M945.4,691.7h0M945.7,692.1h0M946.0,692.2h0M946.3,691.9h0M946.6,691.5h0M946.9,691.1h0M947.2,690.8h0M947.5,690.7h0M947.8,690.6h0M948.1,690.7h0M948.4,690.8h0M948.7,691.2h0M949.0,691.8h0M949.3,692.3h0M949.6,692.6h0M949.9,692.8h0M950.2,692.9h0M950.5,693.1h0M950.8,693.3h0M951.1,693.4h0M951.4,693.4h0M951.7,693.4h0M952.0,693.3h0M952.3,693.2h0M952.6,693.1h0M952.9,693.1h0M953.2,692.9h0M953.5,692.6h0M953.8,692.4h0M954.1,692.6h0M954.4,693.0h0M954.7,693.6h0M955.0,694.0h0M955.3,694.1h0M955.6,693.9h0M955.9,693.7h0M956.2,693.7h0M956.5,693.7h0M956.8,693.4h0M957.1,693.1h0M957.4,692.7h0M957.7,692.7h0M958.0,692.9h0M958.3,693.3h0M958.6,693.8h0M958.9,694.0h0M959.2,693.8h0M959.5,693.5h0M959.8,693.3h0M960.1,693.1h0M960.4,693.0h0M960.7,692.9h0M961.0,693.0h0M961.3,693.1h0M961.6,693.2h0M961.9,693.2h0M962.2,693.0h0M962.5,692.9h0M962.8,692.7h0M963.1,692.6h0M963.4,692.5h0M963.7,692.5h0M964.0,692.5h0M964.3,692.6h0M964.6,692.7h0M964.9,692.9h0M965.2,693.1h0M965.5,693.4h0M965.8,693.7h0M966.1,694.1h0M966.4,694.6h0M966.7,694.9h0M967.0,694.9h0M967.3,694.8h0M967.6,694.7h0M967.9,694.7h0M968.2,694.6h0M968.5,694.2h0M968.8,693.7h0M969.1,693.4h0M969.4,693.4h0M969.7,693.7h0M970.0,693.8h0M970.3,693.7h0M970.6,693.3h0M970.9,693.1h0M971.2,693.2h0M971.5,693.6h0M971.8,694.0h0M972.1,694.2h0M972.4,694.1h0M972.7,693.7h0M973.0,693.3h0M973.3,693.2h0M973.6,693.3h0M973.9,693.3h0M974.2,693.2h0M974.5,693.0h0M974.8,693.1h0M975.1,693.4h0M975.4,693.6h0M975.7,693.8h0M976.0,693.9h0M976.3,693.9h0M976.6,693.9h0M976.9,693.9h0M977.2,694.0h0M977.5,694.1h0M977.8,694.3h0M978.1,694.3h0M978.4,694.2h0M978.7,694.0h0M979.0,693.8h0M979.3,693.6h0M979.6,693.6h0M979.9,693.8h0M980.2,694.1h0M980.5,694.5h0M980.8,694.8h0M981.1,694.9h0M981.4,695.0h0M981.7,694.9h0M982.0,694.8h0M982.3,695.0h0M982.6,695.1h0M982.9,695.1h0M983.2,695.1h0M983.5,695.1h0M983.8,695.4h0M984.1,695.5h0M984.4,695.6h0M984.7,695.5h0M985.0,695.4h0M985.3,695.4h0M985.6,695.4h0M985.9,695.4h0M986.2,695.2h0M986.5,694.7h0M986.8,694.1h0M987.1,693.5h0M987.4,693.2h0M987.7,693.3h0M988.0,693.4h0M988.3,693.5h0M988.6,693.4h0M988.9,693.1h0M989.2,692.5h0M989.5,691.8h0M989.8,691.2h0M990.1,690.9h0M990.4,691.0h0M990.7,691.3h0M991.0,691.6h0M991.3,691.9h0M991.6,692.0h0M991.9,692.0h0M992.2,691.8h0M992.5,691.5h0" stroke="#000" stroke-width="3.6" stroke-linecap="round" fill="none"/>
<path d="M247.0,238.0L247.6,237.4M247.6,237.4L248.2,236.9M248.2,236.9L248.7,236.4M248.7,236.4L249.3,236.0M249.3,236.0L249.9,235.7M249.9,235.7L250.5,235.4M250.5,235.4L251.1,235.2M251.1,235.2L251.6,235.1M251.6,235.1L252.2,235.0M252.2,235.0L252.8,235.0M252.8,235.0L253.4,234.9M253.4,234.9L254.0,234.8M254.0,234.8L254.5,234.6M254.5,234.6L255.1,234.4M255.1,234.4L255.7,233.6M255.7,233.6L256.3,232.4M256.3,232.4L256.9,230.8M256.9,230.8L257.4,229.0M257.4,229.0L258.0,227.0M258.0,227.0L258.6,225.1M258.6,225.1L259.2,222.6M259.2,222.6L259.8,219.7M259.8,219.7L260.3,216.6M260.3,216.6L260.9,213.7M260.9,213.7L261.5,211.2M261.5,211.2L262.1,209.5M262.1,209.5L262.7,208.1M262.7,208.1L263.2,206.7M263.2,206.7L263.8,205.5M263.8,205.5L264.4,204.6M264.4,204.6L265.0,204.0M265.0,204.0L265.6,203.9M265.6,203.9L266.1,203.9M266.1,203.9L266.7,203.9M266.7,203.9L267.3,203.9M267.3,203.9L267.9,203.9M267.9,203.9L268.5,203.9M268.5,203.9L269.0,203.9M269.0,203.9L269.6,204.8M269.6,204.8L270.2,206.6M270.2,206.6L270.8,208.8M270.8,208.8L271.4,211.0M271.4,211.0L271.9,212.7M271.9,212.7L272.5,213.6M272.5,213.6L273.1,214.1M273.1,214.1L273.7,214.5M273.7,214.5L274.3,214.8M274.3,214.8L274.8,215.1M274.8,215.1L275.4,215.3M275.4,215.3L276.0,215.3M276.0,215.3L276.6,214.2M276.6,214.2L277.2,211.9M277.2,211.9L277.7,209.0M277.7,209.0L278.3,205.8M283.0,166.0L283.5,163.2M283.5,163.2L284.1,160.6M284.1,160.6L284.7,158.7M284.7,158.7L285.3,157.6M285.3,157.6L285.9,157.8M285.9,157.8L286.4,159.1M286.4,159.1L287.0,161.3M287.0,161.3L287.6,163.9M287.6,163.9L288.2,166.7M292.2,196.8L292.8,200.2M292.8,200.2L293.4,203.0M293.4,203.0L294.0,205.6M294.0,205.6L294.6,208.2M294.6,208.2L295.1,210.4M295.1,210.4L295.7,211.6M295.7,211.6L296.3,211.7M296.3,211.7L296.9,210.8M296.9,210.8L297.5,209.3M297.5,209.3L298.0,207.7M298.0,207.7L298.6,206.1M298.6,206.1L299.2,205.1M299.2,205.1L299.8,204.7M299.8,204.7L300.4,204.4M300.4,204.4L300.9,204.2M300.9,204.2L301.5,204.1M301.5,204.1L302.1,204.0M302.1,204.0L302.7,203.9M302.7,203.9L303.3,203.9M303.3,203.9L303.8,204.1M303.8,204.1L304.4,204.4M304.4,204.4L305.0,204.8M305.0,204.8L305.6,205.3M305.6,205.3L306.2,205.9M306.2,205.9L306.7,206.6M306.7,206.6L307.3,207.3M307.3,207.3L307.9,208.2M307.9,208.2L308.5,209.6M308.5,209.6L309.1,211.3M309.1,211.3L309.6,213.2M309.6,213.2L310.2,215.1M310.2,215.1L310.8,216.7M310.8,216.7L311.4,218.3M311.4,218.3L312.0,220.1M312.0,220.1L312.5,221.9M312.5,221.9L313.1,223.7M313.1,223.7L313.7,225.3M313.7,225.3L314.3,226.5M314.3,226.5L314.9,227.3M314.9,227.3L315.4,227.5M315.4,227.5L316.0,227.4M316.0,227.4L316.6,227.1M316.6,227.1L317.2,226.7M317.2,226.7L317.8,226.2M317.8,226.2L318.3,225.6M318.3,225.6L318.9,224.9M318.9,224.9L319.5,224.1M319.5,224.1L320.1,223.2M320.1,223.2L320.7,221.7M320.7,221.7L321.2,219.8M321.2,219.8L321.8,217.5M321.8,217.5L322.4,214.8M328.8,158.2L329.4,155.6M329.4,155.6L329.9,153.6M329.9,153.6L330.5,151.8M330.5,151.8L331.1,150.4M331.1,150.4L331.7,149.7M331.7,149.7L332.3,149.8M332.3,149.8L332.8,151.0M332.8,151.0L333.4,152.9M333.4,152.9L334.0,155.3M334.0,155.3L334.6,157.9M340.4,203.1L341.0,206.5M341.0,206.5L341.5,209.6M341.5,209.6L342.1,212.3M342.1,212.3L342.7,214.6M342.7,214.6L343.3,216.6M343.3,216.6L343.9,218.4M343.9,218.4L344.4,220.1M344.4,220.1L345.0,221.7M345.0,221.7L345.6,223.2M345.6,223.2L346.2,224.8M346.2,224.8L346.8,226.4M346.8,226.4L347.3,228.0M347.3,228.0L347.9,229.6M347.9,229.6L348.5,231.1M348.5,231.1L349.1,232.4M349.1,232.4L349.7,233.6M349.7,233.6L350.2,234.4M350.2,234.4L350.8,235.1M350.8,235.1L351.4,235.7M351.4,235.7L352.0,236.3M352.0,236.3L352.6,236.8M352.6,236.8L353.1,237.3M353.1,237.3L353.7,237.7M353.7,237.7L354.3,238.0M354.3,238.0L354.9,238.3M354.9,238.3L355.5,238.4M355.5,238.4L356.0,238.5M356.0,238.5L356.6,238.5M356.6,238.5L357.2,238.6M357.2,238.6L357.8,238.7M357.8,238.7L358.4,238.7M358.4,238.7L358.9,238.8M358.9,238.8L359.5,238.8M359.5,238.8L360.1,238.8M360.1,238.8L360.7,238.9M360.7,238.9L361.3,238.9M361.3,238.9L361.8,238.9M361.8,238.9L362.4,238.9M362.4,238.9L363.0,238.9M363.0,238.9L363.6,238.8M363.6,238.8L364.2,238.7M364.2,238.7L364.7,238.6M364.7,238.6L365.3,238.4M365.3,238.4L365.9,238.2M365.9,238.2L366.5,237.9M366.5,237.9L367.1,237.6M367.1,237.6L367.6,237.4M367.6,237.4L368.2,237.0M368.2,237.0L368.8,236.7M368.8,236.7L369.4,236.4M369.4,236.4L370.0,236.0M370.0,236.0L370.5,235.5M370.5,235.5L371.1,235.0M371.1,235.0L371.7,234.3M371.7,234.3L372.3,233.6M372.3,233.6L372.9,232.8M372.9,232.8L373.4,231.9M373.4,231.9L374.0,230.8M374.0,230.8L374.6,229.7M374.6,229.7L375.2,228.4M375.2,228.4L375.8,226.5M375.8,226.5L376.3,224.2M376.3,224.2L376.9,221.5M376.9,221.5L377.5,218.5M377.5,218.5L378.1,215.4M378.1,215.4L378.7,212.3M378.7,212.3L379.2,209.3M381.6,193.9L382.1,190.8M382.1,190.8L382.7,188.6M382.7,188.6L383.3,186.9M383.3,186.9L383.9,185.4M383.9,185.4L384.5,184.1M384.5,184.1L385.0,183.2M385.0,183.2L385.6,182.9M385.6,182.9L386.2,183.3M386.2,183.3L386.8,184.4M386.8,184.4L387.4,185.9M387.4,185.9L387.9,187.8M387.9,187.8L388.5,189.8M388.5,189.8L389.1,192.0M389.1,192.0L389.7,195.3M392.0,211.8L392.6,215.0M392.6,215.0L393.2,218.0M393.2,218.0L393.7,220.9M393.7,220.9L394.3,223.6M394.3,223.6L394.9,226.1M394.9,226.1L395.5,228.3M395.5,228.3L396.1,230.1M396.1,230.1L396.6,231.7M396.6,231.7L397.2,233.2M397.2,233.2L397.8,234.6M397.8,234.6L398.4,235.9M398.4,235.9L399.0,237.1M399.0,237.1L399.5,238.1M399.5,238.1L400.1,238.9M400.1,238.9L400.7,239.7M400.7,239.7L401.3,240.3M401.3,240.3L401.9,240.9M401.9,240.9L402.4,241.5M402.4,241.5L403.0,242.0M403.0,242.0L403.6,242.5M403.6,242.5L404.2,243.0M404.2,243.0L404.8,243.5M404.8,243.5L405.3,244.0M405.3,244.0L405.9,244.6M405.9,244.6L406.5,245.2M406.5,245.2L407.1,245.8M407.1,245.8L407.7,246.4" stroke="#000" stroke-width="3.5" fill="none" stroke-linecap="round"/>
<path d="M276.6,205.8h3.5M277.2,201.6h3.5M277.7,196.5h3.5M278.3,191.1h3.5M278.9,185.9h3.5M279.5,180.2h3.5M280.1,174.5h3.5M280.6,169.6h3.5M281.2,166.0h3.5M286.4,166.7h3.5M287.0,170.4h3.5M287.6,175.1h3.5M288.2,180.3h3.5M288.8,185.1h3.5M289.3,189.2h3.5M289.9,193.1h3.5M290.5,196.8h3.5M320.7,214.8h3.5M321.2,210.7h3.5M321.8,205.4h3.5M322.4,200.0h3.5M323.0,194.2h3.5M323.6,187.9h3.5M324.1,181.8h3.5M324.7,176.2h3.5M325.3,171.3h3.5M325.9,166.4h3.5M326.5,161.9h3.5M327.0,158.2h3.5M332.8,157.9h3.5M333.4,161.5h3.5M334.0,166.3h3.5M334.6,171.7h3.5M335.2,176.9h3.5M335.7,181.6h3.5M336.3,186.3h3.5M336.9,191.1h3.5M337.5,195.5h3.5M338.1,199.5h3.5M338.6,203.1h3.5M377.5,209.3h3.5M378.1,205.7h3.5M378.7,201.7h3.5M379.2,197.7h3.5M379.8,193.9h3.5M387.9,195.3h3.5M388.5,199.2h3.5M389.1,203.6h3.5M389.7,207.9h3.5M390.3,211.8h3.5" stroke="#000" stroke-width="2.4" fill="none"/>
<path d="M247.0,644.0L248.0,644.0L249.0,643.8L250.0,643.6L251.0,643.3L252.0,642.9L253.0,642.5L254.0,642.0L255.0,641.2L256.0,639.9L257.0,638.2L258.0,636.2L259.0,634.0L260.0,630.6L261.0,626.2L262.0,623.0L263.0,621.0L264.0,619.3L265.0,618.2L266.0,618.1L267.0,618.8L268.0,620.0L269.0,621.0L270.0,622.0L271.0,623.0L272.0,623.4L273.0,622.4L274.0,620.1L275.0,616.1L276.0,608.8L277.0,602.9L278.0,597.4L279.0,592.9L280.0,591.0L281.0,592.7L282.0,596.9L283.0,602.1L284.0,606.9L285.0,612.5L286.0,618.3L287.0,623.0L288.0,626.8L289.0,630.0L290.0,632.0L291.0,633.0L292.0,633.7L293.0,634.0L294.0,633.7L295.0,632.9L296.0,631.9L297.0,631.0L298.0,630.1L299.0,629.1L300.0,628.3L301.0,628.0L302.0,628.3L303.0,629.2L304.0,630.2L305.0,631.0L306.0,631.8L307.0,632.5L308.0,633.1L309.0,633.4L310.0,633.1L311.0,632.4L312.0,631.3L313.0,630.0L314.0,628.1L315.0,625.2L316.0,621.1L317.0,613.9L318.0,605.0L319.0,594.1L320.0,581.7L321.0,570.0L322.0,558.5L323.0,549.8L324.0,542.1L325.0,538.6L326.0,542.2L327.0,549.9L328.0,558.2L329.0,568.7L330.0,579.0L331.0,588.3L332.0,597.2L333.0,605.0L334.0,612.1L335.0,618.4L336.0,623.0L337.0,626.1L338.0,628.7L339.0,630.7L340.0,632.0L341.0,632.8L342.0,633.4L343.0,633.8L344.0,634.2L345.0,634.6L346.0,635.0L347.0,635.4L348.0,635.7L349.0,636.0L350.0,636.0L351.0,635.8L352.0,635.5L353.0,635.1L354.0,634.6L355.0,634.0L356.0,633.1L357.0,631.5L358.0,629.6L359.0,627.4L360.0,625.0L361.0,622.0L362.0,618.2L363.0,614.3L364.0,611.0L365.0,608.1L366.0,605.1L367.0,602.9L368.0,602.0L369.0,602.9L370.0,605.2L371.0,608.1L372.0,611.0L373.0,613.9L374.0,617.3L375.0,620.8L376.0,624.1L377.0,627.0L378.0,629.7L379.0,632.3L380.0,634.8L381.0,636.7L382.0,638.0L383.0,638.8L384.0,639.5L385.0,640.0L386.0,640.5L387.0,641.0L388.0,641.3L389.0,641.7L390.0,642.0L391.0,642.3L392.0,642.6L393.0,642.9L394.0,643.2L395.0,643.4L396.0,643.6L397.0,643.8L398.0,644.0L399.0,644.2L400.0,644.4L401.0,644.6L402.0,644.7L403.0,644.9L404.0,645.0L405.0,645.1L406.0,645.2L407.0,645.3L408.0,645.4" stroke="#000" stroke-width="1.5" fill="none" stroke-linejoin="round"/>
<path d="M245.5,644.0h3M246.5,644.0h3M247.5,643.8h3M248.5,643.6h3M249.5,643.3h3M250.5,642.9h3M251.5,642.5h3M252.5,642.0h3M253.5,641.2h3M254.5,639.9h3M255.5,638.2h3M256.5,636.2h3M257.5,634.0h3M258.5,630.6h3M259.5,626.2h3M260.5,623.0h3M261.5,621.0h3M262.5,619.3h3M263.5,618.2h3M264.5,618.1h3M265.5,618.8h3M266.5,620.0h3M267.5,621.0h3M268.5,622.0h3M269.5,623.0h3M270.5,623.4h3M271.5,622.4h3M272.5,620.1h3M273.5,616.1h3M274.5,608.8h3M275.5,602.9h3M276.5,597.4h3M277.5,592.9h3M278.5,591.0h3M279.5,592.7h3M280.5,596.9h3M281.5,602.1h3M282.5,606.9h3M283.5,612.5h3M284.5,618.3h3M285.5,623.0h3M286.5,626.8h3M287.5,630.0h3M288.5,632.0h3M289.5,633.0h3M290.5,633.7h3M291.5,634.0h3M292.5,633.7h3M293.5,632.9h3M294.5,631.9h3M295.5,631.0h3M296.5,630.1h3M297.5,629.1h3M298.5,628.3h3M299.5,628.0h3M300.5,628.3h3M301.5,629.2h3M302.5,630.2h3M303.5,631.0h3M304.5,631.8h3M305.5,632.5h3M306.5,633.1h3M307.5,633.4h3M308.5,633.1h3M309.5,632.4h3M310.5,631.3h3M311.5,630.0h3M312.5,628.1h3M313.5,625.2h3M314.5,621.1h3M315.5,613.9h3M316.5,605.0h3M317.5,594.1h3M318.5,581.7h3M319.5,570.0h3M320.5,558.5h3M321.5,549.8h3M322.5,542.1h3M323.5,538.6h3M324.5,542.2h3M325.5,549.9h3M326.5,558.2h3M327.5,568.7h3M328.5,579.0h3M329.5,588.3h3M330.5,597.2h3M331.5,605.0h3M332.5,612.1h3M333.5,618.4h3M334.5,623.0h3M335.5,626.1h3M336.5,628.7h3M337.5,630.7h3M338.5,632.0h3M339.5,632.8h3M340.5,633.4h3M341.5,633.8h3M342.5,634.2h3M343.5,634.6h3M344.5,635.0h3M345.5,635.4h3M346.5,635.7h3M347.5,636.0h3M348.5,636.0h3M349.5,635.8h3M350.5,635.5h3M351.5,635.1h3M352.5,634.6h3M353.5,634.0h3M354.5,633.1h3M355.5,631.5h3M356.5,629.6h3M357.5,627.4h3M358.5,625.0h3M359.5,622.0h3M360.5,618.2h3M361.5,614.3h3M362.5,611.0h3M363.5,608.1h3M364.5,605.1h3M365.5,602.9h3M366.5,602.0h3M367.5,602.9h3M368.5,605.2h3M369.5,608.1h3M370.5,611.0h3M371.5,613.9h3M372.5,617.3h3M373.5,620.8h3M374.5,624.1h3M375.5,627.0h3M376.5,629.7h3M377.5,632.3h3M378.5,634.8h3M379.5,636.7h3M380.5,638.0h3M381.5,638.8h3M382.5,639.5h3M383.5,640.0h3M384.5,640.5h3M385.5,641.0h3M386.5,641.3h3M387.5,641.7h3M388.5,642.0h3M389.5,642.3h3M390.5,642.6h3M391.5,642.9h3M392.5,643.2h3M393.5,643.4h3M394.5,643.6h3M395.5,643.8h3M396.5,644.0h3M397.5,644.2h3M398.5,644.4h3M399.5,644.6h3M400.5,644.7h3M401.5,644.9h3M402.5,645.0h3M403.5,645.1h3M404.5,645.2h3M405.5,645.3h3M406.5,645.4h3" stroke="#000" stroke-width="3.0" fill="none"/>
<path d="M156.8,339.1v2.9" stroke="#000" stroke-width="2.1" stroke-linecap="round"/>
<circle cx="156.5" cy="756.4" r="1.2"/><circle cx="465.3" cy="676.3" r="1"/>
</svg></body></html>
